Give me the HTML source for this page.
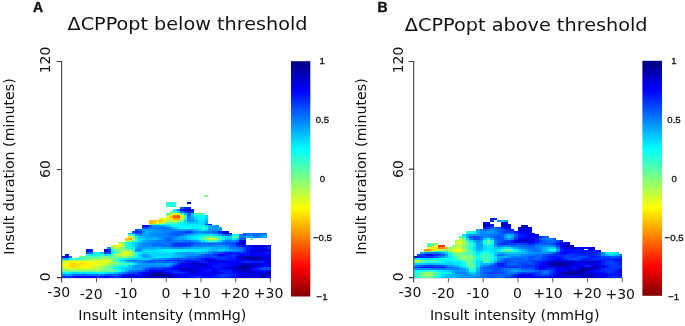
<!DOCTYPE html>
<html lang="en">
<head>
<meta charset="utf-8">
<title>ΔCPPopt insult intensity/duration heatmaps</title>
<style>
html,body{margin:0;padding:0;background:#fff;}
body{width:685px;height:326px;overflow:hidden;}
svg{display:block;}
text{opacity:0.999;}
.t{font-family:"DejaVu Sans","Liberation Sans",sans-serif;fill:#111;}
.a{font-family:"Liberation Sans",sans-serif;fill:#111;}
</style>
</head>
<body>
<svg width="685" height="326" viewBox="0 0 685 326">
<defs>
<linearGradient id="jet" x1="0" y1="0" x2="0" y2="1">
<stop offset="0" stop-color="#000080"/>
<stop offset="0.125" stop-color="#0000ff"/>
<stop offset="0.375" stop-color="#00ffff"/>
<stop offset="0.625" stop-color="#ffff00"/>
<stop offset="0.875" stop-color="#ff0000"/>
<stop offset="1" stop-color="#800000"/>
</linearGradient>
<filter id="soft" x="-2%" y="-5%" width="104%" height="110%"><feGaussianBlur stdDeviation="0.6"/></filter>
</defs>
<rect x="0" y="0" width="685" height="326" fill="#ffffff"/>

<!-- ===== Panel A ===== -->
<text class="a" x="33" y="11.8" font-size="14" font-weight="bold" stroke="#111" stroke-width="0.35">A</text>
<text class="t" x="67.5" y="29.7" font-size="18.5" textLength="240" lengthAdjust="spacingAndGlyphs">ΔCPPopt below threshold</text>
<path d="M61.65 277.9H270.4" stroke="#9a9a9a" stroke-width="0.7" fill="none"/>
<g filter="url(#soft)" shape-rendering="crispEdges">
<rect x="62.00" y="275.60" width="3.53" height="2.59" fill="#0027ff"/>
<rect x="62.00" y="273.81" width="3.53" height="1.85" fill="#0084ff"/>
<rect x="62.00" y="272.01" width="3.53" height="1.85" fill="#00ecff"/>
<rect x="62.00" y="270.22" width="3.53" height="1.85" fill="#68ff97"/>
<rect x="62.00" y="268.42" width="3.53" height="1.85" fill="#97ff68"/>
<rect x="62.00" y="266.63" width="3.53" height="1.85" fill="#c7ff38"/>
<rect x="62.00" y="264.83" width="3.53" height="1.85" fill="#e6ff19"/>
<rect x="62.00" y="263.04" width="3.53" height="1.85" fill="#deff21"/>
<rect x="62.00" y="261.25" width="3.53" height="1.85" fill="#bfff40"/>
<rect x="62.00" y="259.45" width="3.53" height="1.85" fill="#77ff88"/>
<rect x="62.00" y="257.65" width="3.53" height="1.85" fill="#00cbff"/>
<rect x="62.00" y="255.86" width="3.53" height="1.85" fill="#0000fc"/>
<rect x="65.48" y="275.60" width="3.53" height="2.59" fill="#0033ff"/>
<rect x="65.48" y="273.81" width="3.53" height="1.85" fill="#0099ff"/>
<rect x="65.48" y="272.01" width="3.53" height="1.85" fill="#00f8ff"/>
<rect x="65.48" y="270.22" width="3.53" height="1.85" fill="#6dff92"/>
<rect x="65.48" y="268.42" width="3.53" height="1.85" fill="#b4ff4b"/>
<rect x="65.48" y="266.63" width="3.53" height="1.85" fill="#f6ff09"/>
<rect x="65.48" y="264.83" width="3.53" height="1.85" fill="#fff300"/>
<rect x="65.48" y="263.04" width="3.53" height="1.85" fill="#fffd00"/>
<rect x="65.48" y="261.25" width="3.53" height="1.85" fill="#e5ff1a"/>
<rect x="65.48" y="259.45" width="3.53" height="1.85" fill="#84ff7b"/>
<rect x="65.48" y="257.65" width="3.53" height="1.85" fill="#00b0ff"/>
<rect x="65.48" y="255.86" width="3.53" height="1.85" fill="#0000ca"/>
<rect x="65.48" y="254.06" width="3.53" height="1.85" fill="#000cff"/>
<rect x="68.95" y="275.60" width="3.53" height="2.59" fill="#0031ff"/>
<rect x="68.95" y="273.81" width="3.53" height="1.85" fill="#0090ff"/>
<rect x="68.95" y="272.01" width="3.53" height="1.85" fill="#00e5ff"/>
<rect x="68.95" y="270.22" width="3.53" height="1.85" fill="#72ff8d"/>
<rect x="68.95" y="268.42" width="3.53" height="1.85" fill="#cfff30"/>
<rect x="68.95" y="266.63" width="3.53" height="1.85" fill="#ffe800"/>
<rect x="68.95" y="264.83" width="3.53" height="1.85" fill="#ffdd00"/>
<rect x="68.95" y="263.04" width="3.53" height="1.85" fill="#ffe600"/>
<rect x="68.95" y="261.25" width="3.53" height="1.85" fill="#fffb00"/>
<rect x="68.95" y="259.45" width="3.53" height="1.85" fill="#a6ff59"/>
<rect x="68.95" y="257.65" width="3.53" height="1.85" fill="#00fdff"/>
<rect x="68.95" y="255.86" width="3.53" height="1.85" fill="#0075ff"/>
<rect x="72.43" y="275.60" width="3.53" height="2.59" fill="#0012ff"/>
<rect x="72.43" y="273.81" width="3.53" height="1.85" fill="#006aff"/>
<rect x="72.43" y="272.01" width="3.53" height="1.85" fill="#00d4ff"/>
<rect x="72.43" y="270.22" width="3.53" height="1.85" fill="#6eff91"/>
<rect x="72.43" y="268.42" width="3.53" height="1.85" fill="#d6ff29"/>
<rect x="72.43" y="266.63" width="3.53" height="1.85" fill="#ffe200"/>
<rect x="72.43" y="264.83" width="3.53" height="1.85" fill="#ffda00"/>
<rect x="72.43" y="263.04" width="3.53" height="1.85" fill="#ffe300"/>
<rect x="72.43" y="261.25" width="3.53" height="1.85" fill="#fff100"/>
<rect x="72.43" y="259.45" width="3.53" height="1.85" fill="#b3ff4c"/>
<rect x="72.43" y="257.65" width="3.53" height="1.85" fill="#37ffc8"/>
<rect x="75.91" y="275.60" width="3.53" height="2.59" fill="#0000fe"/>
<rect x="75.91" y="273.81" width="3.53" height="1.85" fill="#0067ff"/>
<rect x="75.91" y="272.01" width="3.53" height="1.85" fill="#00d9ff"/>
<rect x="75.91" y="270.22" width="3.53" height="1.85" fill="#66ff99"/>
<rect x="75.91" y="268.42" width="3.53" height="1.85" fill="#d2ff2d"/>
<rect x="75.91" y="266.63" width="3.53" height="1.85" fill="#fff000"/>
<rect x="75.91" y="264.83" width="3.53" height="1.85" fill="#ffe300"/>
<rect x="75.91" y="263.04" width="3.53" height="1.85" fill="#ffe200"/>
<rect x="75.91" y="261.25" width="3.53" height="1.85" fill="#fff800"/>
<rect x="75.91" y="259.45" width="3.53" height="1.85" fill="#a5ff5a"/>
<rect x="75.91" y="257.65" width="3.53" height="1.85" fill="#34ffcb"/>
<rect x="79.38" y="275.60" width="3.53" height="2.59" fill="#0000eb"/>
<rect x="79.38" y="273.81" width="3.53" height="1.85" fill="#0062ff"/>
<rect x="79.38" y="272.01" width="3.53" height="1.85" fill="#00e4ff"/>
<rect x="79.38" y="270.22" width="3.53" height="1.85" fill="#71ff8e"/>
<rect x="79.38" y="268.42" width="3.53" height="1.85" fill="#d0ff2f"/>
<rect x="79.38" y="266.63" width="3.53" height="1.85" fill="#fcff03"/>
<rect x="79.38" y="264.83" width="3.53" height="1.85" fill="#fff100"/>
<rect x="79.38" y="263.04" width="3.53" height="1.85" fill="#ffe200"/>
<rect x="79.38" y="261.25" width="3.53" height="1.85" fill="#ffff00"/>
<rect x="79.38" y="259.45" width="3.53" height="1.85" fill="#a0ff5f"/>
<rect x="79.38" y="257.65" width="3.53" height="1.85" fill="#3effc1"/>
<rect x="79.38" y="255.86" width="3.53" height="1.85" fill="#63ff9c"/>
<rect x="82.86" y="275.60" width="3.53" height="2.59" fill="#0000ef"/>
<rect x="82.86" y="273.81" width="3.53" height="1.85" fill="#0055ff"/>
<rect x="82.86" y="272.01" width="3.53" height="1.85" fill="#00e1ff"/>
<rect x="82.86" y="270.22" width="3.53" height="1.85" fill="#7aff85"/>
<rect x="82.86" y="268.42" width="3.53" height="1.85" fill="#d6ff29"/>
<rect x="82.86" y="266.63" width="3.53" height="1.85" fill="#f7ff08"/>
<rect x="82.86" y="264.83" width="3.53" height="1.85" fill="#fff900"/>
<rect x="82.86" y="263.04" width="3.53" height="1.85" fill="#ffe700"/>
<rect x="82.86" y="261.25" width="3.53" height="1.85" fill="#f7ff08"/>
<rect x="82.86" y="259.45" width="3.53" height="1.85" fill="#acff53"/>
<rect x="82.86" y="257.65" width="3.53" height="1.85" fill="#5dffa2"/>
<rect x="82.86" y="255.86" width="3.53" height="1.85" fill="#61ff9e"/>
<rect x="86.34" y="275.60" width="3.53" height="2.59" fill="#0006ff"/>
<rect x="86.34" y="273.81" width="3.53" height="1.85" fill="#0069ff"/>
<rect x="86.34" y="272.01" width="3.53" height="1.85" fill="#00e8ff"/>
<rect x="86.34" y="270.22" width="3.53" height="1.85" fill="#74ff8b"/>
<rect x="86.34" y="268.42" width="3.53" height="1.85" fill="#c9ff36"/>
<rect x="86.34" y="266.63" width="3.53" height="1.85" fill="#f5ff0a"/>
<rect x="86.34" y="264.83" width="3.53" height="1.85" fill="#fff900"/>
<rect x="86.34" y="263.04" width="3.53" height="1.85" fill="#fff100"/>
<rect x="86.34" y="261.25" width="3.53" height="1.85" fill="#e8ff17"/>
<rect x="86.34" y="259.45" width="3.53" height="1.85" fill="#b9ff46"/>
<rect x="86.34" y="257.65" width="3.53" height="1.85" fill="#75ff8a"/>
<rect x="86.34" y="255.86" width="3.53" height="1.85" fill="#53ffac"/>
<rect x="86.34" y="254.06" width="3.53" height="1.85" fill="#00f9ff"/>
<rect x="86.34" y="252.27" width="3.53" height="1.85" fill="#005eff"/>
<rect x="86.34" y="250.47" width="3.53" height="1.85" fill="#0000d9"/>
<rect x="86.34" y="248.68" width="3.53" height="1.85" fill="#0014ff"/>
<rect x="89.81" y="275.60" width="3.53" height="2.59" fill="#0001ff"/>
<rect x="89.81" y="273.81" width="3.53" height="1.85" fill="#0070ff"/>
<rect x="89.81" y="272.01" width="3.53" height="1.85" fill="#00edff"/>
<rect x="89.81" y="270.22" width="3.53" height="1.85" fill="#72ff8d"/>
<rect x="89.81" y="268.42" width="3.53" height="1.85" fill="#bbff44"/>
<rect x="89.81" y="266.63" width="3.53" height="1.85" fill="#d9ff26"/>
<rect x="89.81" y="264.83" width="3.53" height="1.85" fill="#fdff02"/>
<rect x="89.81" y="263.04" width="3.53" height="1.85" fill="#fff500"/>
<rect x="89.81" y="261.25" width="3.53" height="1.85" fill="#e8ff17"/>
<rect x="89.81" y="259.45" width="3.53" height="1.85" fill="#c4ff3b"/>
<rect x="89.81" y="257.65" width="3.53" height="1.85" fill="#87ff78"/>
<rect x="89.81" y="255.86" width="3.53" height="1.85" fill="#52ffad"/>
<rect x="89.81" y="254.06" width="3.53" height="1.85" fill="#00f6ff"/>
<rect x="89.81" y="252.27" width="3.53" height="1.85" fill="#0071ff"/>
<rect x="89.81" y="250.47" width="3.53" height="1.85" fill="#0003ff"/>
<rect x="89.81" y="248.68" width="3.53" height="1.85" fill="#0032ff"/>
<rect x="93.29" y="275.60" width="3.53" height="2.59" fill="#0010ff"/>
<rect x="93.29" y="273.81" width="3.53" height="1.85" fill="#0071ff"/>
<rect x="93.29" y="272.01" width="3.53" height="1.85" fill="#00e8ff"/>
<rect x="93.29" y="270.22" width="3.53" height="1.85" fill="#78ff87"/>
<rect x="93.29" y="268.42" width="3.53" height="1.85" fill="#c1ff3e"/>
<rect x="93.29" y="266.63" width="3.53" height="1.85" fill="#b9ff46"/>
<rect x="93.29" y="264.83" width="3.53" height="1.85" fill="#e4ff1b"/>
<rect x="93.29" y="263.04" width="3.53" height="1.85" fill="#fbff04"/>
<rect x="93.29" y="261.25" width="3.53" height="1.85" fill="#ebff14"/>
<rect x="93.29" y="259.45" width="3.53" height="1.85" fill="#c2ff3d"/>
<rect x="93.29" y="257.65" width="3.53" height="1.85" fill="#87ff78"/>
<rect x="93.29" y="255.86" width="3.53" height="1.85" fill="#49ffb6"/>
<rect x="93.29" y="254.06" width="3.53" height="1.85" fill="#08fff7"/>
<rect x="93.29" y="252.27" width="3.53" height="1.85" fill="#00e3ff"/>
<rect x="96.77" y="275.60" width="3.53" height="2.59" fill="#002aff"/>
<rect x="96.77" y="273.81" width="3.53" height="1.85" fill="#007cff"/>
<rect x="96.77" y="272.01" width="3.53" height="1.85" fill="#00f7ff"/>
<rect x="96.77" y="270.22" width="3.53" height="1.85" fill="#74ff8b"/>
<rect x="96.77" y="268.42" width="3.53" height="1.85" fill="#b3ff4c"/>
<rect x="96.77" y="266.63" width="3.53" height="1.85" fill="#a5ff5a"/>
<rect x="96.77" y="264.83" width="3.53" height="1.85" fill="#ccff33"/>
<rect x="96.77" y="263.04" width="3.53" height="1.85" fill="#dfff20"/>
<rect x="96.77" y="261.25" width="3.53" height="1.85" fill="#e1ff1e"/>
<rect x="96.77" y="259.45" width="3.53" height="1.85" fill="#c0ff3f"/>
<rect x="96.77" y="257.65" width="3.53" height="1.85" fill="#88ff77"/>
<rect x="96.77" y="255.86" width="3.53" height="1.85" fill="#57ffa8"/>
<rect x="96.77" y="254.06" width="3.53" height="1.85" fill="#28ffd7"/>
<rect x="96.77" y="252.27" width="3.53" height="1.85" fill="#06fff9"/>
<rect x="100.24" y="275.60" width="3.53" height="2.59" fill="#0016ff"/>
<rect x="100.24" y="273.81" width="3.53" height="1.85" fill="#0075ff"/>
<rect x="100.24" y="272.01" width="3.53" height="1.85" fill="#01fffe"/>
<rect x="100.24" y="270.22" width="3.53" height="1.85" fill="#70ff8f"/>
<rect x="100.24" y="268.42" width="3.53" height="1.85" fill="#90ff6f"/>
<rect x="100.24" y="266.63" width="3.53" height="1.85" fill="#95ff6a"/>
<rect x="100.24" y="264.83" width="3.53" height="1.85" fill="#bcff43"/>
<rect x="100.24" y="263.04" width="3.53" height="1.85" fill="#d1ff2e"/>
<rect x="100.24" y="261.25" width="3.53" height="1.85" fill="#e6ff19"/>
<rect x="100.24" y="259.45" width="3.53" height="1.85" fill="#daff25"/>
<rect x="100.24" y="257.65" width="3.53" height="1.85" fill="#9bff64"/>
<rect x="100.24" y="255.86" width="3.53" height="1.85" fill="#76ff89"/>
<rect x="100.24" y="254.06" width="3.53" height="1.85" fill="#32ffcd"/>
<rect x="100.24" y="252.27" width="3.53" height="1.85" fill="#00c2ff"/>
<rect x="103.72" y="275.60" width="3.53" height="2.59" fill="#0000f9"/>
<rect x="103.72" y="273.81" width="3.53" height="1.85" fill="#0057ff"/>
<rect x="103.72" y="272.01" width="3.53" height="1.85" fill="#00eaff"/>
<rect x="103.72" y="270.22" width="3.53" height="1.85" fill="#66ff99"/>
<rect x="103.72" y="268.42" width="3.53" height="1.85" fill="#73ff8c"/>
<rect x="103.72" y="266.63" width="3.53" height="1.85" fill="#73ff8c"/>
<rect x="103.72" y="264.83" width="3.53" height="1.85" fill="#9eff61"/>
<rect x="103.72" y="263.04" width="3.53" height="1.85" fill="#c4ff3b"/>
<rect x="103.72" y="261.25" width="3.53" height="1.85" fill="#f0ff0f"/>
<rect x="103.72" y="259.45" width="3.53" height="1.85" fill="#f3ff0c"/>
<rect x="103.72" y="257.65" width="3.53" height="1.85" fill="#aaff55"/>
<rect x="103.72" y="255.86" width="3.53" height="1.85" fill="#6fff90"/>
<rect x="103.72" y="254.06" width="3.53" height="1.85" fill="#00e9ff"/>
<rect x="103.72" y="252.27" width="3.53" height="1.85" fill="#002dff"/>
<rect x="103.72" y="250.47" width="3.53" height="1.85" fill="#0000c8"/>
<rect x="103.72" y="248.68" width="3.53" height="1.85" fill="#0000cc"/>
<rect x="107.20" y="275.60" width="3.53" height="2.59" fill="#000cff"/>
<rect x="107.20" y="273.81" width="3.53" height="1.85" fill="#0047ff"/>
<rect x="107.20" y="272.01" width="3.53" height="1.85" fill="#00d7ff"/>
<rect x="107.20" y="270.22" width="3.53" height="1.85" fill="#60ff9f"/>
<rect x="107.20" y="268.42" width="3.53" height="1.85" fill="#71ff8e"/>
<rect x="107.20" y="266.63" width="3.53" height="1.85" fill="#4bffb4"/>
<rect x="107.20" y="264.83" width="3.53" height="1.85" fill="#76ff89"/>
<rect x="107.20" y="263.04" width="3.53" height="1.85" fill="#adff52"/>
<rect x="107.20" y="261.25" width="3.53" height="1.85" fill="#d8ff27"/>
<rect x="107.20" y="259.45" width="3.53" height="1.85" fill="#ddff22"/>
<rect x="107.20" y="257.65" width="3.53" height="1.85" fill="#a0ff5f"/>
<rect x="107.20" y="255.86" width="3.53" height="1.85" fill="#5dffa2"/>
<rect x="107.20" y="254.06" width="3.53" height="1.85" fill="#00f5ff"/>
<rect x="107.20" y="252.27" width="3.53" height="1.85" fill="#005aff"/>
<rect x="107.20" y="250.47" width="3.53" height="1.85" fill="#000eff"/>
<rect x="107.20" y="248.68" width="3.53" height="1.85" fill="#0025ff"/>
<rect x="107.20" y="246.88" width="3.53" height="1.85" fill="#0094ff"/>
<rect x="110.67" y="275.60" width="3.53" height="2.59" fill="#0024ff"/>
<rect x="110.67" y="273.81" width="3.53" height="1.85" fill="#004dff"/>
<rect x="110.67" y="272.01" width="3.53" height="1.85" fill="#00d4ff"/>
<rect x="110.67" y="270.22" width="3.53" height="1.85" fill="#5fffa0"/>
<rect x="110.67" y="268.42" width="3.53" height="1.85" fill="#59ffa6"/>
<rect x="110.67" y="266.63" width="3.53" height="1.85" fill="#27ffd8"/>
<rect x="110.67" y="264.83" width="3.53" height="1.85" fill="#4fffb0"/>
<rect x="110.67" y="263.04" width="3.53" height="1.85" fill="#94ff6b"/>
<rect x="110.67" y="261.25" width="3.53" height="1.85" fill="#a0ff5f"/>
<rect x="110.67" y="259.45" width="3.53" height="1.85" fill="#8eff71"/>
<rect x="110.67" y="257.65" width="3.53" height="1.85" fill="#75ff8a"/>
<rect x="110.67" y="255.86" width="3.53" height="1.85" fill="#66ff99"/>
<rect x="110.67" y="254.06" width="3.53" height="1.85" fill="#57ffa8"/>
<rect x="110.67" y="252.27" width="3.53" height="1.85" fill="#00feff"/>
<rect x="110.67" y="250.47" width="3.53" height="1.85" fill="#00ecff"/>
<rect x="110.67" y="248.68" width="3.53" height="1.85" fill="#15ffea"/>
<rect x="110.67" y="246.88" width="3.53" height="1.85" fill="#7bff84"/>
<rect x="110.67" y="245.09" width="3.53" height="1.85" fill="#bfff40"/>
<rect x="114.15" y="275.60" width="3.53" height="2.59" fill="#0038ff"/>
<rect x="114.15" y="273.81" width="3.53" height="1.85" fill="#0058ff"/>
<rect x="114.15" y="272.01" width="3.53" height="1.85" fill="#00c0ff"/>
<rect x="114.15" y="270.22" width="3.53" height="1.85" fill="#3fffc0"/>
<rect x="114.15" y="268.42" width="3.53" height="1.85" fill="#23ffdc"/>
<rect x="114.15" y="266.63" width="3.53" height="1.85" fill="#01fffe"/>
<rect x="114.15" y="264.83" width="3.53" height="1.85" fill="#2affd5"/>
<rect x="114.15" y="263.04" width="3.53" height="1.85" fill="#81ff7e"/>
<rect x="114.15" y="261.25" width="3.53" height="1.85" fill="#62ff9d"/>
<rect x="114.15" y="259.45" width="3.53" height="1.85" fill="#3fffc0"/>
<rect x="114.15" y="257.65" width="3.53" height="1.85" fill="#4cffb3"/>
<rect x="114.15" y="255.86" width="3.53" height="1.85" fill="#76ff89"/>
<rect x="114.15" y="254.06" width="3.53" height="1.85" fill="#94ff6b"/>
<rect x="114.15" y="252.27" width="3.53" height="1.85" fill="#4cffb3"/>
<rect x="114.15" y="250.47" width="3.53" height="1.85" fill="#3dffc2"/>
<rect x="114.15" y="248.68" width="3.53" height="1.85" fill="#66ff99"/>
<rect x="114.15" y="246.88" width="3.53" height="1.85" fill="#c2ff3d"/>
<rect x="114.15" y="245.09" width="3.53" height="1.85" fill="#fff900"/>
<rect x="117.63" y="275.60" width="3.53" height="2.59" fill="#0028ff"/>
<rect x="117.63" y="273.81" width="3.53" height="1.85" fill="#0044ff"/>
<rect x="117.63" y="272.01" width="3.53" height="1.85" fill="#009bff"/>
<rect x="117.63" y="270.22" width="3.53" height="1.85" fill="#0afff5"/>
<rect x="117.63" y="268.42" width="3.53" height="1.85" fill="#00f8ff"/>
<rect x="117.63" y="266.63" width="3.53" height="1.85" fill="#00edff"/>
<rect x="117.63" y="264.83" width="3.53" height="1.85" fill="#09fff6"/>
<rect x="117.63" y="263.04" width="3.53" height="1.85" fill="#6bff94"/>
<rect x="117.63" y="261.25" width="3.53" height="1.85" fill="#2effd1"/>
<rect x="117.63" y="259.45" width="3.53" height="1.85" fill="#00ffff"/>
<rect x="117.63" y="257.65" width="3.53" height="1.85" fill="#25ffda"/>
<rect x="117.63" y="255.86" width="3.53" height="1.85" fill="#80ff7f"/>
<rect x="117.63" y="254.06" width="3.53" height="1.85" fill="#b1ff4e"/>
<rect x="117.63" y="252.27" width="3.53" height="1.85" fill="#8bff74"/>
<rect x="117.63" y="250.47" width="3.53" height="1.85" fill="#76ff89"/>
<rect x="117.63" y="248.68" width="3.53" height="1.85" fill="#82ff7d"/>
<rect x="117.63" y="246.88" width="3.53" height="1.85" fill="#b0ff4f"/>
<rect x="117.63" y="245.09" width="3.53" height="1.85" fill="#fffe00"/>
<rect x="117.63" y="243.29" width="3.53" height="1.85" fill="#f8ff07"/>
<rect x="117.63" y="241.50" width="3.53" height="1.85" fill="#b5ff4a"/>
<rect x="121.10" y="275.60" width="3.53" height="2.59" fill="#0000fe"/>
<rect x="121.10" y="273.81" width="3.53" height="1.85" fill="#0024ff"/>
<rect x="121.10" y="272.01" width="3.53" height="1.85" fill="#0083ff"/>
<rect x="121.10" y="270.22" width="3.53" height="1.85" fill="#00dfff"/>
<rect x="121.10" y="268.42" width="3.53" height="1.85" fill="#00d5ff"/>
<rect x="121.10" y="266.63" width="3.53" height="1.85" fill="#00e1ff"/>
<rect x="121.10" y="264.83" width="3.53" height="1.85" fill="#00fbff"/>
<rect x="121.10" y="263.04" width="3.53" height="1.85" fill="#5affa5"/>
<rect x="121.10" y="261.25" width="3.53" height="1.85" fill="#00feff"/>
<rect x="121.10" y="259.45" width="3.53" height="1.85" fill="#00b5ff"/>
<rect x="121.10" y="257.65" width="3.53" height="1.85" fill="#0dfff2"/>
<rect x="121.10" y="255.86" width="3.53" height="1.85" fill="#94ff6b"/>
<rect x="121.10" y="254.06" width="3.53" height="1.85" fill="#c9ff36"/>
<rect x="121.10" y="252.27" width="3.53" height="1.85" fill="#c7ff38"/>
<rect x="121.10" y="250.47" width="3.53" height="1.85" fill="#b2ff4d"/>
<rect x="121.10" y="248.68" width="3.53" height="1.85" fill="#8fff70"/>
<rect x="121.10" y="246.88" width="3.53" height="1.85" fill="#73ff8c"/>
<rect x="121.10" y="245.09" width="3.53" height="1.85" fill="#a7ff58"/>
<rect x="121.10" y="243.29" width="3.53" height="1.85" fill="#a2ff5d"/>
<rect x="121.10" y="241.50" width="3.53" height="1.85" fill="#6cff93"/>
<rect x="124.58" y="275.60" width="3.53" height="2.59" fill="#0000e3"/>
<rect x="124.58" y="273.81" width="3.53" height="1.85" fill="#0008ff"/>
<rect x="124.58" y="272.01" width="3.53" height="1.85" fill="#0064ff"/>
<rect x="124.58" y="270.22" width="3.53" height="1.85" fill="#00adff"/>
<rect x="124.58" y="268.42" width="3.53" height="1.85" fill="#00bcff"/>
<rect x="124.58" y="266.63" width="3.53" height="1.85" fill="#00deff"/>
<rect x="124.58" y="264.83" width="3.53" height="1.85" fill="#00f6ff"/>
<rect x="124.58" y="263.04" width="3.53" height="1.85" fill="#4bffb4"/>
<rect x="124.58" y="261.25" width="3.53" height="1.85" fill="#00d1ff"/>
<rect x="124.58" y="259.45" width="3.53" height="1.85" fill="#007eff"/>
<rect x="124.58" y="257.65" width="3.53" height="1.85" fill="#00f7ff"/>
<rect x="124.58" y="255.86" width="3.53" height="1.85" fill="#8fff70"/>
<rect x="124.58" y="254.06" width="3.53" height="1.85" fill="#d1ff2e"/>
<rect x="124.58" y="252.27" width="3.53" height="1.85" fill="#e6ff19"/>
<rect x="124.58" y="250.47" width="3.53" height="1.85" fill="#c9ff36"/>
<rect x="124.58" y="248.68" width="3.53" height="1.85" fill="#86ff79"/>
<rect x="124.58" y="246.88" width="3.53" height="1.85" fill="#3dffc2"/>
<rect x="124.58" y="245.09" width="3.53" height="1.85" fill="#38ffc7"/>
<rect x="124.58" y="243.29" width="3.53" height="1.85" fill="#2cffd3"/>
<rect x="124.58" y="241.50" width="3.53" height="1.85" fill="#30ffcf"/>
<rect x="124.58" y="239.70" width="3.53" height="1.85" fill="#b3ff4c"/>
<rect x="124.58" y="237.91" width="3.53" height="1.85" fill="#ffbe00"/>
<rect x="128.06" y="275.60" width="3.53" height="2.59" fill="#0000da"/>
<rect x="128.06" y="273.81" width="3.53" height="1.85" fill="#0000f4"/>
<rect x="128.06" y="272.01" width="3.53" height="1.85" fill="#0046ff"/>
<rect x="128.06" y="270.22" width="3.53" height="1.85" fill="#0084ff"/>
<rect x="128.06" y="268.42" width="3.53" height="1.85" fill="#00b1ff"/>
<rect x="128.06" y="266.63" width="3.53" height="1.85" fill="#00c8ff"/>
<rect x="128.06" y="264.83" width="3.53" height="1.85" fill="#00d3ff"/>
<rect x="128.06" y="263.04" width="3.53" height="1.85" fill="#29ffd6"/>
<rect x="128.06" y="261.25" width="3.53" height="1.85" fill="#00b2ff"/>
<rect x="128.06" y="259.45" width="3.53" height="1.85" fill="#0067ff"/>
<rect x="128.06" y="257.65" width="3.53" height="1.85" fill="#00deff"/>
<rect x="128.06" y="255.86" width="3.53" height="1.85" fill="#6bff94"/>
<rect x="128.06" y="254.06" width="3.53" height="1.85" fill="#b5ff4a"/>
<rect x="128.06" y="252.27" width="3.53" height="1.85" fill="#d0ff2f"/>
<rect x="128.06" y="250.47" width="3.53" height="1.85" fill="#adff52"/>
<rect x="128.06" y="248.68" width="3.53" height="1.85" fill="#6bff94"/>
<rect x="128.06" y="246.88" width="3.53" height="1.85" fill="#24ffdb"/>
<rect x="128.06" y="245.09" width="3.53" height="1.85" fill="#03fffc"/>
<rect x="128.06" y="243.29" width="3.53" height="1.85" fill="#00f1ff"/>
<rect x="128.06" y="241.50" width="3.53" height="1.85" fill="#02fffd"/>
<rect x="128.06" y="239.70" width="3.53" height="1.85" fill="#a1ff5e"/>
<rect x="128.06" y="237.91" width="3.53" height="1.85" fill="#ffad00"/>
<rect x="128.06" y="236.11" width="3.53" height="1.85" fill="#ffe700"/>
<rect x="128.06" y="234.32" width="3.53" height="1.85" fill="#62ff9d"/>
<rect x="128.06" y="232.52" width="3.53" height="1.85" fill="#00bbff"/>
<rect x="131.53" y="275.60" width="3.53" height="2.59" fill="#0000e7"/>
<rect x="131.53" y="273.81" width="3.53" height="1.85" fill="#0004ff"/>
<rect x="131.53" y="272.01" width="3.53" height="1.85" fill="#0043ff"/>
<rect x="131.53" y="270.22" width="3.53" height="1.85" fill="#0072ff"/>
<rect x="131.53" y="268.42" width="3.53" height="1.85" fill="#00a4ff"/>
<rect x="131.53" y="266.63" width="3.53" height="1.85" fill="#00a5ff"/>
<rect x="131.53" y="264.83" width="3.53" height="1.85" fill="#00a7ff"/>
<rect x="131.53" y="263.04" width="3.53" height="1.85" fill="#00f9ff"/>
<rect x="131.53" y="261.25" width="3.53" height="1.85" fill="#00a1ff"/>
<rect x="131.53" y="259.45" width="3.53" height="1.85" fill="#0064ff"/>
<rect x="131.53" y="257.65" width="3.53" height="1.85" fill="#00d3ff"/>
<rect x="131.53" y="255.86" width="3.53" height="1.85" fill="#3cffc3"/>
<rect x="131.53" y="254.06" width="3.53" height="1.85" fill="#77ff88"/>
<rect x="131.53" y="252.27" width="3.53" height="1.85" fill="#80ff7f"/>
<rect x="131.53" y="250.47" width="3.53" height="1.85" fill="#47ffb8"/>
<rect x="131.53" y="248.68" width="3.53" height="1.85" fill="#11ffee"/>
<rect x="131.53" y="246.88" width="3.53" height="1.85" fill="#00f7ff"/>
<rect x="131.53" y="245.09" width="3.53" height="1.85" fill="#00e8ff"/>
<rect x="131.53" y="243.29" width="3.53" height="1.85" fill="#00d7ff"/>
<rect x="131.53" y="241.50" width="3.53" height="1.85" fill="#00deff"/>
<rect x="131.53" y="239.70" width="3.53" height="1.85" fill="#58ffa7"/>
<rect x="131.53" y="237.91" width="3.53" height="1.85" fill="#beff41"/>
<rect x="131.53" y="236.11" width="3.53" height="1.85" fill="#93ff6c"/>
<rect x="131.53" y="234.32" width="3.53" height="1.85" fill="#01fffe"/>
<rect x="131.53" y="232.52" width="3.53" height="1.85" fill="#0075ff"/>
<rect x="131.53" y="230.73" width="3.53" height="1.85" fill="#0045ff"/>
<rect x="135.01" y="275.60" width="3.53" height="2.59" fill="#0000f0"/>
<rect x="135.01" y="273.81" width="3.53" height="1.85" fill="#0024ff"/>
<rect x="135.01" y="272.01" width="3.53" height="1.85" fill="#003cff"/>
<rect x="135.01" y="270.22" width="3.53" height="1.85" fill="#006cff"/>
<rect x="135.01" y="268.42" width="3.53" height="1.85" fill="#009bff"/>
<rect x="135.01" y="266.63" width="3.53" height="1.85" fill="#0095ff"/>
<rect x="135.01" y="264.83" width="3.53" height="1.85" fill="#0091ff"/>
<rect x="135.01" y="263.04" width="3.53" height="1.85" fill="#00c8ff"/>
<rect x="135.01" y="261.25" width="3.53" height="1.85" fill="#0096ff"/>
<rect x="135.01" y="259.45" width="3.53" height="1.85" fill="#006fff"/>
<rect x="135.01" y="257.65" width="3.53" height="1.85" fill="#00cbff"/>
<rect x="135.01" y="255.86" width="3.53" height="1.85" fill="#10ffef"/>
<rect x="135.01" y="254.06" width="3.53" height="1.85" fill="#24ffdb"/>
<rect x="135.01" y="252.27" width="3.53" height="1.85" fill="#1effe1"/>
<rect x="135.01" y="250.47" width="3.53" height="1.85" fill="#00c0ff"/>
<rect x="135.01" y="248.68" width="3.53" height="1.85" fill="#0085ff"/>
<rect x="135.01" y="246.88" width="3.53" height="1.85" fill="#00a4ff"/>
<rect x="135.01" y="245.09" width="3.53" height="1.85" fill="#00c5ff"/>
<rect x="135.01" y="243.29" width="3.53" height="1.85" fill="#00beff"/>
<rect x="135.01" y="241.50" width="3.53" height="1.85" fill="#00cdff"/>
<rect x="135.01" y="239.70" width="3.53" height="1.85" fill="#1affe5"/>
<rect x="135.01" y="237.91" width="3.53" height="1.85" fill="#1cffe3"/>
<rect x="135.01" y="236.11" width="3.53" height="1.85" fill="#00f3ff"/>
<rect x="135.01" y="234.32" width="3.53" height="1.85" fill="#00a4ff"/>
<rect x="135.01" y="232.52" width="3.53" height="1.85" fill="#004eff"/>
<rect x="135.01" y="230.73" width="3.53" height="1.85" fill="#0027ff"/>
<rect x="135.01" y="228.93" width="3.53" height="1.85" fill="#004dff"/>
<rect x="138.49" y="275.60" width="3.53" height="2.59" fill="#0000e5"/>
<rect x="138.49" y="273.81" width="3.53" height="1.85" fill="#0015ff"/>
<rect x="138.49" y="272.01" width="3.53" height="1.85" fill="#0015ff"/>
<rect x="138.49" y="270.22" width="3.53" height="1.85" fill="#0060ff"/>
<rect x="138.49" y="268.42" width="3.53" height="1.85" fill="#0095ff"/>
<rect x="138.49" y="266.63" width="3.53" height="1.85" fill="#009eff"/>
<rect x="138.49" y="264.83" width="3.53" height="1.85" fill="#0091ff"/>
<rect x="138.49" y="263.04" width="3.53" height="1.85" fill="#00a2ff"/>
<rect x="138.49" y="261.25" width="3.53" height="1.85" fill="#008eff"/>
<rect x="138.49" y="259.45" width="3.53" height="1.85" fill="#0084ff"/>
<rect x="138.49" y="257.65" width="3.53" height="1.85" fill="#00ccff"/>
<rect x="138.49" y="255.86" width="3.53" height="1.85" fill="#00dfff"/>
<rect x="138.49" y="254.06" width="3.53" height="1.85" fill="#00d6ff"/>
<rect x="138.49" y="252.27" width="3.53" height="1.85" fill="#00e9ff"/>
<rect x="138.49" y="250.47" width="3.53" height="1.85" fill="#00b1ff"/>
<rect x="138.49" y="248.68" width="3.53" height="1.85" fill="#0089ff"/>
<rect x="138.49" y="246.88" width="3.53" height="1.85" fill="#0090ff"/>
<rect x="138.49" y="245.09" width="3.53" height="1.85" fill="#00a1ff"/>
<rect x="138.49" y="243.29" width="3.53" height="1.85" fill="#009fff"/>
<rect x="138.49" y="241.50" width="3.53" height="1.85" fill="#00aaff"/>
<rect x="138.49" y="239.70" width="3.53" height="1.85" fill="#00dbff"/>
<rect x="138.49" y="237.91" width="3.53" height="1.85" fill="#00dcff"/>
<rect x="138.49" y="236.11" width="3.53" height="1.85" fill="#00bbff"/>
<rect x="138.49" y="234.32" width="3.53" height="1.85" fill="#008cff"/>
<rect x="138.49" y="232.52" width="3.53" height="1.85" fill="#0061ff"/>
<rect x="138.49" y="230.73" width="3.53" height="1.85" fill="#003fff"/>
<rect x="138.49" y="228.93" width="3.53" height="1.85" fill="#0065ff"/>
<rect x="141.96" y="275.60" width="3.53" height="2.59" fill="#0000d1"/>
<rect x="141.96" y="273.81" width="3.53" height="1.85" fill="#0000e5"/>
<rect x="141.96" y="272.01" width="3.53" height="1.85" fill="#0000f9"/>
<rect x="141.96" y="270.22" width="3.53" height="1.85" fill="#0048ff"/>
<rect x="141.96" y="268.42" width="3.53" height="1.85" fill="#0076ff"/>
<rect x="141.96" y="266.63" width="3.53" height="1.85" fill="#0095ff"/>
<rect x="141.96" y="264.83" width="3.53" height="1.85" fill="#0099ff"/>
<rect x="141.96" y="263.04" width="3.53" height="1.85" fill="#0096ff"/>
<rect x="141.96" y="261.25" width="3.53" height="1.85" fill="#007cff"/>
<rect x="141.96" y="259.45" width="3.53" height="1.85" fill="#0090ff"/>
<rect x="141.96" y="257.65" width="3.53" height="1.85" fill="#00ccff"/>
<rect x="141.96" y="255.86" width="3.53" height="1.85" fill="#00a7ff"/>
<rect x="141.96" y="254.06" width="3.53" height="1.85" fill="#00a6ff"/>
<rect x="141.96" y="252.27" width="3.53" height="1.85" fill="#00d5ff"/>
<rect x="141.96" y="250.47" width="3.53" height="1.85" fill="#00d9ff"/>
<rect x="141.96" y="248.68" width="3.53" height="1.85" fill="#00c4ff"/>
<rect x="141.96" y="246.88" width="3.53" height="1.85" fill="#009bff"/>
<rect x="141.96" y="245.09" width="3.53" height="1.85" fill="#008bff"/>
<rect x="141.96" y="243.29" width="3.53" height="1.85" fill="#0089ff"/>
<rect x="141.96" y="241.50" width="3.53" height="1.85" fill="#0092ff"/>
<rect x="141.96" y="239.70" width="3.53" height="1.85" fill="#00b4ff"/>
<rect x="141.96" y="237.91" width="3.53" height="1.85" fill="#00cdff"/>
<rect x="141.96" y="236.11" width="3.53" height="1.85" fill="#00bdff"/>
<rect x="141.96" y="234.32" width="3.53" height="1.85" fill="#00a2ff"/>
<rect x="141.96" y="232.52" width="3.53" height="1.85" fill="#009fff"/>
<rect x="141.96" y="230.73" width="3.53" height="1.85" fill="#0093ff"/>
<rect x="141.96" y="228.93" width="3.53" height="1.85" fill="#0094ff"/>
<rect x="141.96" y="227.14" width="3.53" height="1.85" fill="#0053ff"/>
<rect x="141.96" y="225.34" width="3.53" height="1.85" fill="#0008ff"/>
<rect x="145.44" y="275.60" width="3.53" height="2.59" fill="#0000c0"/>
<rect x="145.44" y="273.81" width="3.53" height="1.85" fill="#0000c7"/>
<rect x="145.44" y="272.01" width="3.53" height="1.85" fill="#0000f2"/>
<rect x="145.44" y="270.22" width="3.53" height="1.85" fill="#0024ff"/>
<rect x="145.44" y="268.42" width="3.53" height="1.85" fill="#004cff"/>
<rect x="145.44" y="266.63" width="3.53" height="1.85" fill="#007aff"/>
<rect x="145.44" y="264.83" width="3.53" height="1.85" fill="#0092ff"/>
<rect x="145.44" y="263.04" width="3.53" height="1.85" fill="#009bff"/>
<rect x="145.44" y="261.25" width="3.53" height="1.85" fill="#0061ff"/>
<rect x="145.44" y="259.45" width="3.53" height="1.85" fill="#0084ff"/>
<rect x="145.44" y="257.65" width="3.53" height="1.85" fill="#00cdff"/>
<rect x="145.44" y="255.86" width="3.53" height="1.85" fill="#009fff"/>
<rect x="145.44" y="254.06" width="3.53" height="1.85" fill="#00aeff"/>
<rect x="145.44" y="252.27" width="3.53" height="1.85" fill="#00cdff"/>
<rect x="145.44" y="250.47" width="3.53" height="1.85" fill="#00f1ff"/>
<rect x="145.44" y="248.68" width="3.53" height="1.85" fill="#00d6ff"/>
<rect x="145.44" y="246.88" width="3.53" height="1.85" fill="#00a5ff"/>
<rect x="145.44" y="245.09" width="3.53" height="1.85" fill="#0089ff"/>
<rect x="145.44" y="243.29" width="3.53" height="1.85" fill="#0083ff"/>
<rect x="145.44" y="241.50" width="3.53" height="1.85" fill="#0090ff"/>
<rect x="145.44" y="239.70" width="3.53" height="1.85" fill="#00a0ff"/>
<rect x="145.44" y="237.91" width="3.53" height="1.85" fill="#00baff"/>
<rect x="145.44" y="236.11" width="3.53" height="1.85" fill="#00aaff"/>
<rect x="145.44" y="234.32" width="3.53" height="1.85" fill="#00a3ff"/>
<rect x="145.44" y="232.52" width="3.53" height="1.85" fill="#00b1ff"/>
<rect x="145.44" y="230.73" width="3.53" height="1.85" fill="#00b5ff"/>
<rect x="145.44" y="228.93" width="3.53" height="1.85" fill="#00a2ff"/>
<rect x="145.44" y="227.14" width="3.53" height="1.85" fill="#004dff"/>
<rect x="145.44" y="225.34" width="3.53" height="1.85" fill="#0000ec"/>
<rect x="148.92" y="275.60" width="3.53" height="2.59" fill="#0000bd"/>
<rect x="148.92" y="273.81" width="3.53" height="1.85" fill="#0000ae"/>
<rect x="148.92" y="272.01" width="3.53" height="1.85" fill="#0000d9"/>
<rect x="148.92" y="270.22" width="3.53" height="1.85" fill="#0000fd"/>
<rect x="148.92" y="268.42" width="3.53" height="1.85" fill="#0033ff"/>
<rect x="148.92" y="266.63" width="3.53" height="1.85" fill="#0063ff"/>
<rect x="148.92" y="264.83" width="3.53" height="1.85" fill="#0088ff"/>
<rect x="148.92" y="263.04" width="3.53" height="1.85" fill="#009aff"/>
<rect x="148.92" y="261.25" width="3.53" height="1.85" fill="#0053ff"/>
<rect x="148.92" y="259.45" width="3.53" height="1.85" fill="#0068ff"/>
<rect x="148.92" y="257.65" width="3.53" height="1.85" fill="#00c1ff"/>
<rect x="148.92" y="255.86" width="3.53" height="1.85" fill="#00b4ff"/>
<rect x="148.92" y="254.06" width="3.53" height="1.85" fill="#00caff"/>
<rect x="148.92" y="252.27" width="3.53" height="1.85" fill="#00d5ff"/>
<rect x="148.92" y="250.47" width="3.53" height="1.85" fill="#00f1ff"/>
<rect x="148.92" y="248.68" width="3.53" height="1.85" fill="#00cfff"/>
<rect x="148.92" y="246.88" width="3.53" height="1.85" fill="#00a7ff"/>
<rect x="148.92" y="245.09" width="3.53" height="1.85" fill="#0087ff"/>
<rect x="148.92" y="243.29" width="3.53" height="1.85" fill="#007aff"/>
<rect x="148.92" y="241.50" width="3.53" height="1.85" fill="#008bff"/>
<rect x="148.92" y="239.70" width="3.53" height="1.85" fill="#0096ff"/>
<rect x="148.92" y="237.91" width="3.53" height="1.85" fill="#00b6ff"/>
<rect x="148.92" y="236.11" width="3.53" height="1.85" fill="#009cff"/>
<rect x="148.92" y="234.32" width="3.53" height="1.85" fill="#0095ff"/>
<rect x="148.92" y="232.52" width="3.53" height="1.85" fill="#009bff"/>
<rect x="148.92" y="230.73" width="3.53" height="1.85" fill="#009fff"/>
<rect x="148.92" y="228.93" width="3.53" height="1.85" fill="#009bff"/>
<rect x="148.92" y="227.14" width="3.53" height="1.85" fill="#0072ff"/>
<rect x="148.92" y="225.34" width="3.53" height="1.85" fill="#0055ff"/>
<rect x="148.92" y="223.55" width="3.53" height="1.85" fill="#52ffad"/>
<rect x="148.92" y="221.75" width="3.53" height="1.85" fill="#ffb700"/>
<rect x="148.92" y="219.96" width="3.53" height="1.85" fill="#ffb600"/>
<rect x="152.39" y="275.60" width="3.53" height="2.59" fill="#0000ba"/>
<rect x="152.39" y="273.81" width="3.53" height="1.85" fill="#00008f"/>
<rect x="152.39" y="272.01" width="3.53" height="1.85" fill="#0000af"/>
<rect x="152.39" y="270.22" width="3.53" height="1.85" fill="#0000df"/>
<rect x="152.39" y="268.42" width="3.53" height="1.85" fill="#0026ff"/>
<rect x="152.39" y="266.63" width="3.53" height="1.85" fill="#0060ff"/>
<rect x="152.39" y="264.83" width="3.53" height="1.85" fill="#0086ff"/>
<rect x="152.39" y="263.04" width="3.53" height="1.85" fill="#009aff"/>
<rect x="152.39" y="261.25" width="3.53" height="1.85" fill="#005fff"/>
<rect x="152.39" y="259.45" width="3.53" height="1.85" fill="#005cff"/>
<rect x="152.39" y="257.65" width="3.53" height="1.85" fill="#00a5ff"/>
<rect x="152.39" y="255.86" width="3.53" height="1.85" fill="#00d6ff"/>
<rect x="152.39" y="254.06" width="3.53" height="1.85" fill="#00d8ff"/>
<rect x="152.39" y="252.27" width="3.53" height="1.85" fill="#00d7ff"/>
<rect x="152.39" y="250.47" width="3.53" height="1.85" fill="#00e9ff"/>
<rect x="152.39" y="248.68" width="3.53" height="1.85" fill="#00d2ff"/>
<rect x="152.39" y="246.88" width="3.53" height="1.85" fill="#00a7ff"/>
<rect x="152.39" y="245.09" width="3.53" height="1.85" fill="#0076ff"/>
<rect x="152.39" y="243.29" width="3.53" height="1.85" fill="#0070ff"/>
<rect x="152.39" y="241.50" width="3.53" height="1.85" fill="#0081ff"/>
<rect x="152.39" y="239.70" width="3.53" height="1.85" fill="#0089ff"/>
<rect x="152.39" y="237.91" width="3.53" height="1.85" fill="#00bcff"/>
<rect x="152.39" y="236.11" width="3.53" height="1.85" fill="#00a1ff"/>
<rect x="152.39" y="234.32" width="3.53" height="1.85" fill="#008dff"/>
<rect x="152.39" y="232.52" width="3.53" height="1.85" fill="#0094ff"/>
<rect x="152.39" y="230.73" width="3.53" height="1.85" fill="#0096ff"/>
<rect x="152.39" y="228.93" width="3.53" height="1.85" fill="#0098ff"/>
<rect x="152.39" y="227.14" width="3.53" height="1.85" fill="#0082ff"/>
<rect x="152.39" y="225.34" width="3.53" height="1.85" fill="#0092ff"/>
<rect x="152.39" y="223.55" width="3.53" height="1.85" fill="#63ff9c"/>
<rect x="152.39" y="221.75" width="3.53" height="1.85" fill="#ffc900"/>
<rect x="152.39" y="219.96" width="3.53" height="1.85" fill="#ffc300"/>
<rect x="155.87" y="275.60" width="3.53" height="2.59" fill="#0000bc"/>
<rect x="155.87" y="273.81" width="3.53" height="1.85" fill="#000080"/>
<rect x="155.87" y="272.01" width="3.53" height="1.85" fill="#0000a1"/>
<rect x="155.87" y="270.22" width="3.53" height="1.85" fill="#0000e7"/>
<rect x="155.87" y="268.42" width="3.53" height="1.85" fill="#002dff"/>
<rect x="155.87" y="266.63" width="3.53" height="1.85" fill="#006eff"/>
<rect x="155.87" y="264.83" width="3.53" height="1.85" fill="#008aff"/>
<rect x="155.87" y="263.04" width="3.53" height="1.85" fill="#009cff"/>
<rect x="155.87" y="261.25" width="3.53" height="1.85" fill="#006bff"/>
<rect x="155.87" y="259.45" width="3.53" height="1.85" fill="#005aff"/>
<rect x="155.87" y="257.65" width="3.53" height="1.85" fill="#0097ff"/>
<rect x="155.87" y="255.86" width="3.53" height="1.85" fill="#00f3ff"/>
<rect x="155.87" y="254.06" width="3.53" height="1.85" fill="#00d6ff"/>
<rect x="155.87" y="252.27" width="3.53" height="1.85" fill="#00d6ff"/>
<rect x="155.87" y="250.47" width="3.53" height="1.85" fill="#00e9ff"/>
<rect x="155.87" y="248.68" width="3.53" height="1.85" fill="#00e6ff"/>
<rect x="155.87" y="246.88" width="3.53" height="1.85" fill="#00b5ff"/>
<rect x="155.87" y="245.09" width="3.53" height="1.85" fill="#0075ff"/>
<rect x="155.87" y="243.29" width="3.53" height="1.85" fill="#006aff"/>
<rect x="155.87" y="241.50" width="3.53" height="1.85" fill="#0076ff"/>
<rect x="155.87" y="239.70" width="3.53" height="1.85" fill="#007cff"/>
<rect x="155.87" y="237.91" width="3.53" height="1.85" fill="#00afff"/>
<rect x="155.87" y="236.11" width="3.53" height="1.85" fill="#009bff"/>
<rect x="155.87" y="234.32" width="3.53" height="1.85" fill="#007dff"/>
<rect x="155.87" y="232.52" width="3.53" height="1.85" fill="#0091ff"/>
<rect x="155.87" y="230.73" width="3.53" height="1.85" fill="#0095ff"/>
<rect x="155.87" y="228.93" width="3.53" height="1.85" fill="#008eff"/>
<rect x="155.87" y="227.14" width="3.53" height="1.85" fill="#0076ff"/>
<rect x="155.87" y="225.34" width="3.53" height="1.85" fill="#0097ff"/>
<rect x="155.87" y="223.55" width="3.53" height="1.85" fill="#41ffbe"/>
<rect x="155.87" y="221.75" width="3.53" height="1.85" fill="#ebff14"/>
<rect x="155.87" y="219.96" width="3.53" height="1.85" fill="#ffda00"/>
<rect x="159.35" y="275.60" width="3.53" height="2.59" fill="#0000c2"/>
<rect x="159.35" y="273.81" width="3.53" height="1.85" fill="#000080"/>
<rect x="159.35" y="272.01" width="3.53" height="1.85" fill="#0000ad"/>
<rect x="159.35" y="270.22" width="3.53" height="1.85" fill="#0000fe"/>
<rect x="159.35" y="268.42" width="3.53" height="1.85" fill="#0033ff"/>
<rect x="159.35" y="266.63" width="3.53" height="1.85" fill="#0061ff"/>
<rect x="159.35" y="264.83" width="3.53" height="1.85" fill="#0088ff"/>
<rect x="159.35" y="263.04" width="3.53" height="1.85" fill="#009dff"/>
<rect x="159.35" y="261.25" width="3.53" height="1.85" fill="#006aff"/>
<rect x="159.35" y="259.45" width="3.53" height="1.85" fill="#0055ff"/>
<rect x="159.35" y="257.65" width="3.53" height="1.85" fill="#008fff"/>
<rect x="159.35" y="255.86" width="3.53" height="1.85" fill="#00e5ff"/>
<rect x="159.35" y="254.06" width="3.53" height="1.85" fill="#00d1ff"/>
<rect x="159.35" y="252.27" width="3.53" height="1.85" fill="#00e5ff"/>
<rect x="159.35" y="250.47" width="3.53" height="1.85" fill="#00efff"/>
<rect x="159.35" y="248.68" width="3.53" height="1.85" fill="#00ecff"/>
<rect x="159.35" y="246.88" width="3.53" height="1.85" fill="#00a9ff"/>
<rect x="159.35" y="245.09" width="3.53" height="1.85" fill="#0078ff"/>
<rect x="159.35" y="243.29" width="3.53" height="1.85" fill="#006bff"/>
<rect x="159.35" y="241.50" width="3.53" height="1.85" fill="#0076ff"/>
<rect x="159.35" y="239.70" width="3.53" height="1.85" fill="#007dff"/>
<rect x="159.35" y="237.91" width="3.53" height="1.85" fill="#0091ff"/>
<rect x="159.35" y="236.11" width="3.53" height="1.85" fill="#0089ff"/>
<rect x="159.35" y="234.32" width="3.53" height="1.85" fill="#007dff"/>
<rect x="159.35" y="232.52" width="3.53" height="1.85" fill="#0088ff"/>
<rect x="159.35" y="230.73" width="3.53" height="1.85" fill="#0092ff"/>
<rect x="159.35" y="228.93" width="3.53" height="1.85" fill="#0081ff"/>
<rect x="159.35" y="227.14" width="3.53" height="1.85" fill="#0070ff"/>
<rect x="159.35" y="225.34" width="3.53" height="1.85" fill="#009dff"/>
<rect x="159.35" y="223.55" width="3.53" height="1.85" fill="#23ffdc"/>
<rect x="159.35" y="221.75" width="3.53" height="1.85" fill="#d0ff2f"/>
<rect x="159.35" y="219.96" width="3.53" height="1.85" fill="#ffc000"/>
<rect x="159.35" y="218.16" width="3.53" height="1.85" fill="#ffeb00"/>
<rect x="162.82" y="275.60" width="3.53" height="2.59" fill="#0000bf"/>
<rect x="162.82" y="273.81" width="3.53" height="1.85" fill="#00008d"/>
<rect x="162.82" y="272.01" width="3.53" height="1.85" fill="#0000d4"/>
<rect x="162.82" y="270.22" width="3.53" height="1.85" fill="#0011ff"/>
<rect x="162.82" y="268.42" width="3.53" height="1.85" fill="#001fff"/>
<rect x="162.82" y="266.63" width="3.53" height="1.85" fill="#004aff"/>
<rect x="162.82" y="264.83" width="3.53" height="1.85" fill="#008bff"/>
<rect x="162.82" y="263.04" width="3.53" height="1.85" fill="#009eff"/>
<rect x="162.82" y="261.25" width="3.53" height="1.85" fill="#005eff"/>
<rect x="162.82" y="259.45" width="3.53" height="1.85" fill="#0042ff"/>
<rect x="162.82" y="257.65" width="3.53" height="1.85" fill="#008dff"/>
<rect x="162.82" y="255.86" width="3.53" height="1.85" fill="#00dcff"/>
<rect x="162.82" y="254.06" width="3.53" height="1.85" fill="#00ceff"/>
<rect x="162.82" y="252.27" width="3.53" height="1.85" fill="#00e6ff"/>
<rect x="162.82" y="250.47" width="3.53" height="1.85" fill="#00f3ff"/>
<rect x="162.82" y="248.68" width="3.53" height="1.85" fill="#00f1ff"/>
<rect x="162.82" y="246.88" width="3.53" height="1.85" fill="#009cff"/>
<rect x="162.82" y="245.09" width="3.53" height="1.85" fill="#006dff"/>
<rect x="162.82" y="243.29" width="3.53" height="1.85" fill="#0074ff"/>
<rect x="162.82" y="241.50" width="3.53" height="1.85" fill="#0077ff"/>
<rect x="162.82" y="239.70" width="3.53" height="1.85" fill="#006fff"/>
<rect x="162.82" y="237.91" width="3.53" height="1.85" fill="#0074ff"/>
<rect x="162.82" y="236.11" width="3.53" height="1.85" fill="#007eff"/>
<rect x="162.82" y="234.32" width="3.53" height="1.85" fill="#007cff"/>
<rect x="162.82" y="232.52" width="3.53" height="1.85" fill="#0079ff"/>
<rect x="162.82" y="230.73" width="3.53" height="1.85" fill="#008cff"/>
<rect x="162.82" y="228.93" width="3.53" height="1.85" fill="#007bff"/>
<rect x="162.82" y="227.14" width="3.53" height="1.85" fill="#0072ff"/>
<rect x="162.82" y="225.34" width="3.53" height="1.85" fill="#00acff"/>
<rect x="162.82" y="223.55" width="3.53" height="1.85" fill="#0ffff0"/>
<rect x="162.82" y="221.75" width="3.53" height="1.85" fill="#91ff6e"/>
<rect x="162.82" y="219.96" width="3.53" height="1.85" fill="#f8ff07"/>
<rect x="162.82" y="218.16" width="3.53" height="1.85" fill="#e8ff17"/>
<rect x="166.30" y="275.60" width="3.53" height="2.59" fill="#0000b8"/>
<rect x="166.30" y="273.81" width="3.53" height="1.85" fill="#000090"/>
<rect x="166.30" y="272.01" width="3.53" height="1.85" fill="#0000f5"/>
<rect x="166.30" y="270.22" width="3.53" height="1.85" fill="#0020ff"/>
<rect x="166.30" y="268.42" width="3.53" height="1.85" fill="#0018ff"/>
<rect x="166.30" y="266.63" width="3.53" height="1.85" fill="#0045ff"/>
<rect x="166.30" y="264.83" width="3.53" height="1.85" fill="#0089ff"/>
<rect x="166.30" y="263.04" width="3.53" height="1.85" fill="#00a4ff"/>
<rect x="166.30" y="261.25" width="3.53" height="1.85" fill="#005fff"/>
<rect x="166.30" y="259.45" width="3.53" height="1.85" fill="#0028ff"/>
<rect x="166.30" y="257.65" width="3.53" height="1.85" fill="#0077ff"/>
<rect x="166.30" y="255.86" width="3.53" height="1.85" fill="#00daff"/>
<rect x="166.30" y="254.06" width="3.53" height="1.85" fill="#00d5ff"/>
<rect x="166.30" y="252.27" width="3.53" height="1.85" fill="#00e0ff"/>
<rect x="166.30" y="250.47" width="3.53" height="1.85" fill="#00f9ff"/>
<rect x="166.30" y="248.68" width="3.53" height="1.85" fill="#00ffff"/>
<rect x="166.30" y="246.88" width="3.53" height="1.85" fill="#00a7ff"/>
<rect x="166.30" y="245.09" width="3.53" height="1.85" fill="#006aff"/>
<rect x="166.30" y="243.29" width="3.53" height="1.85" fill="#0073ff"/>
<rect x="166.30" y="241.50" width="3.53" height="1.85" fill="#006eff"/>
<rect x="166.30" y="239.70" width="3.53" height="1.85" fill="#0064ff"/>
<rect x="166.30" y="237.91" width="3.53" height="1.85" fill="#005eff"/>
<rect x="166.30" y="236.11" width="3.53" height="1.85" fill="#0079ff"/>
<rect x="166.30" y="234.32" width="3.53" height="1.85" fill="#0074ff"/>
<rect x="166.30" y="232.52" width="3.53" height="1.85" fill="#0068ff"/>
<rect x="166.30" y="230.73" width="3.53" height="1.85" fill="#0081ff"/>
<rect x="166.30" y="228.93" width="3.53" height="1.85" fill="#007aff"/>
<rect x="166.30" y="227.14" width="3.53" height="1.85" fill="#007bff"/>
<rect x="166.30" y="225.34" width="3.53" height="1.85" fill="#00c8ff"/>
<rect x="166.30" y="223.55" width="3.53" height="1.85" fill="#11ffee"/>
<rect x="166.30" y="221.75" width="3.53" height="1.85" fill="#58ffa7"/>
<rect x="166.30" y="219.96" width="3.53" height="1.85" fill="#aaff55"/>
<rect x="166.30" y="218.16" width="3.53" height="1.85" fill="#d7ff28"/>
<rect x="166.30" y="216.37" width="3.53" height="1.85" fill="#e6ff19"/>
<rect x="166.30" y="214.57" width="3.53" height="1.85" fill="#b8ff47"/>
<rect x="166.30" y="212.78" width="3.53" height="1.85" fill="#4bffb4"/>
<rect x="169.78" y="275.60" width="3.53" height="2.59" fill="#0000ba"/>
<rect x="169.78" y="273.81" width="3.53" height="1.85" fill="#0000b0"/>
<rect x="169.78" y="272.01" width="3.53" height="1.85" fill="#000eff"/>
<rect x="169.78" y="270.22" width="3.53" height="1.85" fill="#001dff"/>
<rect x="169.78" y="268.42" width="3.53" height="1.85" fill="#0009ff"/>
<rect x="169.78" y="266.63" width="3.53" height="1.85" fill="#001fff"/>
<rect x="169.78" y="264.83" width="3.53" height="1.85" fill="#005dff"/>
<rect x="169.78" y="263.04" width="3.53" height="1.85" fill="#0090ff"/>
<rect x="169.78" y="261.25" width="3.53" height="1.85" fill="#006bff"/>
<rect x="169.78" y="259.45" width="3.53" height="1.85" fill="#0030ff"/>
<rect x="169.78" y="257.65" width="3.53" height="1.85" fill="#0065ff"/>
<rect x="169.78" y="255.86" width="3.53" height="1.85" fill="#00ceff"/>
<rect x="169.78" y="254.06" width="3.53" height="1.85" fill="#00d9ff"/>
<rect x="169.78" y="252.27" width="3.53" height="1.85" fill="#00e3ff"/>
<rect x="169.78" y="250.47" width="3.53" height="1.85" fill="#05fffa"/>
<rect x="169.78" y="248.68" width="3.53" height="1.85" fill="#03fffc"/>
<rect x="169.78" y="246.88" width="3.53" height="1.85" fill="#009fff"/>
<rect x="169.78" y="245.09" width="3.53" height="1.85" fill="#005cff"/>
<rect x="169.78" y="243.29" width="3.53" height="1.85" fill="#005bff"/>
<rect x="169.78" y="241.50" width="3.53" height="1.85" fill="#005fff"/>
<rect x="169.78" y="239.70" width="3.53" height="1.85" fill="#0069ff"/>
<rect x="169.78" y="237.91" width="3.53" height="1.85" fill="#0066ff"/>
<rect x="169.78" y="236.11" width="3.53" height="1.85" fill="#0075ff"/>
<rect x="169.78" y="234.32" width="3.53" height="1.85" fill="#006cff"/>
<rect x="169.78" y="232.52" width="3.53" height="1.85" fill="#005cff"/>
<rect x="169.78" y="230.73" width="3.53" height="1.85" fill="#0079ff"/>
<rect x="169.78" y="228.93" width="3.53" height="1.85" fill="#0081ff"/>
<rect x="169.78" y="227.14" width="3.53" height="1.85" fill="#009bff"/>
<rect x="169.78" y="225.34" width="3.53" height="1.85" fill="#00f1ff"/>
<rect x="169.78" y="223.55" width="3.53" height="1.85" fill="#20ffdf"/>
<rect x="169.78" y="221.75" width="3.53" height="1.85" fill="#51ffae"/>
<rect x="169.78" y="219.96" width="3.53" height="1.85" fill="#b0ff4f"/>
<rect x="169.78" y="218.16" width="3.53" height="1.85" fill="#ffe600"/>
<rect x="169.78" y="216.37" width="3.53" height="1.85" fill="#ffae00"/>
<rect x="169.78" y="214.57" width="3.53" height="1.85" fill="#ffca00"/>
<rect x="169.78" y="212.78" width="3.53" height="1.85" fill="#afff50"/>
<rect x="169.78" y="210.98" width="3.53" height="1.85" fill="#5affa5"/>
<rect x="173.25" y="275.60" width="3.53" height="2.59" fill="#0000cb"/>
<rect x="173.25" y="273.81" width="3.53" height="1.85" fill="#0000eb"/>
<rect x="173.25" y="272.01" width="3.53" height="1.85" fill="#002eff"/>
<rect x="173.25" y="270.22" width="3.53" height="1.85" fill="#0028ff"/>
<rect x="173.25" y="268.42" width="3.53" height="1.85" fill="#0000f9"/>
<rect x="173.25" y="266.63" width="3.53" height="1.85" fill="#0000f7"/>
<rect x="173.25" y="264.83" width="3.53" height="1.85" fill="#001fff"/>
<rect x="173.25" y="263.04" width="3.53" height="1.85" fill="#0060ff"/>
<rect x="173.25" y="261.25" width="3.53" height="1.85" fill="#005bff"/>
<rect x="173.25" y="259.45" width="3.53" height="1.85" fill="#002bff"/>
<rect x="173.25" y="257.65" width="3.53" height="1.85" fill="#005aff"/>
<rect x="173.25" y="255.86" width="3.53" height="1.85" fill="#00beff"/>
<rect x="173.25" y="254.06" width="3.53" height="1.85" fill="#00c3ff"/>
<rect x="173.25" y="252.27" width="3.53" height="1.85" fill="#00caff"/>
<rect x="173.25" y="250.47" width="3.53" height="1.85" fill="#01fffe"/>
<rect x="173.25" y="248.68" width="3.53" height="1.85" fill="#00faff"/>
<rect x="173.25" y="246.88" width="3.53" height="1.85" fill="#0090ff"/>
<rect x="173.25" y="245.09" width="3.53" height="1.85" fill="#0042ff"/>
<rect x="173.25" y="243.29" width="3.53" height="1.85" fill="#003dff"/>
<rect x="173.25" y="241.50" width="3.53" height="1.85" fill="#0052ff"/>
<rect x="173.25" y="239.70" width="3.53" height="1.85" fill="#0077ff"/>
<rect x="173.25" y="237.91" width="3.53" height="1.85" fill="#0089ff"/>
<rect x="173.25" y="236.11" width="3.53" height="1.85" fill="#0083ff"/>
<rect x="173.25" y="234.32" width="3.53" height="1.85" fill="#0063ff"/>
<rect x="173.25" y="232.52" width="3.53" height="1.85" fill="#0054ff"/>
<rect x="173.25" y="230.73" width="3.53" height="1.85" fill="#006dff"/>
<rect x="173.25" y="228.93" width="3.53" height="1.85" fill="#0088ff"/>
<rect x="173.25" y="227.14" width="3.53" height="1.85" fill="#00cdff"/>
<rect x="173.25" y="225.34" width="3.53" height="1.85" fill="#04fffb"/>
<rect x="173.25" y="223.55" width="3.53" height="1.85" fill="#1bffe4"/>
<rect x="173.25" y="221.75" width="3.53" height="1.85" fill="#58ffa7"/>
<rect x="173.25" y="219.96" width="3.53" height="1.85" fill="#d4ff2b"/>
<rect x="173.25" y="218.16" width="3.53" height="1.85" fill="#ffa000"/>
<rect x="173.25" y="216.37" width="3.53" height="1.85" fill="#ff5900"/>
<rect x="173.25" y="214.57" width="3.53" height="1.85" fill="#ff7500"/>
<rect x="173.25" y="212.78" width="3.53" height="1.85" fill="#edff12"/>
<rect x="173.25" y="210.98" width="3.53" height="1.85" fill="#34ffcb"/>
<rect x="173.25" y="209.19" width="3.53" height="1.85" fill="#00e6ff"/>
<rect x="176.73" y="275.60" width="3.53" height="2.59" fill="#0000e1"/>
<rect x="176.73" y="273.81" width="3.53" height="1.85" fill="#0001ff"/>
<rect x="176.73" y="272.01" width="3.53" height="1.85" fill="#0030ff"/>
<rect x="176.73" y="270.22" width="3.53" height="1.85" fill="#0021ff"/>
<rect x="176.73" y="268.42" width="3.53" height="1.85" fill="#0000e4"/>
<rect x="176.73" y="266.63" width="3.53" height="1.85" fill="#0000ec"/>
<rect x="176.73" y="264.83" width="3.53" height="1.85" fill="#0001ff"/>
<rect x="176.73" y="263.04" width="3.53" height="1.85" fill="#0028ff"/>
<rect x="176.73" y="261.25" width="3.53" height="1.85" fill="#0042ff"/>
<rect x="176.73" y="259.45" width="3.53" height="1.85" fill="#001eff"/>
<rect x="176.73" y="257.65" width="3.53" height="1.85" fill="#004fff"/>
<rect x="176.73" y="255.86" width="3.53" height="1.85" fill="#00b0ff"/>
<rect x="176.73" y="254.06" width="3.53" height="1.85" fill="#00b0ff"/>
<rect x="176.73" y="252.27" width="3.53" height="1.85" fill="#00b0ff"/>
<rect x="176.73" y="250.47" width="3.53" height="1.85" fill="#00fbff"/>
<rect x="176.73" y="248.68" width="3.53" height="1.85" fill="#00f3ff"/>
<rect x="176.73" y="246.88" width="3.53" height="1.85" fill="#008aff"/>
<rect x="176.73" y="245.09" width="3.53" height="1.85" fill="#0034ff"/>
<rect x="176.73" y="243.29" width="3.53" height="1.85" fill="#0032ff"/>
<rect x="176.73" y="241.50" width="3.53" height="1.85" fill="#0054ff"/>
<rect x="176.73" y="239.70" width="3.53" height="1.85" fill="#0084ff"/>
<rect x="176.73" y="237.91" width="3.53" height="1.85" fill="#00a0ff"/>
<rect x="176.73" y="236.11" width="3.53" height="1.85" fill="#009aff"/>
<rect x="176.73" y="234.32" width="3.53" height="1.85" fill="#0061ff"/>
<rect x="176.73" y="232.52" width="3.53" height="1.85" fill="#0054ff"/>
<rect x="176.73" y="230.73" width="3.53" height="1.85" fill="#005cff"/>
<rect x="176.73" y="228.93" width="3.53" height="1.85" fill="#0095ff"/>
<rect x="176.73" y="227.14" width="3.53" height="1.85" fill="#00ecff"/>
<rect x="176.73" y="225.34" width="3.53" height="1.85" fill="#00fcff"/>
<rect x="176.73" y="223.55" width="3.53" height="1.85" fill="#02fffd"/>
<rect x="176.73" y="221.75" width="3.53" height="1.85" fill="#39ffc6"/>
<rect x="176.73" y="219.96" width="3.53" height="1.85" fill="#b7ff48"/>
<rect x="176.73" y="218.16" width="3.53" height="1.85" fill="#ffa000"/>
<rect x="176.73" y="216.37" width="3.53" height="1.85" fill="#ff4900"/>
<rect x="176.73" y="214.57" width="3.53" height="1.85" fill="#ff7100"/>
<rect x="176.73" y="212.78" width="3.53" height="1.85" fill="#d3ff2c"/>
<rect x="176.73" y="210.98" width="3.53" height="1.85" fill="#00d7ff"/>
<rect x="176.73" y="209.19" width="3.53" height="1.85" fill="#0082ff"/>
<rect x="180.21" y="275.60" width="3.53" height="2.59" fill="#0000f3"/>
<rect x="180.21" y="273.81" width="3.53" height="1.85" fill="#0007ff"/>
<rect x="180.21" y="272.01" width="3.53" height="1.85" fill="#0026ff"/>
<rect x="180.21" y="270.22" width="3.53" height="1.85" fill="#0006ff"/>
<rect x="180.21" y="268.42" width="3.53" height="1.85" fill="#0000ce"/>
<rect x="180.21" y="266.63" width="3.53" height="1.85" fill="#0000f2"/>
<rect x="180.21" y="264.83" width="3.53" height="1.85" fill="#0001ff"/>
<rect x="180.21" y="263.04" width="3.53" height="1.85" fill="#0000f4"/>
<rect x="180.21" y="261.25" width="3.53" height="1.85" fill="#0035ff"/>
<rect x="180.21" y="259.45" width="3.53" height="1.85" fill="#0021ff"/>
<rect x="180.21" y="257.65" width="3.53" height="1.85" fill="#0059ff"/>
<rect x="180.21" y="255.86" width="3.53" height="1.85" fill="#00a3ff"/>
<rect x="180.21" y="254.06" width="3.53" height="1.85" fill="#00a7ff"/>
<rect x="180.21" y="252.27" width="3.53" height="1.85" fill="#00a7ff"/>
<rect x="180.21" y="250.47" width="3.53" height="1.85" fill="#00f8ff"/>
<rect x="180.21" y="248.68" width="3.53" height="1.85" fill="#00f4ff"/>
<rect x="180.21" y="246.88" width="3.53" height="1.85" fill="#008fff"/>
<rect x="180.21" y="245.09" width="3.53" height="1.85" fill="#0037ff"/>
<rect x="180.21" y="243.29" width="3.53" height="1.85" fill="#0034ff"/>
<rect x="180.21" y="241.50" width="3.53" height="1.85" fill="#005bff"/>
<rect x="180.21" y="239.70" width="3.53" height="1.85" fill="#0083ff"/>
<rect x="180.21" y="237.91" width="3.53" height="1.85" fill="#00a0ff"/>
<rect x="180.21" y="236.11" width="3.53" height="1.85" fill="#00aeff"/>
<rect x="180.21" y="234.32" width="3.53" height="1.85" fill="#006dff"/>
<rect x="180.21" y="232.52" width="3.53" height="1.85" fill="#005aff"/>
<rect x="180.21" y="230.73" width="3.53" height="1.85" fill="#0055ff"/>
<rect x="180.21" y="228.93" width="3.53" height="1.85" fill="#00a8ff"/>
<rect x="180.21" y="227.14" width="3.53" height="1.85" fill="#03fffc"/>
<rect x="180.21" y="225.34" width="3.53" height="1.85" fill="#02fffd"/>
<rect x="180.21" y="223.55" width="3.53" height="1.85" fill="#00f1ff"/>
<rect x="180.21" y="221.75" width="3.53" height="1.85" fill="#04fffb"/>
<rect x="180.21" y="219.96" width="3.53" height="1.85" fill="#43ffbc"/>
<rect x="180.21" y="218.16" width="3.53" height="1.85" fill="#caff35"/>
<rect x="180.21" y="216.37" width="3.53" height="1.85" fill="#fff100"/>
<rect x="180.21" y="214.57" width="3.53" height="1.85" fill="#edff12"/>
<rect x="180.21" y="212.78" width="3.53" height="1.85" fill="#4affb5"/>
<rect x="180.21" y="210.98" width="3.53" height="1.85" fill="#006aff"/>
<rect x="180.21" y="209.19" width="3.53" height="1.85" fill="#0010ff"/>
<rect x="180.21" y="207.39" width="3.53" height="1.85" fill="#005cff"/>
<rect x="183.68" y="275.60" width="3.53" height="2.59" fill="#0005ff"/>
<rect x="183.68" y="273.81" width="3.53" height="1.85" fill="#0005ff"/>
<rect x="183.68" y="272.01" width="3.53" height="1.85" fill="#0016ff"/>
<rect x="183.68" y="270.22" width="3.53" height="1.85" fill="#0000eb"/>
<rect x="183.68" y="268.42" width="3.53" height="1.85" fill="#0000bf"/>
<rect x="183.68" y="266.63" width="3.53" height="1.85" fill="#0000e3"/>
<rect x="183.68" y="264.83" width="3.53" height="1.85" fill="#0004ff"/>
<rect x="183.68" y="263.04" width="3.53" height="1.85" fill="#0000e5"/>
<rect x="183.68" y="261.25" width="3.53" height="1.85" fill="#0015ff"/>
<rect x="183.68" y="259.45" width="3.53" height="1.85" fill="#0013ff"/>
<rect x="183.68" y="257.65" width="3.53" height="1.85" fill="#005bff"/>
<rect x="183.68" y="255.86" width="3.53" height="1.85" fill="#0089ff"/>
<rect x="183.68" y="254.06" width="3.53" height="1.85" fill="#009eff"/>
<rect x="183.68" y="252.27" width="3.53" height="1.85" fill="#00a2ff"/>
<rect x="183.68" y="250.47" width="3.53" height="1.85" fill="#00efff"/>
<rect x="183.68" y="248.68" width="3.53" height="1.85" fill="#00f3ff"/>
<rect x="183.68" y="246.88" width="3.53" height="1.85" fill="#0099ff"/>
<rect x="183.68" y="245.09" width="3.53" height="1.85" fill="#003dff"/>
<rect x="183.68" y="243.29" width="3.53" height="1.85" fill="#0035ff"/>
<rect x="183.68" y="241.50" width="3.53" height="1.85" fill="#0053ff"/>
<rect x="183.68" y="239.70" width="3.53" height="1.85" fill="#0075ff"/>
<rect x="183.68" y="237.91" width="3.53" height="1.85" fill="#00abff"/>
<rect x="183.68" y="236.11" width="3.53" height="1.85" fill="#00c6ff"/>
<rect x="183.68" y="234.32" width="3.53" height="1.85" fill="#0085ff"/>
<rect x="183.68" y="232.52" width="3.53" height="1.85" fill="#005fff"/>
<rect x="183.68" y="230.73" width="3.53" height="1.85" fill="#0042ff"/>
<rect x="183.68" y="228.93" width="3.53" height="1.85" fill="#009fff"/>
<rect x="183.68" y="227.14" width="3.53" height="1.85" fill="#11ffee"/>
<rect x="183.68" y="225.34" width="3.53" height="1.85" fill="#08fff7"/>
<rect x="183.68" y="223.55" width="3.53" height="1.85" fill="#00e3ff"/>
<rect x="183.68" y="221.75" width="3.53" height="1.85" fill="#00e4ff"/>
<rect x="183.68" y="219.96" width="3.53" height="1.85" fill="#00d8ff"/>
<rect x="183.68" y="218.16" width="3.53" height="1.85" fill="#19ffe6"/>
<rect x="183.68" y="216.37" width="3.53" height="1.85" fill="#3cffc3"/>
<rect x="183.68" y="214.57" width="3.53" height="1.85" fill="#34ffcb"/>
<rect x="183.68" y="212.78" width="3.53" height="1.85" fill="#00d1ff"/>
<rect x="183.68" y="210.98" width="3.53" height="1.85" fill="#003cff"/>
<rect x="183.68" y="209.19" width="3.53" height="1.85" fill="#0000d6"/>
<rect x="183.68" y="207.39" width="3.53" height="1.85" fill="#001dff"/>
<rect x="187.16" y="275.60" width="3.53" height="2.59" fill="#000fff"/>
<rect x="187.16" y="273.81" width="3.53" height="1.85" fill="#0006ff"/>
<rect x="187.16" y="272.01" width="3.53" height="1.85" fill="#0000f2"/>
<rect x="187.16" y="270.22" width="3.53" height="1.85" fill="#0000d6"/>
<rect x="187.16" y="268.42" width="3.53" height="1.85" fill="#0000c4"/>
<rect x="187.16" y="266.63" width="3.53" height="1.85" fill="#0000d7"/>
<rect x="187.16" y="264.83" width="3.53" height="1.85" fill="#0000f4"/>
<rect x="187.16" y="263.04" width="3.53" height="1.85" fill="#0000dd"/>
<rect x="187.16" y="261.25" width="3.53" height="1.85" fill="#0000f6"/>
<rect x="187.16" y="259.45" width="3.53" height="1.85" fill="#0016ff"/>
<rect x="187.16" y="257.65" width="3.53" height="1.85" fill="#004eff"/>
<rect x="187.16" y="255.86" width="3.53" height="1.85" fill="#0077ff"/>
<rect x="187.16" y="254.06" width="3.53" height="1.85" fill="#0091ff"/>
<rect x="187.16" y="252.27" width="3.53" height="1.85" fill="#009cff"/>
<rect x="187.16" y="250.47" width="3.53" height="1.85" fill="#00e7ff"/>
<rect x="187.16" y="248.68" width="3.53" height="1.85" fill="#00f2ff"/>
<rect x="187.16" y="246.88" width="3.53" height="1.85" fill="#00a6ff"/>
<rect x="187.16" y="245.09" width="3.53" height="1.85" fill="#004bff"/>
<rect x="187.16" y="243.29" width="3.53" height="1.85" fill="#0037ff"/>
<rect x="187.16" y="241.50" width="3.53" height="1.85" fill="#004aff"/>
<rect x="187.16" y="239.70" width="3.53" height="1.85" fill="#007dff"/>
<rect x="187.16" y="237.91" width="3.53" height="1.85" fill="#00caff"/>
<rect x="187.16" y="236.11" width="3.53" height="1.85" fill="#00dbff"/>
<rect x="187.16" y="234.32" width="3.53" height="1.85" fill="#00a9ff"/>
<rect x="187.16" y="232.52" width="3.53" height="1.85" fill="#0063ff"/>
<rect x="187.16" y="230.73" width="3.53" height="1.85" fill="#0031ff"/>
<rect x="187.16" y="228.93" width="3.53" height="1.85" fill="#0091ff"/>
<rect x="187.16" y="227.14" width="3.53" height="1.85" fill="#0bfff4"/>
<rect x="187.16" y="225.34" width="3.53" height="1.85" fill="#00fcff"/>
<rect x="187.16" y="223.55" width="3.53" height="1.85" fill="#00daff"/>
<rect x="187.16" y="221.75" width="3.53" height="1.85" fill="#00cbff"/>
<rect x="187.16" y="219.96" width="3.53" height="1.85" fill="#008eff"/>
<rect x="187.16" y="218.16" width="3.53" height="1.85" fill="#0088ff"/>
<rect x="187.16" y="216.37" width="3.53" height="1.85" fill="#007eff"/>
<rect x="187.16" y="214.57" width="3.53" height="1.85" fill="#006aff"/>
<rect x="187.16" y="212.78" width="3.53" height="1.85" fill="#0068ff"/>
<rect x="187.16" y="210.98" width="3.53" height="1.85" fill="#0016ff"/>
<rect x="187.16" y="209.19" width="3.53" height="1.85" fill="#0000e2"/>
<rect x="187.16" y="207.39" width="3.53" height="1.85" fill="#001bff"/>
<rect x="190.64" y="275.60" width="3.53" height="2.59" fill="#000fff"/>
<rect x="190.64" y="273.81" width="3.53" height="1.85" fill="#0002ff"/>
<rect x="190.64" y="272.01" width="3.53" height="1.85" fill="#0000d9"/>
<rect x="190.64" y="270.22" width="3.53" height="1.85" fill="#0000d4"/>
<rect x="190.64" y="268.42" width="3.53" height="1.85" fill="#0000d4"/>
<rect x="190.64" y="266.63" width="3.53" height="1.85" fill="#0000e4"/>
<rect x="190.64" y="264.83" width="3.53" height="1.85" fill="#0000e9"/>
<rect x="190.64" y="263.04" width="3.53" height="1.85" fill="#0000ca"/>
<rect x="190.64" y="261.25" width="3.53" height="1.85" fill="#0000ec"/>
<rect x="190.64" y="259.45" width="3.53" height="1.85" fill="#0028ff"/>
<rect x="190.64" y="257.65" width="3.53" height="1.85" fill="#0044ff"/>
<rect x="190.64" y="255.86" width="3.53" height="1.85" fill="#006fff"/>
<rect x="190.64" y="254.06" width="3.53" height="1.85" fill="#0093ff"/>
<rect x="190.64" y="252.27" width="3.53" height="1.85" fill="#00a2ff"/>
<rect x="190.64" y="250.47" width="3.53" height="1.85" fill="#00e3ff"/>
<rect x="190.64" y="248.68" width="3.53" height="1.85" fill="#00f1ff"/>
<rect x="190.64" y="246.88" width="3.53" height="1.85" fill="#00b5ff"/>
<rect x="190.64" y="245.09" width="3.53" height="1.85" fill="#0065ff"/>
<rect x="190.64" y="243.29" width="3.53" height="1.85" fill="#004aff"/>
<rect x="190.64" y="241.50" width="3.53" height="1.85" fill="#0059ff"/>
<rect x="190.64" y="239.70" width="3.53" height="1.85" fill="#008cff"/>
<rect x="190.64" y="237.91" width="3.53" height="1.85" fill="#00dcff"/>
<rect x="190.64" y="236.11" width="3.53" height="1.85" fill="#00e5ff"/>
<rect x="190.64" y="234.32" width="3.53" height="1.85" fill="#00c1ff"/>
<rect x="190.64" y="232.52" width="3.53" height="1.85" fill="#0079ff"/>
<rect x="190.64" y="230.73" width="3.53" height="1.85" fill="#0056ff"/>
<rect x="190.64" y="228.93" width="3.53" height="1.85" fill="#00a0ff"/>
<rect x="190.64" y="227.14" width="3.53" height="1.85" fill="#00faff"/>
<rect x="190.64" y="225.34" width="3.53" height="1.85" fill="#00eeff"/>
<rect x="190.64" y="223.55" width="3.53" height="1.85" fill="#00e8ff"/>
<rect x="190.64" y="221.75" width="3.53" height="1.85" fill="#00c5ff"/>
<rect x="190.64" y="219.96" width="3.53" height="1.85" fill="#0093ff"/>
<rect x="190.64" y="218.16" width="3.53" height="1.85" fill="#009dff"/>
<rect x="190.64" y="216.37" width="3.53" height="1.85" fill="#00b1ff"/>
<rect x="190.64" y="214.57" width="3.53" height="1.85" fill="#00b8ff"/>
<rect x="190.64" y="212.78" width="3.53" height="1.85" fill="#00cdff"/>
<rect x="190.64" y="210.98" width="3.53" height="1.85" fill="#0038ff"/>
<rect x="190.64" y="209.19" width="3.53" height="1.85" fill="#0024ff"/>
<rect x="194.11" y="275.60" width="3.53" height="2.59" fill="#001fff"/>
<rect x="194.11" y="273.81" width="3.53" height="1.85" fill="#0000f7"/>
<rect x="194.11" y="272.01" width="3.53" height="1.85" fill="#0000db"/>
<rect x="194.11" y="270.22" width="3.53" height="1.85" fill="#0000dd"/>
<rect x="194.11" y="268.42" width="3.53" height="1.85" fill="#0000de"/>
<rect x="194.11" y="266.63" width="3.53" height="1.85" fill="#0000ea"/>
<rect x="194.11" y="264.83" width="3.53" height="1.85" fill="#0000e2"/>
<rect x="194.11" y="263.04" width="3.53" height="1.85" fill="#0000c6"/>
<rect x="194.11" y="261.25" width="3.53" height="1.85" fill="#0000f9"/>
<rect x="194.11" y="259.45" width="3.53" height="1.85" fill="#0033ff"/>
<rect x="194.11" y="257.65" width="3.53" height="1.85" fill="#003aff"/>
<rect x="194.11" y="255.86" width="3.53" height="1.85" fill="#0065ff"/>
<rect x="194.11" y="254.06" width="3.53" height="1.85" fill="#0099ff"/>
<rect x="194.11" y="252.27" width="3.53" height="1.85" fill="#00b1ff"/>
<rect x="194.11" y="250.47" width="3.53" height="1.85" fill="#00e6ff"/>
<rect x="194.11" y="248.68" width="3.53" height="1.85" fill="#00ebff"/>
<rect x="194.11" y="246.88" width="3.53" height="1.85" fill="#00b7ff"/>
<rect x="194.11" y="245.09" width="3.53" height="1.85" fill="#0074ff"/>
<rect x="194.11" y="243.29" width="3.53" height="1.85" fill="#005fff"/>
<rect x="194.11" y="241.50" width="3.53" height="1.85" fill="#006bff"/>
<rect x="194.11" y="239.70" width="3.53" height="1.85" fill="#009bff"/>
<rect x="194.11" y="237.91" width="3.53" height="1.85" fill="#00e9ff"/>
<rect x="194.11" y="236.11" width="3.53" height="1.85" fill="#00eeff"/>
<rect x="194.11" y="234.32" width="3.53" height="1.85" fill="#00d2ff"/>
<rect x="194.11" y="232.52" width="3.53" height="1.85" fill="#009dff"/>
<rect x="194.11" y="230.73" width="3.53" height="1.85" fill="#0088ff"/>
<rect x="194.11" y="228.93" width="3.53" height="1.85" fill="#00b3ff"/>
<rect x="194.11" y="227.14" width="3.53" height="1.85" fill="#00f1ff"/>
<rect x="194.11" y="225.34" width="3.53" height="1.85" fill="#00e9ff"/>
<rect x="194.11" y="223.55" width="3.53" height="1.85" fill="#00f7ff"/>
<rect x="194.11" y="221.75" width="3.53" height="1.85" fill="#00cfff"/>
<rect x="194.11" y="219.96" width="3.53" height="1.85" fill="#00baff"/>
<rect x="194.11" y="218.16" width="3.53" height="1.85" fill="#00d7ff"/>
<rect x="194.11" y="216.37" width="3.53" height="1.85" fill="#00e7ff"/>
<rect x="194.11" y="214.57" width="3.53" height="1.85" fill="#00f8ff"/>
<rect x="194.11" y="212.78" width="3.53" height="1.85" fill="#3fffc0"/>
<rect x="197.59" y="275.60" width="3.53" height="2.59" fill="#002aff"/>
<rect x="197.59" y="273.81" width="3.53" height="1.85" fill="#0000fd"/>
<rect x="197.59" y="272.01" width="3.53" height="1.85" fill="#0000ec"/>
<rect x="197.59" y="270.22" width="3.53" height="1.85" fill="#0000e6"/>
<rect x="197.59" y="268.42" width="3.53" height="1.85" fill="#0000e7"/>
<rect x="197.59" y="266.63" width="3.53" height="1.85" fill="#0000e1"/>
<rect x="197.59" y="264.83" width="3.53" height="1.85" fill="#0000cd"/>
<rect x="197.59" y="263.04" width="3.53" height="1.85" fill="#0000c3"/>
<rect x="197.59" y="261.25" width="3.53" height="1.85" fill="#0010ff"/>
<rect x="197.59" y="259.45" width="3.53" height="1.85" fill="#0031ff"/>
<rect x="197.59" y="257.65" width="3.53" height="1.85" fill="#002eff"/>
<rect x="197.59" y="255.86" width="3.53" height="1.85" fill="#0056ff"/>
<rect x="197.59" y="254.06" width="3.53" height="1.85" fill="#0083ff"/>
<rect x="197.59" y="252.27" width="3.53" height="1.85" fill="#00b6ff"/>
<rect x="197.59" y="250.47" width="3.53" height="1.85" fill="#00e7ff"/>
<rect x="197.59" y="248.68" width="3.53" height="1.85" fill="#00e9ff"/>
<rect x="197.59" y="246.88" width="3.53" height="1.85" fill="#00b6ff"/>
<rect x="197.59" y="245.09" width="3.53" height="1.85" fill="#007aff"/>
<rect x="197.59" y="243.29" width="3.53" height="1.85" fill="#0063ff"/>
<rect x="197.59" y="241.50" width="3.53" height="1.85" fill="#0077ff"/>
<rect x="197.59" y="239.70" width="3.53" height="1.85" fill="#00b8ff"/>
<rect x="197.59" y="237.91" width="3.53" height="1.85" fill="#0cfff3"/>
<rect x="197.59" y="236.11" width="3.53" height="1.85" fill="#08fff7"/>
<rect x="197.59" y="234.32" width="3.53" height="1.85" fill="#00daff"/>
<rect x="197.59" y="232.52" width="3.53" height="1.85" fill="#00b0ff"/>
<rect x="197.59" y="230.73" width="3.53" height="1.85" fill="#0094ff"/>
<rect x="197.59" y="228.93" width="3.53" height="1.85" fill="#00c5ff"/>
<rect x="197.59" y="227.14" width="3.53" height="1.85" fill="#00ffff"/>
<rect x="197.59" y="225.34" width="3.53" height="1.85" fill="#00f1ff"/>
<rect x="197.59" y="223.55" width="3.53" height="1.85" fill="#00f5ff"/>
<rect x="197.59" y="221.75" width="3.53" height="1.85" fill="#00dfff"/>
<rect x="197.59" y="219.96" width="3.53" height="1.85" fill="#00e4ff"/>
<rect x="197.59" y="218.16" width="3.53" height="1.85" fill="#00fbff"/>
<rect x="197.59" y="216.37" width="3.53" height="1.85" fill="#00f8ff"/>
<rect x="197.59" y="214.57" width="3.53" height="1.85" fill="#00fdff"/>
<rect x="197.59" y="212.78" width="3.53" height="1.85" fill="#66ff99"/>
<rect x="201.07" y="275.60" width="3.53" height="2.59" fill="#0016ff"/>
<rect x="201.07" y="273.81" width="3.53" height="1.85" fill="#0000f4"/>
<rect x="201.07" y="272.01" width="3.53" height="1.85" fill="#0000f6"/>
<rect x="201.07" y="270.22" width="3.53" height="1.85" fill="#0000f9"/>
<rect x="201.07" y="268.42" width="3.53" height="1.85" fill="#0000f7"/>
<rect x="201.07" y="266.63" width="3.53" height="1.85" fill="#0000e4"/>
<rect x="201.07" y="264.83" width="3.53" height="1.85" fill="#0000d0"/>
<rect x="201.07" y="263.04" width="3.53" height="1.85" fill="#0000d6"/>
<rect x="201.07" y="261.25" width="3.53" height="1.85" fill="#001cff"/>
<rect x="201.07" y="259.45" width="3.53" height="1.85" fill="#0010ff"/>
<rect x="201.07" y="257.65" width="3.53" height="1.85" fill="#001cff"/>
<rect x="201.07" y="255.86" width="3.53" height="1.85" fill="#0046ff"/>
<rect x="201.07" y="254.06" width="3.53" height="1.85" fill="#005bff"/>
<rect x="201.07" y="252.27" width="3.53" height="1.85" fill="#00adff"/>
<rect x="201.07" y="250.47" width="3.53" height="1.85" fill="#00dcff"/>
<rect x="201.07" y="248.68" width="3.53" height="1.85" fill="#00e8ff"/>
<rect x="201.07" y="246.88" width="3.53" height="1.85" fill="#00b8ff"/>
<rect x="201.07" y="245.09" width="3.53" height="1.85" fill="#0081ff"/>
<rect x="201.07" y="243.29" width="3.53" height="1.85" fill="#006eff"/>
<rect x="201.07" y="241.50" width="3.53" height="1.85" fill="#0087ff"/>
<rect x="201.07" y="239.70" width="3.53" height="1.85" fill="#00e7ff"/>
<rect x="201.07" y="237.91" width="3.53" height="1.85" fill="#42ffbd"/>
<rect x="201.07" y="236.11" width="3.53" height="1.85" fill="#2effd1"/>
<rect x="201.07" y="234.32" width="3.53" height="1.85" fill="#00e4ff"/>
<rect x="201.07" y="232.52" width="3.53" height="1.85" fill="#00abff"/>
<rect x="201.07" y="230.73" width="3.53" height="1.85" fill="#008fff"/>
<rect x="201.07" y="228.93" width="3.53" height="1.85" fill="#00edff"/>
<rect x="201.07" y="227.14" width="3.53" height="1.85" fill="#31ffce"/>
<rect x="201.07" y="225.34" width="3.53" height="1.85" fill="#00f9ff"/>
<rect x="201.07" y="223.55" width="3.53" height="1.85" fill="#00dfff"/>
<rect x="201.07" y="221.75" width="3.53" height="1.85" fill="#00d9ff"/>
<rect x="201.07" y="219.96" width="3.53" height="1.85" fill="#00e5ff"/>
<rect x="201.07" y="218.16" width="3.53" height="1.85" fill="#00f6ff"/>
<rect x="201.07" y="216.37" width="3.53" height="1.85" fill="#00f7ff"/>
<rect x="201.07" y="214.57" width="3.53" height="1.85" fill="#00f4ff"/>
<rect x="201.07" y="212.78" width="3.53" height="1.85" fill="#4bffb4"/>
<rect x="204.54" y="275.60" width="3.53" height="2.59" fill="#0008ff"/>
<rect x="204.54" y="273.81" width="3.53" height="1.85" fill="#0000e8"/>
<rect x="204.54" y="272.01" width="3.53" height="1.85" fill="#0000f3"/>
<rect x="204.54" y="270.22" width="3.53" height="1.85" fill="#0009ff"/>
<rect x="204.54" y="268.42" width="3.53" height="1.85" fill="#0005ff"/>
<rect x="204.54" y="266.63" width="3.53" height="1.85" fill="#0000ec"/>
<rect x="204.54" y="264.83" width="3.53" height="1.85" fill="#0000e1"/>
<rect x="204.54" y="263.04" width="3.53" height="1.85" fill="#0000f4"/>
<rect x="204.54" y="261.25" width="3.53" height="1.85" fill="#0007ff"/>
<rect x="204.54" y="259.45" width="3.53" height="1.85" fill="#0000e4"/>
<rect x="204.54" y="257.65" width="3.53" height="1.85" fill="#0001ff"/>
<rect x="204.54" y="255.86" width="3.53" height="1.85" fill="#0039ff"/>
<rect x="204.54" y="254.06" width="3.53" height="1.85" fill="#0047ff"/>
<rect x="204.54" y="252.27" width="3.53" height="1.85" fill="#009cff"/>
<rect x="204.54" y="250.47" width="3.53" height="1.85" fill="#00c5ff"/>
<rect x="204.54" y="248.68" width="3.53" height="1.85" fill="#00e2ff"/>
<rect x="204.54" y="246.88" width="3.53" height="1.85" fill="#00c1ff"/>
<rect x="204.54" y="245.09" width="3.53" height="1.85" fill="#0088ff"/>
<rect x="204.54" y="243.29" width="3.53" height="1.85" fill="#0070ff"/>
<rect x="204.54" y="241.50" width="3.53" height="1.85" fill="#0095ff"/>
<rect x="204.54" y="239.70" width="3.53" height="1.85" fill="#1fffe0"/>
<rect x="204.54" y="237.91" width="3.53" height="1.85" fill="#88ff77"/>
<rect x="204.54" y="236.11" width="3.53" height="1.85" fill="#59ffa6"/>
<rect x="204.54" y="234.32" width="3.53" height="1.85" fill="#00eeff"/>
<rect x="204.54" y="232.52" width="3.53" height="1.85" fill="#0099ff"/>
<rect x="204.54" y="230.73" width="3.53" height="1.85" fill="#0087ff"/>
<rect x="204.54" y="228.93" width="3.53" height="1.85" fill="#00d1ff"/>
<rect x="204.54" y="227.14" width="3.53" height="1.85" fill="#09fff6"/>
<rect x="204.54" y="225.34" width="3.53" height="1.85" fill="#00d7ff"/>
<rect x="204.54" y="223.55" width="3.53" height="1.85" fill="#005aff"/>
<rect x="204.54" y="221.75" width="3.53" height="1.85" fill="#00a2ff"/>
<rect x="204.54" y="219.96" width="3.53" height="1.85" fill="#00b4ff"/>
<rect x="204.54" y="218.16" width="3.53" height="1.85" fill="#00c9ff"/>
<rect x="204.54" y="216.37" width="3.53" height="1.85" fill="#00dbff"/>
<rect x="204.54" y="214.57" width="3.53" height="1.85" fill="#00dbff"/>
<rect x="208.02" y="275.60" width="3.53" height="2.59" fill="#000dff"/>
<rect x="208.02" y="273.81" width="3.53" height="1.85" fill="#0000f4"/>
<rect x="208.02" y="272.01" width="3.53" height="1.85" fill="#0002ff"/>
<rect x="208.02" y="270.22" width="3.53" height="1.85" fill="#000cff"/>
<rect x="208.02" y="268.42" width="3.53" height="1.85" fill="#0009ff"/>
<rect x="208.02" y="266.63" width="3.53" height="1.85" fill="#0000f1"/>
<rect x="208.02" y="264.83" width="3.53" height="1.85" fill="#0000f9"/>
<rect x="208.02" y="263.04" width="3.53" height="1.85" fill="#0006ff"/>
<rect x="208.02" y="261.25" width="3.53" height="1.85" fill="#0000e8"/>
<rect x="208.02" y="259.45" width="3.53" height="1.85" fill="#0000d1"/>
<rect x="208.02" y="257.65" width="3.53" height="1.85" fill="#0000fb"/>
<rect x="208.02" y="255.86" width="3.53" height="1.85" fill="#003dff"/>
<rect x="208.02" y="254.06" width="3.53" height="1.85" fill="#0049ff"/>
<rect x="208.02" y="252.27" width="3.53" height="1.85" fill="#0080ff"/>
<rect x="208.02" y="250.47" width="3.53" height="1.85" fill="#00a5ff"/>
<rect x="208.02" y="248.68" width="3.53" height="1.85" fill="#00cbff"/>
<rect x="208.02" y="246.88" width="3.53" height="1.85" fill="#00beff"/>
<rect x="208.02" y="245.09" width="3.53" height="1.85" fill="#008aff"/>
<rect x="208.02" y="243.29" width="3.53" height="1.85" fill="#0064ff"/>
<rect x="208.02" y="241.50" width="3.53" height="1.85" fill="#009fff"/>
<rect x="208.02" y="239.70" width="3.53" height="1.85" fill="#4effb1"/>
<rect x="208.02" y="237.91" width="3.53" height="1.85" fill="#c3ff3c"/>
<rect x="208.02" y="236.11" width="3.53" height="1.85" fill="#73ff8c"/>
<rect x="208.02" y="234.32" width="3.53" height="1.85" fill="#00e3ff"/>
<rect x="208.02" y="232.52" width="3.53" height="1.85" fill="#0084ff"/>
<rect x="208.02" y="230.73" width="3.53" height="1.85" fill="#0077ff"/>
<rect x="208.02" y="228.93" width="3.53" height="1.85" fill="#0099ff"/>
<rect x="208.02" y="227.14" width="3.53" height="1.85" fill="#00a9ff"/>
<rect x="208.02" y="225.34" width="3.53" height="1.85" fill="#00a9ff"/>
<rect x="208.02" y="223.55" width="3.53" height="1.85" fill="#0011ff"/>
<rect x="211.50" y="275.60" width="3.53" height="2.59" fill="#0017ff"/>
<rect x="211.50" y="273.81" width="3.53" height="1.85" fill="#0000fe"/>
<rect x="211.50" y="272.01" width="3.53" height="1.85" fill="#0000eb"/>
<rect x="211.50" y="270.22" width="3.53" height="1.85" fill="#0000f9"/>
<rect x="211.50" y="268.42" width="3.53" height="1.85" fill="#0005ff"/>
<rect x="211.50" y="266.63" width="3.53" height="1.85" fill="#0000fc"/>
<rect x="211.50" y="264.83" width="3.53" height="1.85" fill="#0013ff"/>
<rect x="211.50" y="263.04" width="3.53" height="1.85" fill="#0004ff"/>
<rect x="211.50" y="261.25" width="3.53" height="1.85" fill="#0000ed"/>
<rect x="211.50" y="259.45" width="3.53" height="1.85" fill="#0000dd"/>
<rect x="211.50" y="257.65" width="3.53" height="1.85" fill="#0010ff"/>
<rect x="211.50" y="255.86" width="3.53" height="1.85" fill="#004cff"/>
<rect x="211.50" y="254.06" width="3.53" height="1.85" fill="#003fff"/>
<rect x="211.50" y="252.27" width="3.53" height="1.85" fill="#0061ff"/>
<rect x="211.50" y="250.47" width="3.53" height="1.85" fill="#0093ff"/>
<rect x="211.50" y="248.68" width="3.53" height="1.85" fill="#00b6ff"/>
<rect x="211.50" y="246.88" width="3.53" height="1.85" fill="#00afff"/>
<rect x="211.50" y="245.09" width="3.53" height="1.85" fill="#0090ff"/>
<rect x="211.50" y="243.29" width="3.53" height="1.85" fill="#005dff"/>
<rect x="211.50" y="241.50" width="3.53" height="1.85" fill="#00a0ff"/>
<rect x="211.50" y="239.70" width="3.53" height="1.85" fill="#55ffaa"/>
<rect x="211.50" y="237.91" width="3.53" height="1.85" fill="#caff35"/>
<rect x="211.50" y="236.11" width="3.53" height="1.85" fill="#68ff97"/>
<rect x="211.50" y="234.32" width="3.53" height="1.85" fill="#00d5ff"/>
<rect x="211.50" y="232.52" width="3.53" height="1.85" fill="#0089ff"/>
<rect x="211.50" y="230.73" width="3.53" height="1.85" fill="#0068ff"/>
<rect x="211.50" y="228.93" width="3.53" height="1.85" fill="#008fff"/>
<rect x="211.50" y="227.14" width="3.53" height="1.85" fill="#0092ff"/>
<rect x="211.50" y="225.34" width="3.53" height="1.85" fill="#00a6ff"/>
<rect x="214.97" y="275.60" width="3.53" height="2.59" fill="#0020ff"/>
<rect x="214.97" y="273.81" width="3.53" height="1.85" fill="#0011ff"/>
<rect x="214.97" y="272.01" width="3.53" height="1.85" fill="#0000d5"/>
<rect x="214.97" y="270.22" width="3.53" height="1.85" fill="#0000fd"/>
<rect x="214.97" y="268.42" width="3.53" height="1.85" fill="#000cff"/>
<rect x="214.97" y="266.63" width="3.53" height="1.85" fill="#0014ff"/>
<rect x="214.97" y="264.83" width="3.53" height="1.85" fill="#0019ff"/>
<rect x="214.97" y="263.04" width="3.53" height="1.85" fill="#0005ff"/>
<rect x="214.97" y="261.25" width="3.53" height="1.85" fill="#0000fa"/>
<rect x="214.97" y="259.45" width="3.53" height="1.85" fill="#0000ef"/>
<rect x="214.97" y="257.65" width="3.53" height="1.85" fill="#002bff"/>
<rect x="214.97" y="255.86" width="3.53" height="1.85" fill="#0041ff"/>
<rect x="214.97" y="254.06" width="3.53" height="1.85" fill="#0025ff"/>
<rect x="214.97" y="252.27" width="3.53" height="1.85" fill="#0051ff"/>
<rect x="214.97" y="250.47" width="3.53" height="1.85" fill="#009fff"/>
<rect x="214.97" y="248.68" width="3.53" height="1.85" fill="#00c0ff"/>
<rect x="214.97" y="246.88" width="3.53" height="1.85" fill="#00a3ff"/>
<rect x="214.97" y="245.09" width="3.53" height="1.85" fill="#0095ff"/>
<rect x="214.97" y="243.29" width="3.53" height="1.85" fill="#0068ff"/>
<rect x="214.97" y="241.50" width="3.53" height="1.85" fill="#0097ff"/>
<rect x="214.97" y="239.70" width="3.53" height="1.85" fill="#31ffce"/>
<rect x="214.97" y="237.91" width="3.53" height="1.85" fill="#99ff66"/>
<rect x="214.97" y="236.11" width="3.53" height="1.85" fill="#44ffbb"/>
<rect x="214.97" y="234.32" width="3.53" height="1.85" fill="#00c9ff"/>
<rect x="214.97" y="232.52" width="3.53" height="1.85" fill="#007dff"/>
<rect x="214.97" y="230.73" width="3.53" height="1.85" fill="#0058ff"/>
<rect x="214.97" y="228.93" width="3.53" height="1.85" fill="#0091ff"/>
<rect x="214.97" y="227.14" width="3.53" height="1.85" fill="#009dff"/>
<rect x="214.97" y="225.34" width="3.53" height="1.85" fill="#0093ff"/>
<rect x="218.45" y="275.60" width="3.53" height="2.59" fill="#0021ff"/>
<rect x="218.45" y="273.81" width="3.53" height="1.85" fill="#002aff"/>
<rect x="218.45" y="272.01" width="3.53" height="1.85" fill="#0000e4"/>
<rect x="218.45" y="270.22" width="3.53" height="1.85" fill="#0012ff"/>
<rect x="218.45" y="268.42" width="3.53" height="1.85" fill="#0011ff"/>
<rect x="218.45" y="266.63" width="3.53" height="1.85" fill="#0011ff"/>
<rect x="218.45" y="264.83" width="3.53" height="1.85" fill="#0012ff"/>
<rect x="218.45" y="263.04" width="3.53" height="1.85" fill="#0012ff"/>
<rect x="218.45" y="261.25" width="3.53" height="1.85" fill="#0000f2"/>
<rect x="218.45" y="259.45" width="3.53" height="1.85" fill="#0000f7"/>
<rect x="218.45" y="257.65" width="3.53" height="1.85" fill="#0036ff"/>
<rect x="218.45" y="255.86" width="3.53" height="1.85" fill="#0033ff"/>
<rect x="218.45" y="254.06" width="3.53" height="1.85" fill="#0000fc"/>
<rect x="218.45" y="252.27" width="3.53" height="1.85" fill="#0041ff"/>
<rect x="218.45" y="250.47" width="3.53" height="1.85" fill="#00a9ff"/>
<rect x="218.45" y="248.68" width="3.53" height="1.85" fill="#00d9ff"/>
<rect x="218.45" y="246.88" width="3.53" height="1.85" fill="#00abff"/>
<rect x="218.45" y="245.09" width="3.53" height="1.85" fill="#0096ff"/>
<rect x="218.45" y="243.29" width="3.53" height="1.85" fill="#006fff"/>
<rect x="218.45" y="241.50" width="3.53" height="1.85" fill="#0083ff"/>
<rect x="218.45" y="239.70" width="3.53" height="1.85" fill="#00e6ff"/>
<rect x="218.45" y="237.91" width="3.53" height="1.85" fill="#46ffb9"/>
<rect x="218.45" y="236.11" width="3.53" height="1.85" fill="#1dffe2"/>
<rect x="218.45" y="234.32" width="3.53" height="1.85" fill="#00a5ff"/>
<rect x="218.45" y="232.52" width="3.53" height="1.85" fill="#003fff"/>
<rect x="218.45" y="230.73" width="3.53" height="1.85" fill="#002eff"/>
<rect x="218.45" y="228.93" width="3.53" height="1.85" fill="#0086ff"/>
<rect x="218.45" y="227.14" width="3.53" height="1.85" fill="#00a9ff"/>
<rect x="221.93" y="275.60" width="3.53" height="2.59" fill="#002fff"/>
<rect x="221.93" y="273.81" width="3.53" height="1.85" fill="#003cff"/>
<rect x="221.93" y="272.01" width="3.53" height="1.85" fill="#0010ff"/>
<rect x="221.93" y="270.22" width="3.53" height="1.85" fill="#001eff"/>
<rect x="221.93" y="268.42" width="3.53" height="1.85" fill="#0006ff"/>
<rect x="221.93" y="266.63" width="3.53" height="1.85" fill="#0000f0"/>
<rect x="221.93" y="264.83" width="3.53" height="1.85" fill="#0011ff"/>
<rect x="221.93" y="263.04" width="3.53" height="1.85" fill="#0016ff"/>
<rect x="221.93" y="261.25" width="3.53" height="1.85" fill="#0000ef"/>
<rect x="221.93" y="259.45" width="3.53" height="1.85" fill="#0000fc"/>
<rect x="221.93" y="257.65" width="3.53" height="1.85" fill="#0030ff"/>
<rect x="221.93" y="255.86" width="3.53" height="1.85" fill="#0033ff"/>
<rect x="221.93" y="254.06" width="3.53" height="1.85" fill="#0000fa"/>
<rect x="221.93" y="252.27" width="3.53" height="1.85" fill="#0030ff"/>
<rect x="221.93" y="250.47" width="3.53" height="1.85" fill="#0096ff"/>
<rect x="221.93" y="248.68" width="3.53" height="1.85" fill="#00d8ff"/>
<rect x="221.93" y="246.88" width="3.53" height="1.85" fill="#00b3ff"/>
<rect x="221.93" y="245.09" width="3.53" height="1.85" fill="#0092ff"/>
<rect x="221.93" y="243.29" width="3.53" height="1.85" fill="#0064ff"/>
<rect x="221.93" y="241.50" width="3.53" height="1.85" fill="#0069ff"/>
<rect x="221.93" y="239.70" width="3.53" height="1.85" fill="#0097ff"/>
<rect x="221.93" y="237.91" width="3.53" height="1.85" fill="#00f2ff"/>
<rect x="221.93" y="236.11" width="3.53" height="1.85" fill="#00faff"/>
<rect x="221.93" y="234.32" width="3.53" height="1.85" fill="#0076ff"/>
<rect x="221.93" y="232.52" width="3.53" height="1.85" fill="#0000f1"/>
<rect x="221.93" y="230.73" width="3.53" height="1.85" fill="#0000f5"/>
<rect x="225.40" y="275.60" width="3.53" height="2.59" fill="#002eff"/>
<rect x="225.40" y="273.81" width="3.53" height="1.85" fill="#0036ff"/>
<rect x="225.40" y="272.01" width="3.53" height="1.85" fill="#0028ff"/>
<rect x="225.40" y="270.22" width="3.53" height="1.85" fill="#0024ff"/>
<rect x="225.40" y="268.42" width="3.53" height="1.85" fill="#0000f8"/>
<rect x="225.40" y="266.63" width="3.53" height="1.85" fill="#0000d2"/>
<rect x="225.40" y="264.83" width="3.53" height="1.85" fill="#000eff"/>
<rect x="225.40" y="263.04" width="3.53" height="1.85" fill="#000dff"/>
<rect x="225.40" y="261.25" width="3.53" height="1.85" fill="#0000f1"/>
<rect x="225.40" y="259.45" width="3.53" height="1.85" fill="#000aff"/>
<rect x="225.40" y="257.65" width="3.53" height="1.85" fill="#002aff"/>
<rect x="225.40" y="255.86" width="3.53" height="1.85" fill="#0029ff"/>
<rect x="225.40" y="254.06" width="3.53" height="1.85" fill="#0014ff"/>
<rect x="225.40" y="252.27" width="3.53" height="1.85" fill="#001dff"/>
<rect x="225.40" y="250.47" width="3.53" height="1.85" fill="#007bff"/>
<rect x="225.40" y="248.68" width="3.53" height="1.85" fill="#00c0ff"/>
<rect x="225.40" y="246.88" width="3.53" height="1.85" fill="#00a0ff"/>
<rect x="225.40" y="245.09" width="3.53" height="1.85" fill="#0082ff"/>
<rect x="225.40" y="243.29" width="3.53" height="1.85" fill="#005eff"/>
<rect x="225.40" y="241.50" width="3.53" height="1.85" fill="#0055ff"/>
<rect x="225.40" y="239.70" width="3.53" height="1.85" fill="#0079ff"/>
<rect x="225.40" y="237.91" width="3.53" height="1.85" fill="#00c2ff"/>
<rect x="225.40" y="236.11" width="3.53" height="1.85" fill="#00d7ff"/>
<rect x="225.40" y="234.32" width="3.53" height="1.85" fill="#005bff"/>
<rect x="225.40" y="232.52" width="3.53" height="1.85" fill="#0000d1"/>
<rect x="225.40" y="230.73" width="3.53" height="1.85" fill="#0000e4"/>
<rect x="228.88" y="275.60" width="3.53" height="2.59" fill="#001eff"/>
<rect x="228.88" y="273.81" width="3.53" height="1.85" fill="#002bff"/>
<rect x="228.88" y="272.01" width="3.53" height="1.85" fill="#001dff"/>
<rect x="228.88" y="270.22" width="3.53" height="1.85" fill="#0021ff"/>
<rect x="228.88" y="268.42" width="3.53" height="1.85" fill="#0000f4"/>
<rect x="228.88" y="266.63" width="3.53" height="1.85" fill="#0000c4"/>
<rect x="228.88" y="264.83" width="3.53" height="1.85" fill="#0000fe"/>
<rect x="228.88" y="263.04" width="3.53" height="1.85" fill="#0006ff"/>
<rect x="228.88" y="261.25" width="3.53" height="1.85" fill="#0000f9"/>
<rect x="228.88" y="259.45" width="3.53" height="1.85" fill="#0010ff"/>
<rect x="228.88" y="257.65" width="3.53" height="1.85" fill="#001fff"/>
<rect x="228.88" y="255.86" width="3.53" height="1.85" fill="#0024ff"/>
<rect x="228.88" y="254.06" width="3.53" height="1.85" fill="#0025ff"/>
<rect x="228.88" y="252.27" width="3.53" height="1.85" fill="#000eff"/>
<rect x="228.88" y="250.47" width="3.53" height="1.85" fill="#0072ff"/>
<rect x="228.88" y="248.68" width="3.53" height="1.85" fill="#00acff"/>
<rect x="228.88" y="246.88" width="3.53" height="1.85" fill="#0080ff"/>
<rect x="228.88" y="245.09" width="3.53" height="1.85" fill="#006bff"/>
<rect x="228.88" y="243.29" width="3.53" height="1.85" fill="#0061ff"/>
<rect x="228.88" y="241.50" width="3.53" height="1.85" fill="#004fff"/>
<rect x="228.88" y="239.70" width="3.53" height="1.85" fill="#0088ff"/>
<rect x="228.88" y="237.91" width="3.53" height="1.85" fill="#00c3ff"/>
<rect x="228.88" y="236.11" width="3.53" height="1.85" fill="#00d8ff"/>
<rect x="228.88" y="234.32" width="3.53" height="1.85" fill="#007aff"/>
<rect x="228.88" y="232.52" width="3.53" height="1.85" fill="#0000f6"/>
<rect x="232.36" y="275.60" width="3.53" height="2.59" fill="#000cff"/>
<rect x="232.36" y="273.81" width="3.53" height="1.85" fill="#0025ff"/>
<rect x="232.36" y="272.01" width="3.53" height="1.85" fill="#000cff"/>
<rect x="232.36" y="270.22" width="3.53" height="1.85" fill="#0000f9"/>
<rect x="232.36" y="268.42" width="3.53" height="1.85" fill="#0000ed"/>
<rect x="232.36" y="266.63" width="3.53" height="1.85" fill="#0000c5"/>
<rect x="232.36" y="264.83" width="3.53" height="1.85" fill="#0000e5"/>
<rect x="232.36" y="263.04" width="3.53" height="1.85" fill="#0000fa"/>
<rect x="232.36" y="261.25" width="3.53" height="1.85" fill="#0000fc"/>
<rect x="232.36" y="259.45" width="3.53" height="1.85" fill="#0010ff"/>
<rect x="232.36" y="257.65" width="3.53" height="1.85" fill="#0014ff"/>
<rect x="232.36" y="255.86" width="3.53" height="1.85" fill="#0025ff"/>
<rect x="232.36" y="254.06" width="3.53" height="1.85" fill="#0031ff"/>
<rect x="232.36" y="252.27" width="3.53" height="1.85" fill="#001eff"/>
<rect x="232.36" y="250.47" width="3.53" height="1.85" fill="#0079ff"/>
<rect x="232.36" y="248.68" width="3.53" height="1.85" fill="#009dff"/>
<rect x="232.36" y="246.88" width="3.53" height="1.85" fill="#006fff"/>
<rect x="232.36" y="245.09" width="3.53" height="1.85" fill="#0054ff"/>
<rect x="232.36" y="243.29" width="3.53" height="1.85" fill="#0045ff"/>
<rect x="232.36" y="241.50" width="3.53" height="1.85" fill="#0054ff"/>
<rect x="232.36" y="239.70" width="3.53" height="1.85" fill="#008fff"/>
<rect x="232.36" y="237.91" width="3.53" height="1.85" fill="#00f2ff"/>
<rect x="232.36" y="236.11" width="3.53" height="1.85" fill="#58ffa7"/>
<rect x="232.36" y="234.32" width="3.53" height="1.85" fill="#07fff8"/>
<rect x="235.83" y="275.60" width="3.53" height="2.59" fill="#0000f5"/>
<rect x="235.83" y="273.81" width="3.53" height="1.85" fill="#000bff"/>
<rect x="235.83" y="272.01" width="3.53" height="1.85" fill="#0000f1"/>
<rect x="235.83" y="270.22" width="3.53" height="1.85" fill="#0000d3"/>
<rect x="235.83" y="268.42" width="3.53" height="1.85" fill="#0000d1"/>
<rect x="235.83" y="266.63" width="3.53" height="1.85" fill="#0000bf"/>
<rect x="235.83" y="264.83" width="3.53" height="1.85" fill="#0000ce"/>
<rect x="235.83" y="263.04" width="3.53" height="1.85" fill="#0000e6"/>
<rect x="235.83" y="261.25" width="3.53" height="1.85" fill="#0000fc"/>
<rect x="235.83" y="259.45" width="3.53" height="1.85" fill="#000fff"/>
<rect x="235.83" y="257.65" width="3.53" height="1.85" fill="#0001ff"/>
<rect x="235.83" y="255.86" width="3.53" height="1.85" fill="#0001ff"/>
<rect x="235.83" y="254.06" width="3.53" height="1.85" fill="#0013ff"/>
<rect x="235.83" y="252.27" width="3.53" height="1.85" fill="#001cff"/>
<rect x="235.83" y="250.47" width="3.53" height="1.85" fill="#0078ff"/>
<rect x="235.83" y="248.68" width="3.53" height="1.85" fill="#0090ff"/>
<rect x="235.83" y="246.88" width="3.53" height="1.85" fill="#0070ff"/>
<rect x="235.83" y="245.09" width="3.53" height="1.85" fill="#0035ff"/>
<rect x="235.83" y="243.29" width="3.53" height="1.85" fill="#0006ff"/>
<rect x="235.83" y="241.50" width="3.53" height="1.85" fill="#0036ff"/>
<rect x="235.83" y="239.70" width="3.53" height="1.85" fill="#0065ff"/>
<rect x="235.83" y="237.91" width="3.53" height="1.85" fill="#00cdff"/>
<rect x="235.83" y="236.11" width="3.53" height="1.85" fill="#42ffbd"/>
<rect x="235.83" y="234.32" width="3.53" height="1.85" fill="#03fffc"/>
<rect x="239.31" y="275.60" width="3.53" height="2.59" fill="#0000dc"/>
<rect x="239.31" y="273.81" width="3.53" height="1.85" fill="#0000ec"/>
<rect x="239.31" y="272.01" width="3.53" height="1.85" fill="#0000e8"/>
<rect x="239.31" y="270.22" width="3.53" height="1.85" fill="#0000d0"/>
<rect x="239.31" y="268.42" width="3.53" height="1.85" fill="#0000ab"/>
<rect x="239.31" y="266.63" width="3.53" height="1.85" fill="#0000a2"/>
<rect x="239.31" y="264.83" width="3.53" height="1.85" fill="#0000b2"/>
<rect x="239.31" y="263.04" width="3.53" height="1.85" fill="#0000d9"/>
<rect x="239.31" y="261.25" width="3.53" height="1.85" fill="#000cff"/>
<rect x="239.31" y="259.45" width="3.53" height="1.85" fill="#0006ff"/>
<rect x="239.31" y="257.65" width="3.53" height="1.85" fill="#0000e1"/>
<rect x="239.31" y="255.86" width="3.53" height="1.85" fill="#0000cd"/>
<rect x="239.31" y="254.06" width="3.53" height="1.85" fill="#0000fb"/>
<rect x="239.31" y="252.27" width="3.53" height="1.85" fill="#0022ff"/>
<rect x="239.31" y="250.47" width="3.53" height="1.85" fill="#0071ff"/>
<rect x="239.31" y="248.68" width="3.53" height="1.85" fill="#0086ff"/>
<rect x="239.31" y="246.88" width="3.53" height="1.85" fill="#0063ff"/>
<rect x="239.31" y="245.09" width="3.53" height="1.85" fill="#0011ff"/>
<rect x="239.31" y="243.29" width="3.53" height="1.85" fill="#0000cd"/>
<rect x="239.31" y="241.50" width="3.53" height="1.85" fill="#0000d4"/>
<rect x="239.31" y="239.70" width="3.53" height="1.85" fill="#0000e9"/>
<rect x="239.31" y="237.91" width="3.53" height="1.85" fill="#0053ff"/>
<rect x="239.31" y="236.11" width="3.53" height="1.85" fill="#0086ff"/>
<rect x="239.31" y="234.32" width="3.53" height="1.85" fill="#0070ff"/>
<rect x="242.79" y="275.60" width="3.53" height="2.59" fill="#0000c7"/>
<rect x="242.79" y="273.81" width="3.53" height="1.85" fill="#0000e1"/>
<rect x="242.79" y="272.01" width="3.53" height="1.85" fill="#0000f4"/>
<rect x="242.79" y="270.22" width="3.53" height="1.85" fill="#0000cf"/>
<rect x="242.79" y="268.42" width="3.53" height="1.85" fill="#00009f"/>
<rect x="242.79" y="266.63" width="3.53" height="1.85" fill="#000081"/>
<rect x="242.79" y="264.83" width="3.53" height="1.85" fill="#00009d"/>
<rect x="242.79" y="263.04" width="3.53" height="1.85" fill="#0000db"/>
<rect x="242.79" y="261.25" width="3.53" height="1.85" fill="#0023ff"/>
<rect x="242.79" y="259.45" width="3.53" height="1.85" fill="#0009ff"/>
<rect x="242.79" y="257.65" width="3.53" height="1.85" fill="#0000c7"/>
<rect x="242.79" y="255.86" width="3.53" height="1.85" fill="#0000ad"/>
<rect x="242.79" y="254.06" width="3.53" height="1.85" fill="#0004ff"/>
<rect x="242.79" y="252.27" width="3.53" height="1.85" fill="#0027ff"/>
<rect x="242.79" y="250.47" width="3.53" height="1.85" fill="#0043ff"/>
<rect x="242.79" y="248.68" width="3.53" height="1.85" fill="#004eff"/>
<rect x="242.79" y="246.88" width="3.53" height="1.85" fill="#0044ff"/>
<rect x="242.79" y="245.09" width="3.53" height="1.85" fill="#000bff"/>
<rect x="242.79" y="243.29" width="3.53" height="1.85" fill="#0000d6"/>
<rect x="242.79" y="241.50" width="3.53" height="1.85" fill="#0000df"/>
<rect x="242.79" y="239.70" width="3.53" height="1.85" fill="#0000f5"/>
<rect x="242.79" y="237.91" width="3.53" height="1.85" fill="#005dff"/>
<rect x="242.79" y="236.11" width="3.53" height="1.85" fill="#0071ff"/>
<rect x="242.79" y="234.32" width="3.53" height="1.85" fill="#0055ff"/>
<rect x="242.79" y="232.52" width="3.53" height="1.85" fill="#0073ff"/>
<rect x="246.26" y="275.60" width="3.53" height="2.59" fill="#0000cf"/>
<rect x="246.26" y="273.81" width="3.53" height="1.85" fill="#0000d8"/>
<rect x="246.26" y="272.01" width="3.53" height="1.85" fill="#0000db"/>
<rect x="246.26" y="270.22" width="3.53" height="1.85" fill="#0000cd"/>
<rect x="246.26" y="268.42" width="3.53" height="1.85" fill="#0000bb"/>
<rect x="246.26" y="266.63" width="3.53" height="1.85" fill="#000095"/>
<rect x="246.26" y="264.83" width="3.53" height="1.85" fill="#0000a5"/>
<rect x="246.26" y="263.04" width="3.53" height="1.85" fill="#0000e2"/>
<rect x="246.26" y="261.25" width="3.53" height="1.85" fill="#002cff"/>
<rect x="246.26" y="259.45" width="3.53" height="1.85" fill="#0009ff"/>
<rect x="246.26" y="257.65" width="3.53" height="1.85" fill="#0000b8"/>
<rect x="246.26" y="255.86" width="3.53" height="1.85" fill="#0000b2"/>
<rect x="246.26" y="254.06" width="3.53" height="1.85" fill="#000eff"/>
<rect x="246.26" y="252.27" width="3.53" height="1.85" fill="#0010ff"/>
<rect x="246.26" y="250.47" width="3.53" height="1.85" fill="#0007ff"/>
<rect x="246.26" y="248.68" width="3.53" height="1.85" fill="#000fff"/>
<rect x="246.26" y="246.88" width="3.53" height="1.85" fill="#0029ff"/>
<rect x="246.26" y="245.09" width="3.53" height="1.85" fill="#0018ff"/>
<rect x="246.26" y="236.11" width="3.53" height="1.85" fill="#00a5ff"/>
<rect x="246.26" y="234.32" width="3.53" height="1.85" fill="#0079ff"/>
<rect x="246.26" y="232.52" width="3.53" height="1.85" fill="#0065ff"/>
<rect x="249.74" y="275.60" width="3.53" height="2.59" fill="#0000e0"/>
<rect x="249.74" y="273.81" width="3.53" height="1.85" fill="#0000d0"/>
<rect x="249.74" y="272.01" width="3.53" height="1.85" fill="#0000c0"/>
<rect x="249.74" y="270.22" width="3.53" height="1.85" fill="#0000ce"/>
<rect x="249.74" y="268.42" width="3.53" height="1.85" fill="#0000ec"/>
<rect x="249.74" y="266.63" width="3.53" height="1.85" fill="#0000c5"/>
<rect x="249.74" y="264.83" width="3.53" height="1.85" fill="#0000bc"/>
<rect x="249.74" y="263.04" width="3.53" height="1.85" fill="#0000e0"/>
<rect x="249.74" y="261.25" width="3.53" height="1.85" fill="#0023ff"/>
<rect x="249.74" y="259.45" width="3.53" height="1.85" fill="#0000f8"/>
<rect x="249.74" y="257.65" width="3.53" height="1.85" fill="#0000a9"/>
<rect x="249.74" y="255.86" width="3.53" height="1.85" fill="#0000bc"/>
<rect x="249.74" y="254.06" width="3.53" height="1.85" fill="#0000f6"/>
<rect x="249.74" y="252.27" width="3.53" height="1.85" fill="#0000ef"/>
<rect x="249.74" y="250.47" width="3.53" height="1.85" fill="#0000e9"/>
<rect x="249.74" y="248.68" width="3.53" height="1.85" fill="#0000fa"/>
<rect x="249.74" y="246.88" width="3.53" height="1.85" fill="#0011ff"/>
<rect x="249.74" y="245.09" width="3.53" height="1.85" fill="#000aff"/>
<rect x="249.74" y="236.11" width="3.53" height="1.85" fill="#00b4ff"/>
<rect x="249.74" y="234.32" width="3.53" height="1.85" fill="#008aff"/>
<rect x="249.74" y="232.52" width="3.53" height="1.85" fill="#0067ff"/>
<rect x="253.22" y="275.60" width="3.53" height="2.59" fill="#0000ed"/>
<rect x="253.22" y="273.81" width="3.53" height="1.85" fill="#0000e5"/>
<rect x="253.22" y="272.01" width="3.53" height="1.85" fill="#0000d1"/>
<rect x="253.22" y="270.22" width="3.53" height="1.85" fill="#0000e2"/>
<rect x="253.22" y="268.42" width="3.53" height="1.85" fill="#0018ff"/>
<rect x="253.22" y="266.63" width="3.53" height="1.85" fill="#0000eb"/>
<rect x="253.22" y="264.83" width="3.53" height="1.85" fill="#0000ca"/>
<rect x="253.22" y="263.04" width="3.53" height="1.85" fill="#0000d7"/>
<rect x="253.22" y="261.25" width="3.53" height="1.85" fill="#0018ff"/>
<rect x="253.22" y="259.45" width="3.53" height="1.85" fill="#0000df"/>
<rect x="253.22" y="257.65" width="3.53" height="1.85" fill="#00009e"/>
<rect x="253.22" y="255.86" width="3.53" height="1.85" fill="#0000b9"/>
<rect x="253.22" y="254.06" width="3.53" height="1.85" fill="#0000eb"/>
<rect x="253.22" y="252.27" width="3.53" height="1.85" fill="#0000ea"/>
<rect x="253.22" y="250.47" width="3.53" height="1.85" fill="#0000d9"/>
<rect x="253.22" y="248.68" width="3.53" height="1.85" fill="#0000fa"/>
<rect x="253.22" y="246.88" width="3.53" height="1.85" fill="#0004ff"/>
<rect x="253.22" y="245.09" width="3.53" height="1.85" fill="#0000ed"/>
<rect x="253.22" y="236.11" width="3.53" height="1.85" fill="#0080ff"/>
<rect x="253.22" y="234.32" width="3.53" height="1.85" fill="#006bff"/>
<rect x="253.22" y="232.52" width="3.53" height="1.85" fill="#0067ff"/>
<rect x="256.69" y="275.60" width="3.53" height="2.59" fill="#0000e2"/>
<rect x="256.69" y="273.81" width="3.53" height="1.85" fill="#0000e7"/>
<rect x="256.69" y="272.01" width="3.53" height="1.85" fill="#0000ea"/>
<rect x="256.69" y="270.22" width="3.53" height="1.85" fill="#0000fd"/>
<rect x="256.69" y="268.42" width="3.53" height="1.85" fill="#0035ff"/>
<rect x="256.69" y="266.63" width="3.53" height="1.85" fill="#000bff"/>
<rect x="256.69" y="264.83" width="3.53" height="1.85" fill="#0000d2"/>
<rect x="256.69" y="263.04" width="3.53" height="1.85" fill="#0000d1"/>
<rect x="256.69" y="261.25" width="3.53" height="1.85" fill="#0017ff"/>
<rect x="256.69" y="259.45" width="3.53" height="1.85" fill="#0000d0"/>
<rect x="256.69" y="257.65" width="3.53" height="1.85" fill="#0000a3"/>
<rect x="256.69" y="255.86" width="3.53" height="1.85" fill="#0000c9"/>
<rect x="256.69" y="254.06" width="3.53" height="1.85" fill="#0000f7"/>
<rect x="256.69" y="252.27" width="3.53" height="1.85" fill="#0000fd"/>
<rect x="256.69" y="250.47" width="3.53" height="1.85" fill="#0000ce"/>
<rect x="256.69" y="248.68" width="3.53" height="1.85" fill="#0000f3"/>
<rect x="256.69" y="246.88" width="3.53" height="1.85" fill="#0000f4"/>
<rect x="256.69" y="245.09" width="3.53" height="1.85" fill="#0000dd"/>
<rect x="256.69" y="236.11" width="3.53" height="1.85" fill="#0083ff"/>
<rect x="256.69" y="234.32" width="3.53" height="1.85" fill="#0070ff"/>
<rect x="256.69" y="232.52" width="3.53" height="1.85" fill="#0062ff"/>
<rect x="260.17" y="275.60" width="3.53" height="2.59" fill="#0000bf"/>
<rect x="260.17" y="273.81" width="3.53" height="1.85" fill="#0000ba"/>
<rect x="260.17" y="272.01" width="3.53" height="1.85" fill="#0000e0"/>
<rect x="260.17" y="270.22" width="3.53" height="1.85" fill="#000cff"/>
<rect x="260.17" y="268.42" width="3.53" height="1.85" fill="#004aff"/>
<rect x="260.17" y="266.63" width="3.53" height="1.85" fill="#0032ff"/>
<rect x="260.17" y="264.83" width="3.53" height="1.85" fill="#0000f4"/>
<rect x="260.17" y="263.04" width="3.53" height="1.85" fill="#0000d9"/>
<rect x="260.17" y="261.25" width="3.53" height="1.85" fill="#0017ff"/>
<rect x="260.17" y="259.45" width="3.53" height="1.85" fill="#0000f3"/>
<rect x="260.17" y="257.65" width="3.53" height="1.85" fill="#0000bf"/>
<rect x="260.17" y="255.86" width="3.53" height="1.85" fill="#0000d5"/>
<rect x="260.17" y="254.06" width="3.53" height="1.85" fill="#0000f7"/>
<rect x="260.17" y="252.27" width="3.53" height="1.85" fill="#0001ff"/>
<rect x="260.17" y="250.47" width="3.53" height="1.85" fill="#0000c8"/>
<rect x="260.17" y="248.68" width="3.53" height="1.85" fill="#0000dc"/>
<rect x="260.17" y="246.88" width="3.53" height="1.85" fill="#0000e4"/>
<rect x="260.17" y="245.09" width="3.53" height="1.85" fill="#0000d5"/>
<rect x="260.17" y="236.11" width="3.53" height="1.85" fill="#00a1ff"/>
<rect x="260.17" y="234.32" width="3.53" height="1.85" fill="#0087ff"/>
<rect x="260.17" y="232.52" width="3.53" height="1.85" fill="#0063ff"/>
<rect x="263.65" y="275.60" width="3.53" height="2.59" fill="#0000d5"/>
<rect x="263.65" y="273.81" width="3.53" height="1.85" fill="#0000bc"/>
<rect x="263.65" y="272.01" width="3.53" height="1.85" fill="#0000c9"/>
<rect x="263.65" y="270.22" width="3.53" height="1.85" fill="#0009ff"/>
<rect x="263.65" y="268.42" width="3.53" height="1.85" fill="#0053ff"/>
<rect x="263.65" y="266.63" width="3.53" height="1.85" fill="#004fff"/>
<rect x="263.65" y="264.83" width="3.53" height="1.85" fill="#0008ff"/>
<rect x="263.65" y="263.04" width="3.53" height="1.85" fill="#0000eb"/>
<rect x="263.65" y="261.25" width="3.53" height="1.85" fill="#0000fb"/>
<rect x="263.65" y="259.45" width="3.53" height="1.85" fill="#0000fc"/>
<rect x="263.65" y="257.65" width="3.53" height="1.85" fill="#0000d2"/>
<rect x="263.65" y="255.86" width="3.53" height="1.85" fill="#0000dc"/>
<rect x="263.65" y="254.06" width="3.53" height="1.85" fill="#0000fd"/>
<rect x="263.65" y="252.27" width="3.53" height="1.85" fill="#000aff"/>
<rect x="263.65" y="250.47" width="3.53" height="1.85" fill="#0000dc"/>
<rect x="263.65" y="248.68" width="3.53" height="1.85" fill="#0000d9"/>
<rect x="263.65" y="246.88" width="3.53" height="1.85" fill="#0005ff"/>
<rect x="263.65" y="245.09" width="3.53" height="1.85" fill="#0000e2"/>
<rect x="263.65" y="236.11" width="3.53" height="1.85" fill="#00b9ff"/>
<rect x="263.65" y="234.32" width="3.53" height="1.85" fill="#0091ff"/>
<rect x="263.65" y="232.52" width="3.53" height="1.85" fill="#0060ff"/>
<rect x="267.12" y="275.60" width="3.53" height="2.59" fill="#0000fa"/>
<rect x="267.12" y="273.81" width="3.53" height="1.85" fill="#0000d7"/>
<rect x="267.12" y="272.01" width="3.53" height="1.85" fill="#0000ae"/>
<rect x="267.12" y="270.22" width="3.53" height="1.85" fill="#0000ec"/>
<rect x="267.12" y="268.42" width="3.53" height="1.85" fill="#004fff"/>
<rect x="267.12" y="266.63" width="3.53" height="1.85" fill="#005cff"/>
<rect x="267.12" y="264.83" width="3.53" height="1.85" fill="#0005ff"/>
<rect x="267.12" y="263.04" width="3.53" height="1.85" fill="#0000f8"/>
<rect x="267.12" y="261.25" width="3.53" height="1.85" fill="#0000df"/>
<rect x="267.12" y="259.45" width="3.53" height="1.85" fill="#0000ea"/>
<rect x="267.12" y="257.65" width="3.53" height="1.85" fill="#0000d1"/>
<rect x="267.12" y="255.86" width="3.53" height="1.85" fill="#0000ef"/>
<rect x="267.12" y="254.06" width="3.53" height="1.85" fill="#0000fc"/>
<rect x="267.12" y="252.27" width="3.53" height="1.85" fill="#0013ff"/>
<rect x="267.12" y="250.47" width="3.53" height="1.85" fill="#0000fc"/>
<rect x="267.12" y="248.68" width="3.53" height="1.85" fill="#0000f2"/>
<rect x="267.12" y="246.88" width="3.53" height="1.85" fill="#0039ff"/>
<rect x="267.12" y="245.09" width="3.53" height="1.85" fill="#000eff"/>
<rect x="166.20" y="202.20" width="10.05" height="4.95" fill="#24ffdb"/>
<rect x="187.00" y="201.80" width="3.75" height="1.95" fill="#0000cc"/>
<rect x="204.10" y="195.00" width="3.75" height="1.85" fill="#80ff80"/>
<rect x="249.50" y="238.00" width="3.55" height="1.65" fill="#66ff99"/>
</g>
<g stroke="#3a3a3a" stroke-width="1.05" fill="none">
<path d="M61.65 61V282.4"/>
<path d="M56.8 61.5H61.65M56.8 169.5H61.65M56.8 277.6H61.65"/>
<path d="M96.5 278v4.4M131.5 278v4.4M166.3 278v4.4M201 278v4.4M235.7 278v4.4M270.4 278v4.4" stroke="#444" stroke-width="0.85"/>
</g>
<g class="t" font-size="14" text-anchor="middle">
<text x="58.8" y="297.1">-30</text>
<text x="91.2" y="299">-20</text>
<text x="126.1" y="298.4">-10</text>
<text x="166.00" y="298.40">0</text>
<text x="195.8" y="298.4">+10</text>
<text x="235" y="298.4">+20</text>
<text x="268.6" y="298.4">+30</text>
</g>
<text class="t" x="78.2" y="319.9" font-size="13.5" textLength="168.2" lengthAdjust="spacingAndGlyphs">Insult intensity (mmHg)</text>
<g class="t" font-size="14" text-anchor="middle">
<text transform="translate(50.1 60) rotate(-90)">120</text>
<text transform="translate(50.1 169) rotate(-90)">60</text>
<text transform="translate(50.1 276.7) rotate(-90)">0</text>
</g>
<text class="t" font-size="13.5" transform="translate(13.8 254.8) rotate(-90)" textLength="176.5" lengthAdjust="spacingAndGlyphs">Insult duration (minutes)</text>
<rect x="291" y="61.2" width="19.3" height="235.3" fill="url(#jet)"/>
<g class="a" font-size="9.6" stroke="#111" stroke-width="0.3">
<text x="319.60" y="64.30">1</text>
<text x="315.70" y="122.90">0.5</text>
<text x="319.70" y="182.10">0</text>
<text x="313.00" y="241.20">−0.5</text>
<text x="316.60" y="299.90">−1</text>
</g>

<!-- ===== Panel B ===== -->
<text class="a" x="377.4" y="11.8" font-size="14" font-weight="bold" stroke="#111" stroke-width="0.35">B</text>
<text class="t" x="404.8" y="31.3" font-size="18.5" textLength="242.8" lengthAdjust="spacingAndGlyphs">ΔCPPopt above threshold</text>
<path d="M413.7 277.9H622.3" stroke="#9a9a9a" stroke-width="0.7" fill="none"/>
<g filter="url(#soft)" shape-rendering="crispEdges">
<rect x="413.50" y="275.60" width="3.53" height="2.59" fill="#14ffeb"/>
<rect x="413.50" y="273.81" width="3.53" height="1.85" fill="#1effe1"/>
<rect x="413.50" y="272.01" width="3.53" height="1.85" fill="#1cffe3"/>
<rect x="413.50" y="270.22" width="3.53" height="1.85" fill="#09fff6"/>
<rect x="413.50" y="268.42" width="3.53" height="1.85" fill="#009cff"/>
<rect x="413.50" y="266.63" width="3.53" height="1.85" fill="#0044ff"/>
<rect x="413.50" y="264.83" width="3.53" height="1.85" fill="#0080ff"/>
<rect x="413.50" y="263.04" width="3.53" height="1.85" fill="#00d9ff"/>
<rect x="413.50" y="261.25" width="3.53" height="1.85" fill="#77ff88"/>
<rect x="413.50" y="259.45" width="3.53" height="1.85" fill="#d8ff27"/>
<rect x="413.50" y="257.65" width="3.53" height="1.85" fill="#00d7ff"/>
<rect x="413.50" y="255.86" width="3.53" height="1.85" fill="#0000d6"/>
<rect x="416.98" y="275.60" width="3.53" height="2.59" fill="#2cffd3"/>
<rect x="416.98" y="273.81" width="3.53" height="1.85" fill="#3effc1"/>
<rect x="416.98" y="272.01" width="3.53" height="1.85" fill="#2fffd0"/>
<rect x="416.98" y="270.22" width="3.53" height="1.85" fill="#0cfff3"/>
<rect x="416.98" y="268.42" width="3.53" height="1.85" fill="#008fff"/>
<rect x="416.98" y="266.63" width="3.53" height="1.85" fill="#0031ff"/>
<rect x="416.98" y="264.83" width="3.53" height="1.85" fill="#005fff"/>
<rect x="416.98" y="263.04" width="3.53" height="1.85" fill="#00d5ff"/>
<rect x="416.98" y="261.25" width="3.53" height="1.85" fill="#88ff77"/>
<rect x="416.98" y="259.45" width="3.53" height="1.85" fill="#deff21"/>
<rect x="416.98" y="257.65" width="3.53" height="1.85" fill="#00feff"/>
<rect x="416.98" y="255.86" width="3.53" height="1.85" fill="#001cff"/>
<rect x="416.98" y="254.06" width="3.53" height="1.85" fill="#0044ff"/>
<rect x="420.46" y="275.60" width="3.53" height="2.59" fill="#4dffb2"/>
<rect x="420.46" y="273.81" width="3.53" height="1.85" fill="#79ff86"/>
<rect x="420.46" y="272.01" width="3.53" height="1.85" fill="#5fffa0"/>
<rect x="420.46" y="270.22" width="3.53" height="1.85" fill="#18ffe7"/>
<rect x="420.46" y="268.42" width="3.53" height="1.85" fill="#0091ff"/>
<rect x="420.46" y="266.63" width="3.53" height="1.85" fill="#0020ff"/>
<rect x="420.46" y="264.83" width="3.53" height="1.85" fill="#004bff"/>
<rect x="420.46" y="263.04" width="3.53" height="1.85" fill="#00cfff"/>
<rect x="420.46" y="261.25" width="3.53" height="1.85" fill="#51ffae"/>
<rect x="420.46" y="259.45" width="3.53" height="1.85" fill="#72ff8d"/>
<rect x="420.46" y="257.65" width="3.53" height="1.85" fill="#00e7ff"/>
<rect x="420.46" y="255.86" width="3.53" height="1.85" fill="#002aff"/>
<rect x="420.46" y="254.06" width="3.53" height="1.85" fill="#0033ff"/>
<rect x="420.46" y="252.27" width="3.53" height="1.85" fill="#00a6ff"/>
<rect x="423.94" y="275.60" width="3.53" height="2.59" fill="#6bff94"/>
<rect x="423.94" y="273.81" width="3.53" height="1.85" fill="#a5ff5a"/>
<rect x="423.94" y="272.01" width="3.53" height="1.85" fill="#8aff75"/>
<rect x="423.94" y="270.22" width="3.53" height="1.85" fill="#2affd5"/>
<rect x="423.94" y="268.42" width="3.53" height="1.85" fill="#0096ff"/>
<rect x="423.94" y="266.63" width="3.53" height="1.85" fill="#0016ff"/>
<rect x="423.94" y="264.83" width="3.53" height="1.85" fill="#0036ff"/>
<rect x="423.94" y="263.04" width="3.53" height="1.85" fill="#00c5ff"/>
<rect x="423.94" y="261.25" width="3.53" height="1.85" fill="#38ffc7"/>
<rect x="423.94" y="259.45" width="3.53" height="1.85" fill="#4affb5"/>
<rect x="423.94" y="257.65" width="3.53" height="1.85" fill="#00e4ff"/>
<rect x="423.94" y="255.86" width="3.53" height="1.85" fill="#0031ff"/>
<rect x="423.94" y="254.06" width="3.53" height="1.85" fill="#0012ff"/>
<rect x="423.94" y="252.27" width="3.53" height="1.85" fill="#0099ff"/>
<rect x="423.94" y="250.47" width="3.53" height="1.85" fill="#86ff79"/>
<rect x="423.94" y="248.68" width="3.53" height="1.85" fill="#ff9300"/>
<rect x="427.42" y="275.60" width="3.53" height="2.59" fill="#73ff8c"/>
<rect x="427.42" y="273.81" width="3.53" height="1.85" fill="#aeff51"/>
<rect x="427.42" y="272.01" width="3.53" height="1.85" fill="#94ff6b"/>
<rect x="427.42" y="270.22" width="3.53" height="1.85" fill="#34ffcb"/>
<rect x="427.42" y="268.42" width="3.53" height="1.85" fill="#0089ff"/>
<rect x="427.42" y="266.63" width="3.53" height="1.85" fill="#0013ff"/>
<rect x="427.42" y="264.83" width="3.53" height="1.85" fill="#002dff"/>
<rect x="427.42" y="263.04" width="3.53" height="1.85" fill="#00bdff"/>
<rect x="427.42" y="261.25" width="3.53" height="1.85" fill="#31ffce"/>
<rect x="427.42" y="259.45" width="3.53" height="1.85" fill="#4bffb4"/>
<rect x="427.42" y="257.65" width="3.53" height="1.85" fill="#00e0ff"/>
<rect x="427.42" y="255.86" width="3.53" height="1.85" fill="#002fff"/>
<rect x="427.42" y="254.06" width="3.53" height="1.85" fill="#0001ff"/>
<rect x="427.42" y="252.27" width="3.53" height="1.85" fill="#007fff"/>
<rect x="427.42" y="250.47" width="3.53" height="1.85" fill="#abff54"/>
<rect x="427.42" y="248.68" width="3.53" height="1.85" fill="#ff8c00"/>
<rect x="427.42" y="246.88" width="3.53" height="1.85" fill="#f1ff0e"/>
<rect x="427.42" y="245.09" width="3.53" height="1.85" fill="#58ffa7"/>
<rect x="427.42" y="243.29" width="3.53" height="1.85" fill="#42ffbd"/>
<rect x="430.90" y="275.60" width="3.53" height="2.59" fill="#50ffaf"/>
<rect x="430.90" y="273.81" width="3.53" height="1.85" fill="#8aff75"/>
<rect x="430.90" y="272.01" width="3.53" height="1.85" fill="#7bff84"/>
<rect x="430.90" y="270.22" width="3.53" height="1.85" fill="#25ffda"/>
<rect x="430.90" y="268.42" width="3.53" height="1.85" fill="#007bff"/>
<rect x="430.90" y="266.63" width="3.53" height="1.85" fill="#001dff"/>
<rect x="430.90" y="264.83" width="3.53" height="1.85" fill="#0039ff"/>
<rect x="430.90" y="263.04" width="3.53" height="1.85" fill="#00bdff"/>
<rect x="430.90" y="261.25" width="3.53" height="1.85" fill="#29ffd6"/>
<rect x="430.90" y="259.45" width="3.53" height="1.85" fill="#52ffad"/>
<rect x="430.90" y="257.65" width="3.53" height="1.85" fill="#00e8ff"/>
<rect x="430.90" y="255.86" width="3.53" height="1.85" fill="#003fff"/>
<rect x="430.90" y="254.06" width="3.53" height="1.85" fill="#000dff"/>
<rect x="430.90" y="252.27" width="3.53" height="1.85" fill="#0078ff"/>
<rect x="430.90" y="250.47" width="3.53" height="1.85" fill="#6eff91"/>
<rect x="430.90" y="248.68" width="3.53" height="1.85" fill="#ffe800"/>
<rect x="430.90" y="246.88" width="3.53" height="1.85" fill="#fff200"/>
<rect x="430.90" y="245.09" width="3.53" height="1.85" fill="#8eff71"/>
<rect x="430.90" y="243.29" width="3.53" height="1.85" fill="#66ff99"/>
<rect x="434.38" y="275.60" width="3.53" height="2.59" fill="#1dffe2"/>
<rect x="434.38" y="273.81" width="3.53" height="1.85" fill="#4effb1"/>
<rect x="434.38" y="272.01" width="3.53" height="1.85" fill="#4effb1"/>
<rect x="434.38" y="270.22" width="3.53" height="1.85" fill="#07fff8"/>
<rect x="434.38" y="268.42" width="3.53" height="1.85" fill="#0079ff"/>
<rect x="434.38" y="266.63" width="3.53" height="1.85" fill="#0025ff"/>
<rect x="434.38" y="264.83" width="3.53" height="1.85" fill="#003fff"/>
<rect x="434.38" y="263.04" width="3.53" height="1.85" fill="#00c1ff"/>
<rect x="434.38" y="261.25" width="3.53" height="1.85" fill="#1effe1"/>
<rect x="434.38" y="259.45" width="3.53" height="1.85" fill="#4effb1"/>
<rect x="434.38" y="257.65" width="3.53" height="1.85" fill="#00f2ff"/>
<rect x="434.38" y="255.86" width="3.53" height="1.85" fill="#0063ff"/>
<rect x="434.38" y="254.06" width="3.53" height="1.85" fill="#002fff"/>
<rect x="434.38" y="252.27" width="3.53" height="1.85" fill="#0073ff"/>
<rect x="434.38" y="250.47" width="3.53" height="1.85" fill="#32ffcd"/>
<rect x="434.38" y="248.68" width="3.53" height="1.85" fill="#d8ff27"/>
<rect x="434.38" y="246.88" width="3.53" height="1.85" fill="#ffe300"/>
<rect x="434.38" y="245.09" width="3.53" height="1.85" fill="#f5ff0a"/>
<rect x="434.38" y="243.29" width="3.53" height="1.85" fill="#90ff6f"/>
<rect x="437.86" y="275.60" width="3.53" height="2.59" fill="#00eeff"/>
<rect x="437.86" y="273.81" width="3.53" height="1.85" fill="#1bffe4"/>
<rect x="437.86" y="272.01" width="3.53" height="1.85" fill="#28ffd7"/>
<rect x="437.86" y="270.22" width="3.53" height="1.85" fill="#00f1ff"/>
<rect x="437.86" y="268.42" width="3.53" height="1.85" fill="#0075ff"/>
<rect x="437.86" y="266.63" width="3.53" height="1.85" fill="#0020ff"/>
<rect x="437.86" y="264.83" width="3.53" height="1.85" fill="#003eff"/>
<rect x="437.86" y="263.04" width="3.53" height="1.85" fill="#00ccff"/>
<rect x="437.86" y="261.25" width="3.53" height="1.85" fill="#12ffed"/>
<rect x="437.86" y="259.45" width="3.53" height="1.85" fill="#38ffc7"/>
<rect x="437.86" y="257.65" width="3.53" height="1.85" fill="#00f8ff"/>
<rect x="437.86" y="255.86" width="3.53" height="1.85" fill="#007eff"/>
<rect x="437.86" y="254.06" width="3.53" height="1.85" fill="#0042ff"/>
<rect x="437.86" y="252.27" width="3.53" height="1.85" fill="#0082ff"/>
<rect x="437.86" y="250.47" width="3.53" height="1.85" fill="#2bffd4"/>
<rect x="437.86" y="248.68" width="3.53" height="1.85" fill="#bfff40"/>
<rect x="437.86" y="246.88" width="3.53" height="1.85" fill="#ff7b00"/>
<rect x="437.86" y="245.09" width="3.53" height="1.85" fill="#ff2700"/>
<rect x="441.34" y="275.60" width="3.53" height="2.59" fill="#00c3ff"/>
<rect x="441.34" y="273.81" width="3.53" height="1.85" fill="#00ebff"/>
<rect x="441.34" y="272.01" width="3.53" height="1.85" fill="#0cfff3"/>
<rect x="441.34" y="270.22" width="3.53" height="1.85" fill="#00e7ff"/>
<rect x="441.34" y="268.42" width="3.53" height="1.85" fill="#0078ff"/>
<rect x="441.34" y="266.63" width="3.53" height="1.85" fill="#0027ff"/>
<rect x="441.34" y="264.83" width="3.53" height="1.85" fill="#0053ff"/>
<rect x="441.34" y="263.04" width="3.53" height="1.85" fill="#00d4ff"/>
<rect x="441.34" y="261.25" width="3.53" height="1.85" fill="#06fff9"/>
<rect x="441.34" y="259.45" width="3.53" height="1.85" fill="#1dffe2"/>
<rect x="441.34" y="257.65" width="3.53" height="1.85" fill="#00ffff"/>
<rect x="441.34" y="255.86" width="3.53" height="1.85" fill="#0096ff"/>
<rect x="441.34" y="254.06" width="3.53" height="1.85" fill="#005eff"/>
<rect x="441.34" y="252.27" width="3.53" height="1.85" fill="#00acff"/>
<rect x="441.34" y="250.47" width="3.53" height="1.85" fill="#58ffa7"/>
<rect x="441.34" y="248.68" width="3.53" height="1.85" fill="#afff50"/>
<rect x="441.34" y="246.88" width="3.53" height="1.85" fill="#ff8700"/>
<rect x="441.34" y="245.09" width="3.53" height="1.85" fill="#ff2b00"/>
<rect x="444.82" y="275.60" width="3.53" height="2.59" fill="#00b4ff"/>
<rect x="444.82" y="273.81" width="3.53" height="1.85" fill="#00d2ff"/>
<rect x="444.82" y="272.01" width="3.53" height="1.85" fill="#00f7ff"/>
<rect x="444.82" y="270.22" width="3.53" height="1.85" fill="#00d8ff"/>
<rect x="444.82" y="268.42" width="3.53" height="1.85" fill="#008aff"/>
<rect x="444.82" y="266.63" width="3.53" height="1.85" fill="#0044ff"/>
<rect x="444.82" y="264.83" width="3.53" height="1.85" fill="#0078ff"/>
<rect x="444.82" y="263.04" width="3.53" height="1.85" fill="#00ccff"/>
<rect x="444.82" y="261.25" width="3.53" height="1.85" fill="#00eaff"/>
<rect x="444.82" y="259.45" width="3.53" height="1.85" fill="#05fffa"/>
<rect x="444.82" y="257.65" width="3.53" height="1.85" fill="#01fffe"/>
<rect x="444.82" y="255.86" width="3.53" height="1.85" fill="#00b8ff"/>
<rect x="444.82" y="254.06" width="3.53" height="1.85" fill="#00a1ff"/>
<rect x="444.82" y="252.27" width="3.53" height="1.85" fill="#00dfff"/>
<rect x="444.82" y="250.47" width="3.53" height="1.85" fill="#56ffa9"/>
<rect x="444.82" y="248.68" width="3.53" height="1.85" fill="#8bff74"/>
<rect x="444.82" y="246.88" width="3.53" height="1.85" fill="#ffbb00"/>
<rect x="448.30" y="275.60" width="3.53" height="2.59" fill="#00b8ff"/>
<rect x="448.30" y="273.81" width="3.53" height="1.85" fill="#00c7ff"/>
<rect x="448.30" y="272.01" width="3.53" height="1.85" fill="#00e4ff"/>
<rect x="448.30" y="270.22" width="3.53" height="1.85" fill="#00c6ff"/>
<rect x="448.30" y="268.42" width="3.53" height="1.85" fill="#0089ff"/>
<rect x="448.30" y="266.63" width="3.53" height="1.85" fill="#005dff"/>
<rect x="448.30" y="264.83" width="3.53" height="1.85" fill="#0098ff"/>
<rect x="448.30" y="263.04" width="3.53" height="1.85" fill="#00c9ff"/>
<rect x="448.30" y="261.25" width="3.53" height="1.85" fill="#00e2ff"/>
<rect x="448.30" y="259.45" width="3.53" height="1.85" fill="#07fff8"/>
<rect x="448.30" y="257.65" width="3.53" height="1.85" fill="#0bfff4"/>
<rect x="448.30" y="255.86" width="3.53" height="1.85" fill="#00f0ff"/>
<rect x="448.30" y="254.06" width="3.53" height="1.85" fill="#00fdff"/>
<rect x="448.30" y="252.27" width="3.53" height="1.85" fill="#2bffd4"/>
<rect x="448.30" y="250.47" width="3.53" height="1.85" fill="#83ff7c"/>
<rect x="448.30" y="248.68" width="3.53" height="1.85" fill="#a8ff57"/>
<rect x="448.30" y="246.88" width="3.53" height="1.85" fill="#8aff75"/>
<rect x="451.78" y="275.60" width="3.53" height="2.59" fill="#00bcff"/>
<rect x="451.78" y="273.81" width="3.53" height="1.85" fill="#00bbff"/>
<rect x="451.78" y="272.01" width="3.53" height="1.85" fill="#00b4ff"/>
<rect x="451.78" y="270.22" width="3.53" height="1.85" fill="#00abff"/>
<rect x="451.78" y="268.42" width="3.53" height="1.85" fill="#007dff"/>
<rect x="451.78" y="266.63" width="3.53" height="1.85" fill="#0068ff"/>
<rect x="451.78" y="264.83" width="3.53" height="1.85" fill="#00a8ff"/>
<rect x="451.78" y="263.04" width="3.53" height="1.85" fill="#00daff"/>
<rect x="451.78" y="261.25" width="3.53" height="1.85" fill="#00f2ff"/>
<rect x="451.78" y="259.45" width="3.53" height="1.85" fill="#13ffec"/>
<rect x="451.78" y="257.65" width="3.53" height="1.85" fill="#1cffe3"/>
<rect x="451.78" y="255.86" width="3.53" height="1.85" fill="#27ffd8"/>
<rect x="451.78" y="254.06" width="3.53" height="1.85" fill="#4cffb3"/>
<rect x="451.78" y="252.27" width="3.53" height="1.85" fill="#77ff88"/>
<rect x="451.78" y="250.47" width="3.53" height="1.85" fill="#c9ff36"/>
<rect x="451.78" y="248.68" width="3.53" height="1.85" fill="#ebff14"/>
<rect x="451.78" y="246.88" width="3.53" height="1.85" fill="#a4ff5b"/>
<rect x="451.78" y="245.09" width="3.53" height="1.85" fill="#93ff6c"/>
<rect x="455.26" y="275.60" width="3.53" height="2.59" fill="#00afff"/>
<rect x="455.26" y="273.81" width="3.53" height="1.85" fill="#00aeff"/>
<rect x="455.26" y="272.01" width="3.53" height="1.85" fill="#008fff"/>
<rect x="455.26" y="270.22" width="3.53" height="1.85" fill="#0097ff"/>
<rect x="455.26" y="268.42" width="3.53" height="1.85" fill="#0082ff"/>
<rect x="455.26" y="266.63" width="3.53" height="1.85" fill="#0082ff"/>
<rect x="455.26" y="264.83" width="3.53" height="1.85" fill="#00c1ff"/>
<rect x="455.26" y="263.04" width="3.53" height="1.85" fill="#00e9ff"/>
<rect x="455.26" y="261.25" width="3.53" height="1.85" fill="#00f2ff"/>
<rect x="455.26" y="259.45" width="3.53" height="1.85" fill="#18ffe7"/>
<rect x="455.26" y="257.65" width="3.53" height="1.85" fill="#3effc1"/>
<rect x="455.26" y="255.86" width="3.53" height="1.85" fill="#4bffb4"/>
<rect x="455.26" y="254.06" width="3.53" height="1.85" fill="#72ff8d"/>
<rect x="455.26" y="252.27" width="3.53" height="1.85" fill="#95ff6a"/>
<rect x="455.26" y="250.47" width="3.53" height="1.85" fill="#deff21"/>
<rect x="455.26" y="248.68" width="3.53" height="1.85" fill="#fff500"/>
<rect x="455.26" y="246.88" width="3.53" height="1.85" fill="#ceff31"/>
<rect x="455.26" y="245.09" width="3.53" height="1.85" fill="#acff53"/>
<rect x="455.26" y="243.29" width="3.53" height="1.85" fill="#caff35"/>
<rect x="455.26" y="241.50" width="3.53" height="1.85" fill="#cfff30"/>
<rect x="455.26" y="239.70" width="3.53" height="1.85" fill="#beff41"/>
<rect x="458.74" y="275.60" width="3.53" height="2.59" fill="#009bff"/>
<rect x="458.74" y="273.81" width="3.53" height="1.85" fill="#009dff"/>
<rect x="458.74" y="272.01" width="3.53" height="1.85" fill="#0084ff"/>
<rect x="458.74" y="270.22" width="3.53" height="1.85" fill="#0099ff"/>
<rect x="458.74" y="268.42" width="3.53" height="1.85" fill="#0095ff"/>
<rect x="458.74" y="266.63" width="3.53" height="1.85" fill="#00b8ff"/>
<rect x="458.74" y="264.83" width="3.53" height="1.85" fill="#00e7ff"/>
<rect x="458.74" y="263.04" width="3.53" height="1.85" fill="#00eeff"/>
<rect x="458.74" y="261.25" width="3.53" height="1.85" fill="#00ebff"/>
<rect x="458.74" y="259.45" width="3.53" height="1.85" fill="#2cffd3"/>
<rect x="458.74" y="257.65" width="3.53" height="1.85" fill="#6aff95"/>
<rect x="458.74" y="255.86" width="3.53" height="1.85" fill="#77ff88"/>
<rect x="458.74" y="254.06" width="3.53" height="1.85" fill="#7dff82"/>
<rect x="458.74" y="252.27" width="3.53" height="1.85" fill="#8fff70"/>
<rect x="458.74" y="250.47" width="3.53" height="1.85" fill="#dbff24"/>
<rect x="458.74" y="248.68" width="3.53" height="1.85" fill="#f9ff06"/>
<rect x="458.74" y="246.88" width="3.53" height="1.85" fill="#c5ff3a"/>
<rect x="458.74" y="245.09" width="3.53" height="1.85" fill="#adff52"/>
<rect x="458.74" y="243.29" width="3.53" height="1.85" fill="#d9ff26"/>
<rect x="458.74" y="241.50" width="3.53" height="1.85" fill="#e5ff1a"/>
<rect x="458.74" y="239.70" width="3.53" height="1.85" fill="#d9ff26"/>
<rect x="458.74" y="237.91" width="3.53" height="1.85" fill="#c6ff39"/>
<rect x="458.74" y="236.11" width="3.53" height="1.85" fill="#5fffa0"/>
<rect x="462.22" y="275.60" width="3.53" height="2.59" fill="#0093ff"/>
<rect x="462.22" y="273.81" width="3.53" height="1.85" fill="#0094ff"/>
<rect x="462.22" y="272.01" width="3.53" height="1.85" fill="#0085ff"/>
<rect x="462.22" y="270.22" width="3.53" height="1.85" fill="#009fff"/>
<rect x="462.22" y="268.42" width="3.53" height="1.85" fill="#009eff"/>
<rect x="462.22" y="266.63" width="3.53" height="1.85" fill="#00d8ff"/>
<rect x="462.22" y="264.83" width="3.53" height="1.85" fill="#00fcff"/>
<rect x="462.22" y="263.04" width="3.53" height="1.85" fill="#0ffff0"/>
<rect x="462.22" y="261.25" width="3.53" height="1.85" fill="#26ffd9"/>
<rect x="462.22" y="259.45" width="3.53" height="1.85" fill="#66ff99"/>
<rect x="462.22" y="257.65" width="3.53" height="1.85" fill="#8aff75"/>
<rect x="462.22" y="255.86" width="3.53" height="1.85" fill="#94ff6b"/>
<rect x="462.22" y="254.06" width="3.53" height="1.85" fill="#74ff8b"/>
<rect x="462.22" y="252.27" width="3.53" height="1.85" fill="#70ff8f"/>
<rect x="462.22" y="250.47" width="3.53" height="1.85" fill="#afff50"/>
<rect x="462.22" y="248.68" width="3.53" height="1.85" fill="#afff50"/>
<rect x="462.22" y="246.88" width="3.53" height="1.85" fill="#8cff73"/>
<rect x="462.22" y="245.09" width="3.53" height="1.85" fill="#8eff71"/>
<rect x="462.22" y="243.29" width="3.53" height="1.85" fill="#a0ff5f"/>
<rect x="462.22" y="241.50" width="3.53" height="1.85" fill="#b3ff4c"/>
<rect x="462.22" y="239.70" width="3.53" height="1.85" fill="#9cff63"/>
<rect x="462.22" y="237.91" width="3.53" height="1.85" fill="#71ff8e"/>
<rect x="462.22" y="236.11" width="3.53" height="1.85" fill="#15ffea"/>
<rect x="462.22" y="234.32" width="3.53" height="1.85" fill="#00e3ff"/>
<rect x="465.70" y="275.60" width="3.53" height="2.59" fill="#008fff"/>
<rect x="465.70" y="273.81" width="3.53" height="1.85" fill="#008dff"/>
<rect x="465.70" y="272.01" width="3.53" height="1.85" fill="#009bff"/>
<rect x="465.70" y="270.22" width="3.53" height="1.85" fill="#00bfff"/>
<rect x="465.70" y="268.42" width="3.53" height="1.85" fill="#00c2ff"/>
<rect x="465.70" y="266.63" width="3.53" height="1.85" fill="#04fffb"/>
<rect x="465.70" y="264.83" width="3.53" height="1.85" fill="#3bffc4"/>
<rect x="465.70" y="263.04" width="3.53" height="1.85" fill="#67ff98"/>
<rect x="465.70" y="261.25" width="3.53" height="1.85" fill="#74ff8b"/>
<rect x="465.70" y="259.45" width="3.53" height="1.85" fill="#6bff94"/>
<rect x="465.70" y="257.65" width="3.53" height="1.85" fill="#7bff84"/>
<rect x="465.70" y="255.86" width="3.53" height="1.85" fill="#91ff6e"/>
<rect x="465.70" y="254.06" width="3.53" height="1.85" fill="#5effa1"/>
<rect x="465.70" y="252.27" width="3.53" height="1.85" fill="#46ffb9"/>
<rect x="465.70" y="250.47" width="3.53" height="1.85" fill="#6aff95"/>
<rect x="465.70" y="248.68" width="3.53" height="1.85" fill="#5affa5"/>
<rect x="465.70" y="246.88" width="3.53" height="1.85" fill="#4cffb3"/>
<rect x="465.70" y="245.09" width="3.53" height="1.85" fill="#5cffa3"/>
<rect x="465.70" y="243.29" width="3.53" height="1.85" fill="#58ffa7"/>
<rect x="465.70" y="241.50" width="3.53" height="1.85" fill="#53ffac"/>
<rect x="465.70" y="239.70" width="3.53" height="1.85" fill="#26ffd9"/>
<rect x="465.70" y="237.91" width="3.53" height="1.85" fill="#00e6ff"/>
<rect x="465.70" y="236.11" width="3.53" height="1.85" fill="#00a2ff"/>
<rect x="465.70" y="234.32" width="3.53" height="1.85" fill="#00aeff"/>
<rect x="465.70" y="232.52" width="3.53" height="1.85" fill="#00fcff"/>
<rect x="465.70" y="230.73" width="3.53" height="1.85" fill="#35ffca"/>
<rect x="469.18" y="275.60" width="3.53" height="2.59" fill="#0096ff"/>
<rect x="469.18" y="273.81" width="3.53" height="1.85" fill="#00a2ff"/>
<rect x="469.18" y="272.01" width="3.53" height="1.85" fill="#00caff"/>
<rect x="469.18" y="270.22" width="3.53" height="1.85" fill="#11ffee"/>
<rect x="469.18" y="268.42" width="3.53" height="1.85" fill="#38ffc7"/>
<rect x="469.18" y="266.63" width="3.53" height="1.85" fill="#5fffa0"/>
<rect x="469.18" y="264.83" width="3.53" height="1.85" fill="#72ff8d"/>
<rect x="469.18" y="263.04" width="3.53" height="1.85" fill="#6dff92"/>
<rect x="469.18" y="261.25" width="3.53" height="1.85" fill="#61ff9e"/>
<rect x="469.18" y="259.45" width="3.53" height="1.85" fill="#56ffa9"/>
<rect x="469.18" y="257.65" width="3.53" height="1.85" fill="#7aff85"/>
<rect x="469.18" y="255.86" width="3.53" height="1.85" fill="#8aff75"/>
<rect x="469.18" y="254.06" width="3.53" height="1.85" fill="#6aff95"/>
<rect x="469.18" y="252.27" width="3.53" height="1.85" fill="#4effb1"/>
<rect x="469.18" y="250.47" width="3.53" height="1.85" fill="#49ffb6"/>
<rect x="469.18" y="248.68" width="3.53" height="1.85" fill="#2dffd2"/>
<rect x="469.18" y="246.88" width="3.53" height="1.85" fill="#22ffdd"/>
<rect x="469.18" y="245.09" width="3.53" height="1.85" fill="#34ffcb"/>
<rect x="469.18" y="243.29" width="3.53" height="1.85" fill="#31ffce"/>
<rect x="469.18" y="241.50" width="3.53" height="1.85" fill="#1fffe0"/>
<rect x="469.18" y="239.70" width="3.53" height="1.85" fill="#00daff"/>
<rect x="469.18" y="237.91" width="3.53" height="1.85" fill="#0078ff"/>
<rect x="469.18" y="236.11" width="3.53" height="1.85" fill="#0054ff"/>
<rect x="469.18" y="234.32" width="3.53" height="1.85" fill="#0099ff"/>
<rect x="469.18" y="232.52" width="3.53" height="1.85" fill="#00f8ff"/>
<rect x="469.18" y="230.73" width="3.53" height="1.85" fill="#3dffc2"/>
<rect x="472.66" y="275.60" width="3.53" height="2.59" fill="#0094ff"/>
<rect x="472.66" y="273.81" width="3.53" height="1.85" fill="#00acff"/>
<rect x="472.66" y="272.01" width="3.53" height="1.85" fill="#00d1ff"/>
<rect x="472.66" y="270.22" width="3.53" height="1.85" fill="#0efff1"/>
<rect x="472.66" y="268.42" width="3.53" height="1.85" fill="#2cffd3"/>
<rect x="472.66" y="266.63" width="3.53" height="1.85" fill="#45ffba"/>
<rect x="472.66" y="264.83" width="3.53" height="1.85" fill="#49ffb6"/>
<rect x="472.66" y="263.04" width="3.53" height="1.85" fill="#32ffcd"/>
<rect x="472.66" y="261.25" width="3.53" height="1.85" fill="#28ffd7"/>
<rect x="472.66" y="259.45" width="3.53" height="1.85" fill="#1effe1"/>
<rect x="472.66" y="257.65" width="3.53" height="1.85" fill="#43ffbc"/>
<rect x="472.66" y="255.86" width="3.53" height="1.85" fill="#47ffb8"/>
<rect x="472.66" y="254.06" width="3.53" height="1.85" fill="#1dffe2"/>
<rect x="472.66" y="252.27" width="3.53" height="1.85" fill="#09fff6"/>
<rect x="472.66" y="250.47" width="3.53" height="1.85" fill="#09fff6"/>
<rect x="472.66" y="248.68" width="3.53" height="1.85" fill="#00e3ff"/>
<rect x="472.66" y="246.88" width="3.53" height="1.85" fill="#00ddff"/>
<rect x="472.66" y="245.09" width="3.53" height="1.85" fill="#00f0ff"/>
<rect x="472.66" y="243.29" width="3.53" height="1.85" fill="#00ecff"/>
<rect x="472.66" y="241.50" width="3.53" height="1.85" fill="#00e0ff"/>
<rect x="472.66" y="239.70" width="3.53" height="1.85" fill="#00acff"/>
<rect x="472.66" y="237.91" width="3.53" height="1.85" fill="#004dff"/>
<rect x="472.66" y="236.11" width="3.53" height="1.85" fill="#003dff"/>
<rect x="472.66" y="234.32" width="3.53" height="1.85" fill="#0095ff"/>
<rect x="472.66" y="232.52" width="3.53" height="1.85" fill="#00ddff"/>
<rect x="472.66" y="230.73" width="3.53" height="1.85" fill="#00ffff"/>
<rect x="476.14" y="275.60" width="3.53" height="2.59" fill="#0082ff"/>
<rect x="476.14" y="273.81" width="3.53" height="1.85" fill="#0094ff"/>
<rect x="476.14" y="272.01" width="3.53" height="1.85" fill="#0098ff"/>
<rect x="476.14" y="270.22" width="3.53" height="1.85" fill="#00b3ff"/>
<rect x="476.14" y="268.42" width="3.53" height="1.85" fill="#00b6ff"/>
<rect x="476.14" y="266.63" width="3.53" height="1.85" fill="#00caff"/>
<rect x="476.14" y="264.83" width="3.53" height="1.85" fill="#00e3ff"/>
<rect x="476.14" y="263.04" width="3.53" height="1.85" fill="#00ddff"/>
<rect x="476.14" y="261.25" width="3.53" height="1.85" fill="#00e2ff"/>
<rect x="476.14" y="259.45" width="3.53" height="1.85" fill="#00e4ff"/>
<rect x="476.14" y="257.65" width="3.53" height="1.85" fill="#06fff9"/>
<rect x="476.14" y="255.86" width="3.53" height="1.85" fill="#1affe5"/>
<rect x="476.14" y="254.06" width="3.53" height="1.85" fill="#00faff"/>
<rect x="476.14" y="252.27" width="3.53" height="1.85" fill="#00e2ff"/>
<rect x="476.14" y="250.47" width="3.53" height="1.85" fill="#00cbff"/>
<rect x="476.14" y="248.68" width="3.53" height="1.85" fill="#00b2ff"/>
<rect x="476.14" y="246.88" width="3.53" height="1.85" fill="#00a3ff"/>
<rect x="476.14" y="245.09" width="3.53" height="1.85" fill="#00a5ff"/>
<rect x="476.14" y="243.29" width="3.53" height="1.85" fill="#00a1ff"/>
<rect x="476.14" y="241.50" width="3.53" height="1.85" fill="#0099ff"/>
<rect x="476.14" y="239.70" width="3.53" height="1.85" fill="#0093ff"/>
<rect x="476.14" y="237.91" width="3.53" height="1.85" fill="#0053ff"/>
<rect x="476.14" y="236.11" width="3.53" height="1.85" fill="#004fff"/>
<rect x="476.14" y="234.32" width="3.53" height="1.85" fill="#0092ff"/>
<rect x="476.14" y="232.52" width="3.53" height="1.85" fill="#00b4ff"/>
<rect x="476.14" y="230.73" width="3.53" height="1.85" fill="#00acff"/>
<rect x="476.14" y="228.93" width="3.53" height="1.85" fill="#00b5ff"/>
<rect x="479.62" y="275.60" width="3.53" height="2.59" fill="#007aff"/>
<rect x="479.62" y="273.81" width="3.53" height="1.85" fill="#007cff"/>
<rect x="479.62" y="272.01" width="3.53" height="1.85" fill="#006eff"/>
<rect x="479.62" y="270.22" width="3.53" height="1.85" fill="#0074ff"/>
<rect x="479.62" y="268.42" width="3.53" height="1.85" fill="#0075ff"/>
<rect x="479.62" y="266.63" width="3.53" height="1.85" fill="#007aff"/>
<rect x="479.62" y="264.83" width="3.53" height="1.85" fill="#00a2ff"/>
<rect x="479.62" y="263.04" width="3.53" height="1.85" fill="#00b1ff"/>
<rect x="479.62" y="261.25" width="3.53" height="1.85" fill="#00d2ff"/>
<rect x="479.62" y="259.45" width="3.53" height="1.85" fill="#10ffef"/>
<rect x="479.62" y="257.65" width="3.53" height="1.85" fill="#22ffdd"/>
<rect x="479.62" y="255.86" width="3.53" height="1.85" fill="#36ffc9"/>
<rect x="479.62" y="254.06" width="3.53" height="1.85" fill="#25ffda"/>
<rect x="479.62" y="252.27" width="3.53" height="1.85" fill="#07fff8"/>
<rect x="479.62" y="250.47" width="3.53" height="1.85" fill="#00d7ff"/>
<rect x="479.62" y="248.68" width="3.53" height="1.85" fill="#00c2ff"/>
<rect x="479.62" y="246.88" width="3.53" height="1.85" fill="#00afff"/>
<rect x="479.62" y="245.09" width="3.53" height="1.85" fill="#00a4ff"/>
<rect x="479.62" y="243.29" width="3.53" height="1.85" fill="#00a8ff"/>
<rect x="479.62" y="241.50" width="3.53" height="1.85" fill="#00a8ff"/>
<rect x="479.62" y="239.70" width="3.53" height="1.85" fill="#009eff"/>
<rect x="479.62" y="237.91" width="3.53" height="1.85" fill="#0073ff"/>
<rect x="479.62" y="236.11" width="3.53" height="1.85" fill="#0065ff"/>
<rect x="479.62" y="234.32" width="3.53" height="1.85" fill="#0089ff"/>
<rect x="479.62" y="232.52" width="3.53" height="1.85" fill="#0094ff"/>
<rect x="479.62" y="230.73" width="3.53" height="1.85" fill="#0081ff"/>
<rect x="479.62" y="228.93" width="3.53" height="1.85" fill="#007fff"/>
<rect x="483.10" y="275.60" width="3.53" height="2.59" fill="#0071ff"/>
<rect x="483.10" y="273.81" width="3.53" height="1.85" fill="#006cff"/>
<rect x="483.10" y="272.01" width="3.53" height="1.85" fill="#0059ff"/>
<rect x="483.10" y="270.22" width="3.53" height="1.85" fill="#0067ff"/>
<rect x="483.10" y="268.42" width="3.53" height="1.85" fill="#0069ff"/>
<rect x="483.10" y="266.63" width="3.53" height="1.85" fill="#0053ff"/>
<rect x="483.10" y="264.83" width="3.53" height="1.85" fill="#0088ff"/>
<rect x="483.10" y="263.04" width="3.53" height="1.85" fill="#00bdff"/>
<rect x="483.10" y="261.25" width="3.53" height="1.85" fill="#36ffc9"/>
<rect x="483.10" y="259.45" width="3.53" height="1.85" fill="#76ff89"/>
<rect x="483.10" y="257.65" width="3.53" height="1.85" fill="#47ffb8"/>
<rect x="483.10" y="255.86" width="3.53" height="1.85" fill="#49ffb6"/>
<rect x="483.10" y="254.06" width="3.53" height="1.85" fill="#45ffba"/>
<rect x="483.10" y="252.27" width="3.53" height="1.85" fill="#28ffd7"/>
<rect x="483.10" y="250.47" width="3.53" height="1.85" fill="#00fcff"/>
<rect x="483.10" y="248.68" width="3.53" height="1.85" fill="#00e4ff"/>
<rect x="483.10" y="246.88" width="3.53" height="1.85" fill="#00dbff"/>
<rect x="483.10" y="245.09" width="3.53" height="1.85" fill="#00e0ff"/>
<rect x="483.10" y="243.29" width="3.53" height="1.85" fill="#11ffee"/>
<rect x="483.10" y="241.50" width="3.53" height="1.85" fill="#35ffca"/>
<rect x="483.10" y="239.70" width="3.53" height="1.85" fill="#0bfff4"/>
<rect x="483.10" y="237.91" width="3.53" height="1.85" fill="#00c8ff"/>
<rect x="483.10" y="236.11" width="3.53" height="1.85" fill="#0088ff"/>
<rect x="483.10" y="234.32" width="3.53" height="1.85" fill="#0084ff"/>
<rect x="483.10" y="232.52" width="3.53" height="1.85" fill="#008aff"/>
<rect x="483.10" y="230.73" width="3.53" height="1.85" fill="#0086ff"/>
<rect x="483.10" y="228.93" width="3.53" height="1.85" fill="#0066ff"/>
<rect x="483.10" y="227.14" width="3.53" height="1.85" fill="#001dff"/>
<rect x="483.10" y="225.34" width="3.53" height="1.85" fill="#0000d4"/>
<rect x="483.10" y="223.55" width="3.53" height="1.85" fill="#0000c3"/>
<rect x="483.10" y="221.75" width="3.53" height="1.85" fill="#0000e5"/>
<rect x="486.58" y="275.60" width="3.53" height="2.59" fill="#0060ff"/>
<rect x="486.58" y="273.81" width="3.53" height="1.85" fill="#005fff"/>
<rect x="486.58" y="272.01" width="3.53" height="1.85" fill="#0045ff"/>
<rect x="486.58" y="270.22" width="3.53" height="1.85" fill="#0066ff"/>
<rect x="486.58" y="268.42" width="3.53" height="1.85" fill="#0065ff"/>
<rect x="486.58" y="266.63" width="3.53" height="1.85" fill="#0043ff"/>
<rect x="486.58" y="264.83" width="3.53" height="1.85" fill="#0075ff"/>
<rect x="486.58" y="263.04" width="3.53" height="1.85" fill="#00bdff"/>
<rect x="486.58" y="261.25" width="3.53" height="1.85" fill="#2affd5"/>
<rect x="486.58" y="259.45" width="3.53" height="1.85" fill="#5dffa2"/>
<rect x="486.58" y="257.65" width="3.53" height="1.85" fill="#2effd1"/>
<rect x="486.58" y="255.86" width="3.53" height="1.85" fill="#3cffc3"/>
<rect x="486.58" y="254.06" width="3.53" height="1.85" fill="#3cffc3"/>
<rect x="486.58" y="252.27" width="3.53" height="1.85" fill="#1bffe4"/>
<rect x="486.58" y="250.47" width="3.53" height="1.85" fill="#01fffe"/>
<rect x="486.58" y="248.68" width="3.53" height="1.85" fill="#00ecff"/>
<rect x="486.58" y="246.88" width="3.53" height="1.85" fill="#00f0ff"/>
<rect x="486.58" y="245.09" width="3.53" height="1.85" fill="#00fbff"/>
<rect x="486.58" y="243.29" width="3.53" height="1.85" fill="#49ffb6"/>
<rect x="486.58" y="241.50" width="3.53" height="1.85" fill="#8fff70"/>
<rect x="486.58" y="239.70" width="3.53" height="1.85" fill="#6bff94"/>
<rect x="486.58" y="237.91" width="3.53" height="1.85" fill="#00ffff"/>
<rect x="486.58" y="236.11" width="3.53" height="1.85" fill="#0090ff"/>
<rect x="486.58" y="234.32" width="3.53" height="1.85" fill="#0080ff"/>
<rect x="486.58" y="232.52" width="3.53" height="1.85" fill="#0091ff"/>
<rect x="486.58" y="230.73" width="3.53" height="1.85" fill="#009cff"/>
<rect x="486.58" y="228.93" width="3.53" height="1.85" fill="#0078ff"/>
<rect x="486.58" y="227.14" width="3.53" height="1.85" fill="#001dff"/>
<rect x="486.58" y="225.34" width="3.53" height="1.85" fill="#0000c7"/>
<rect x="486.58" y="223.55" width="3.53" height="1.85" fill="#0000b6"/>
<rect x="486.58" y="221.75" width="3.53" height="1.85" fill="#0000cb"/>
<rect x="490.06" y="275.60" width="3.53" height="2.59" fill="#0052ff"/>
<rect x="490.06" y="273.81" width="3.53" height="1.85" fill="#0059ff"/>
<rect x="490.06" y="272.01" width="3.53" height="1.85" fill="#003fff"/>
<rect x="490.06" y="270.22" width="3.53" height="1.85" fill="#005bff"/>
<rect x="490.06" y="268.42" width="3.53" height="1.85" fill="#0055ff"/>
<rect x="490.06" y="266.63" width="3.53" height="1.85" fill="#0045ff"/>
<rect x="490.06" y="264.83" width="3.53" height="1.85" fill="#0057ff"/>
<rect x="490.06" y="263.04" width="3.53" height="1.85" fill="#008dff"/>
<rect x="490.06" y="261.25" width="3.53" height="1.85" fill="#00e8ff"/>
<rect x="490.06" y="259.45" width="3.53" height="1.85" fill="#1effe1"/>
<rect x="490.06" y="257.65" width="3.53" height="1.85" fill="#0dfff2"/>
<rect x="490.06" y="255.86" width="3.53" height="1.85" fill="#1fffe0"/>
<rect x="490.06" y="254.06" width="3.53" height="1.85" fill="#09fff6"/>
<rect x="490.06" y="252.27" width="3.53" height="1.85" fill="#00eaff"/>
<rect x="490.06" y="250.47" width="3.53" height="1.85" fill="#00ebff"/>
<rect x="490.06" y="248.68" width="3.53" height="1.85" fill="#00e2ff"/>
<rect x="490.06" y="246.88" width="3.53" height="1.85" fill="#00e6ff"/>
<rect x="490.06" y="245.09" width="3.53" height="1.85" fill="#00dbff"/>
<rect x="490.06" y="243.29" width="3.53" height="1.85" fill="#00fdff"/>
<rect x="490.06" y="241.50" width="3.53" height="1.85" fill="#24ffdb"/>
<rect x="490.06" y="239.70" width="3.53" height="1.85" fill="#00ffff"/>
<rect x="490.06" y="237.91" width="3.53" height="1.85" fill="#00b3ff"/>
<rect x="490.06" y="236.11" width="3.53" height="1.85" fill="#0072ff"/>
<rect x="490.06" y="234.32" width="3.53" height="1.85" fill="#007aff"/>
<rect x="490.06" y="232.52" width="3.53" height="1.85" fill="#0089ff"/>
<rect x="490.06" y="230.73" width="3.53" height="1.85" fill="#009aff"/>
<rect x="490.06" y="228.93" width="3.53" height="1.85" fill="#0084ff"/>
<rect x="490.06" y="227.14" width="3.53" height="1.85" fill="#0058ff"/>
<rect x="490.06" y="225.34" width="3.53" height="1.85" fill="#0020ff"/>
<rect x="490.06" y="223.55" width="3.53" height="1.85" fill="#0014ff"/>
<rect x="490.06" y="219.96" width="3.53" height="1.85" fill="#0021ff"/>
<rect x="490.06" y="218.16" width="3.53" height="1.85" fill="#001dff"/>
<rect x="493.54" y="275.60" width="3.53" height="2.59" fill="#0061ff"/>
<rect x="493.54" y="273.81" width="3.53" height="1.85" fill="#005cff"/>
<rect x="493.54" y="272.01" width="3.53" height="1.85" fill="#0043ff"/>
<rect x="493.54" y="270.22" width="3.53" height="1.85" fill="#004cff"/>
<rect x="493.54" y="268.42" width="3.53" height="1.85" fill="#0040ff"/>
<rect x="493.54" y="266.63" width="3.53" height="1.85" fill="#0045ff"/>
<rect x="493.54" y="264.83" width="3.53" height="1.85" fill="#0040ff"/>
<rect x="493.54" y="263.04" width="3.53" height="1.85" fill="#004aff"/>
<rect x="493.54" y="261.25" width="3.53" height="1.85" fill="#00abff"/>
<rect x="493.54" y="259.45" width="3.53" height="1.85" fill="#00d9ff"/>
<rect x="493.54" y="257.65" width="3.53" height="1.85" fill="#00d8ff"/>
<rect x="493.54" y="255.86" width="3.53" height="1.85" fill="#00deff"/>
<rect x="493.54" y="254.06" width="3.53" height="1.85" fill="#00b7ff"/>
<rect x="493.54" y="252.27" width="3.53" height="1.85" fill="#00c8ff"/>
<rect x="493.54" y="250.47" width="3.53" height="1.85" fill="#00d8ff"/>
<rect x="493.54" y="248.68" width="3.53" height="1.85" fill="#00d7ff"/>
<rect x="493.54" y="246.88" width="3.53" height="1.85" fill="#00c9ff"/>
<rect x="493.54" y="245.09" width="3.53" height="1.85" fill="#009fff"/>
<rect x="493.54" y="243.29" width="3.53" height="1.85" fill="#0082ff"/>
<rect x="493.54" y="241.50" width="3.53" height="1.85" fill="#0087ff"/>
<rect x="493.54" y="239.70" width="3.53" height="1.85" fill="#007dff"/>
<rect x="493.54" y="237.91" width="3.53" height="1.85" fill="#0067ff"/>
<rect x="493.54" y="236.11" width="3.53" height="1.85" fill="#005bff"/>
<rect x="493.54" y="234.32" width="3.53" height="1.85" fill="#0072ff"/>
<rect x="493.54" y="232.52" width="3.53" height="1.85" fill="#0077ff"/>
<rect x="493.54" y="230.73" width="3.53" height="1.85" fill="#0080ff"/>
<rect x="493.54" y="228.93" width="3.53" height="1.85" fill="#0078ff"/>
<rect x="493.54" y="227.14" width="3.53" height="1.85" fill="#0062ff"/>
<rect x="493.54" y="218.16" width="3.53" height="1.85" fill="#0025ff"/>
<rect x="497.02" y="275.60" width="3.53" height="2.59" fill="#0070ff"/>
<rect x="497.02" y="273.81" width="3.53" height="1.85" fill="#005eff"/>
<rect x="497.02" y="272.01" width="3.53" height="1.85" fill="#0047ff"/>
<rect x="497.02" y="270.22" width="3.53" height="1.85" fill="#0051ff"/>
<rect x="497.02" y="268.42" width="3.53" height="1.85" fill="#004cff"/>
<rect x="497.02" y="266.63" width="3.53" height="1.85" fill="#003aff"/>
<rect x="497.02" y="264.83" width="3.53" height="1.85" fill="#0025ff"/>
<rect x="497.02" y="263.04" width="3.53" height="1.85" fill="#001dff"/>
<rect x="497.02" y="261.25" width="3.53" height="1.85" fill="#0068ff"/>
<rect x="497.02" y="259.45" width="3.53" height="1.85" fill="#0094ff"/>
<rect x="497.02" y="257.65" width="3.53" height="1.85" fill="#009aff"/>
<rect x="497.02" y="255.86" width="3.53" height="1.85" fill="#00a8ff"/>
<rect x="497.02" y="254.06" width="3.53" height="1.85" fill="#0077ff"/>
<rect x="497.02" y="252.27" width="3.53" height="1.85" fill="#00b4ff"/>
<rect x="497.02" y="250.47" width="3.53" height="1.85" fill="#00efff"/>
<rect x="497.02" y="248.68" width="3.53" height="1.85" fill="#00efff"/>
<rect x="497.02" y="246.88" width="3.53" height="1.85" fill="#00bbff"/>
<rect x="497.02" y="245.09" width="3.53" height="1.85" fill="#0075ff"/>
<rect x="497.02" y="243.29" width="3.53" height="1.85" fill="#003fff"/>
<rect x="497.02" y="241.50" width="3.53" height="1.85" fill="#005aff"/>
<rect x="497.02" y="239.70" width="3.53" height="1.85" fill="#0063ff"/>
<rect x="497.02" y="237.91" width="3.53" height="1.85" fill="#0058ff"/>
<rect x="497.02" y="236.11" width="3.53" height="1.85" fill="#0050ff"/>
<rect x="497.02" y="234.32" width="3.53" height="1.85" fill="#0061ff"/>
<rect x="497.02" y="232.52" width="3.53" height="1.85" fill="#0066ff"/>
<rect x="497.02" y="230.73" width="3.53" height="1.85" fill="#0069ff"/>
<rect x="497.02" y="228.93" width="3.53" height="1.85" fill="#006cff"/>
<rect x="497.02" y="227.14" width="3.53" height="1.85" fill="#0049ff"/>
<rect x="497.02" y="219.96" width="3.53" height="1.85" fill="#0090ff"/>
<rect x="500.50" y="275.60" width="3.53" height="2.59" fill="#0062ff"/>
<rect x="500.50" y="273.81" width="3.53" height="1.85" fill="#005cff"/>
<rect x="500.50" y="272.01" width="3.53" height="1.85" fill="#004bff"/>
<rect x="500.50" y="270.22" width="3.53" height="1.85" fill="#005bff"/>
<rect x="500.50" y="268.42" width="3.53" height="1.85" fill="#0065ff"/>
<rect x="500.50" y="266.63" width="3.53" height="1.85" fill="#0033ff"/>
<rect x="500.50" y="264.83" width="3.53" height="1.85" fill="#001eff"/>
<rect x="500.50" y="263.04" width="3.53" height="1.85" fill="#001dff"/>
<rect x="500.50" y="261.25" width="3.53" height="1.85" fill="#0049ff"/>
<rect x="500.50" y="259.45" width="3.53" height="1.85" fill="#0070ff"/>
<rect x="500.50" y="257.65" width="3.53" height="1.85" fill="#0075ff"/>
<rect x="500.50" y="255.86" width="3.53" height="1.85" fill="#00afff"/>
<rect x="500.50" y="254.06" width="3.53" height="1.85" fill="#0072ff"/>
<rect x="500.50" y="252.27" width="3.53" height="1.85" fill="#00b1ff"/>
<rect x="500.50" y="250.47" width="3.53" height="1.85" fill="#2dffd2"/>
<rect x="500.50" y="248.68" width="3.53" height="1.85" fill="#31ffce"/>
<rect x="500.50" y="246.88" width="3.53" height="1.85" fill="#00d4ff"/>
<rect x="500.50" y="245.09" width="3.53" height="1.85" fill="#0079ff"/>
<rect x="500.50" y="243.29" width="3.53" height="1.85" fill="#0030ff"/>
<rect x="500.50" y="241.50" width="3.53" height="1.85" fill="#0046ff"/>
<rect x="500.50" y="239.70" width="3.53" height="1.85" fill="#0053ff"/>
<rect x="500.50" y="237.91" width="3.53" height="1.85" fill="#0054ff"/>
<rect x="500.50" y="236.11" width="3.53" height="1.85" fill="#005fff"/>
<rect x="500.50" y="234.32" width="3.53" height="1.85" fill="#005cff"/>
<rect x="500.50" y="232.52" width="3.53" height="1.85" fill="#0053ff"/>
<rect x="500.50" y="230.73" width="3.53" height="1.85" fill="#0050ff"/>
<rect x="500.50" y="228.93" width="3.53" height="1.85" fill="#005aff"/>
<rect x="500.50" y="227.14" width="3.53" height="1.85" fill="#001eff"/>
<rect x="500.50" y="225.34" width="3.53" height="1.85" fill="#0000e9"/>
<rect x="500.50" y="223.55" width="3.53" height="1.85" fill="#0000d4"/>
<rect x="500.50" y="221.75" width="3.53" height="1.85" fill="#0000df"/>
<rect x="500.50" y="219.96" width="3.53" height="1.85" fill="#00c8ff"/>
<rect x="503.98" y="275.60" width="3.53" height="2.59" fill="#004dff"/>
<rect x="503.98" y="273.81" width="3.53" height="1.85" fill="#0063ff"/>
<rect x="503.98" y="272.01" width="3.53" height="1.85" fill="#005fff"/>
<rect x="503.98" y="270.22" width="3.53" height="1.85" fill="#0067ff"/>
<rect x="503.98" y="268.42" width="3.53" height="1.85" fill="#0073ff"/>
<rect x="503.98" y="266.63" width="3.53" height="1.85" fill="#0037ff"/>
<rect x="503.98" y="264.83" width="3.53" height="1.85" fill="#0032ff"/>
<rect x="503.98" y="263.04" width="3.53" height="1.85" fill="#003cff"/>
<rect x="503.98" y="261.25" width="3.53" height="1.85" fill="#0041ff"/>
<rect x="503.98" y="259.45" width="3.53" height="1.85" fill="#0057ff"/>
<rect x="503.98" y="257.65" width="3.53" height="1.85" fill="#0061ff"/>
<rect x="503.98" y="255.86" width="3.53" height="1.85" fill="#00b8ff"/>
<rect x="503.98" y="254.06" width="3.53" height="1.85" fill="#0093ff"/>
<rect x="503.98" y="252.27" width="3.53" height="1.85" fill="#00bdff"/>
<rect x="503.98" y="250.47" width="3.53" height="1.85" fill="#59ffa6"/>
<rect x="503.98" y="248.68" width="3.53" height="1.85" fill="#67ff98"/>
<rect x="503.98" y="246.88" width="3.53" height="1.85" fill="#00f2ff"/>
<rect x="503.98" y="245.09" width="3.53" height="1.85" fill="#0088ff"/>
<rect x="503.98" y="243.29" width="3.53" height="1.85" fill="#0031ff"/>
<rect x="503.98" y="241.50" width="3.53" height="1.85" fill="#0030ff"/>
<rect x="503.98" y="239.70" width="3.53" height="1.85" fill="#0045ff"/>
<rect x="503.98" y="237.91" width="3.53" height="1.85" fill="#007eff"/>
<rect x="503.98" y="236.11" width="3.53" height="1.85" fill="#00a1ff"/>
<rect x="503.98" y="234.32" width="3.53" height="1.85" fill="#008eff"/>
<rect x="503.98" y="232.52" width="3.53" height="1.85" fill="#005bff"/>
<rect x="503.98" y="230.73" width="3.53" height="1.85" fill="#003aff"/>
<rect x="503.98" y="228.93" width="3.53" height="1.85" fill="#003cff"/>
<rect x="503.98" y="227.14" width="3.53" height="1.85" fill="#0003ff"/>
<rect x="503.98" y="225.34" width="3.53" height="1.85" fill="#0000c3"/>
<rect x="503.98" y="223.55" width="3.53" height="1.85" fill="#0000bb"/>
<rect x="503.98" y="221.75" width="3.53" height="1.85" fill="#0000d6"/>
<rect x="503.98" y="219.96" width="3.53" height="1.85" fill="#00a1ff"/>
<rect x="507.46" y="275.60" width="3.53" height="2.59" fill="#0043ff"/>
<rect x="507.46" y="273.81" width="3.53" height="1.85" fill="#0068ff"/>
<rect x="507.46" y="272.01" width="3.53" height="1.85" fill="#0076ff"/>
<rect x="507.46" y="270.22" width="3.53" height="1.85" fill="#007eff"/>
<rect x="507.46" y="268.42" width="3.53" height="1.85" fill="#0075ff"/>
<rect x="507.46" y="266.63" width="3.53" height="1.85" fill="#0035ff"/>
<rect x="507.46" y="264.83" width="3.53" height="1.85" fill="#004bff"/>
<rect x="507.46" y="263.04" width="3.53" height="1.85" fill="#005cff"/>
<rect x="507.46" y="261.25" width="3.53" height="1.85" fill="#004cff"/>
<rect x="507.46" y="259.45" width="3.53" height="1.85" fill="#0052ff"/>
<rect x="507.46" y="257.65" width="3.53" height="1.85" fill="#005bff"/>
<rect x="507.46" y="255.86" width="3.53" height="1.85" fill="#009fff"/>
<rect x="507.46" y="254.06" width="3.53" height="1.85" fill="#00a0ff"/>
<rect x="507.46" y="252.27" width="3.53" height="1.85" fill="#00d1ff"/>
<rect x="507.46" y="250.47" width="3.53" height="1.85" fill="#54ffab"/>
<rect x="507.46" y="248.68" width="3.53" height="1.85" fill="#61ff9e"/>
<rect x="507.46" y="246.88" width="3.53" height="1.85" fill="#00e9ff"/>
<rect x="507.46" y="245.09" width="3.53" height="1.85" fill="#007aff"/>
<rect x="507.46" y="243.29" width="3.53" height="1.85" fill="#003aff"/>
<rect x="507.46" y="241.50" width="3.53" height="1.85" fill="#0022ff"/>
<rect x="507.46" y="239.70" width="3.53" height="1.85" fill="#003dff"/>
<rect x="507.46" y="237.91" width="3.53" height="1.85" fill="#00a2ff"/>
<rect x="507.46" y="236.11" width="3.53" height="1.85" fill="#00c9ff"/>
<rect x="507.46" y="234.32" width="3.53" height="1.85" fill="#00b8ff"/>
<rect x="507.46" y="232.52" width="3.53" height="1.85" fill="#006dff"/>
<rect x="507.46" y="230.73" width="3.53" height="1.85" fill="#0038ff"/>
<rect x="507.46" y="228.93" width="3.53" height="1.85" fill="#0028ff"/>
<rect x="507.46" y="227.14" width="3.53" height="1.85" fill="#0009ff"/>
<rect x="507.46" y="225.34" width="3.53" height="1.85" fill="#0000db"/>
<rect x="507.46" y="223.55" width="3.53" height="1.85" fill="#0000d9"/>
<rect x="510.94" y="275.60" width="3.53" height="2.59" fill="#0034ff"/>
<rect x="510.94" y="273.81" width="3.53" height="1.85" fill="#004aff"/>
<rect x="510.94" y="272.01" width="3.53" height="1.85" fill="#0079ff"/>
<rect x="510.94" y="270.22" width="3.53" height="1.85" fill="#009fff"/>
<rect x="510.94" y="268.42" width="3.53" height="1.85" fill="#007fff"/>
<rect x="510.94" y="266.63" width="3.53" height="1.85" fill="#0025ff"/>
<rect x="510.94" y="264.83" width="3.53" height="1.85" fill="#0049ff"/>
<rect x="510.94" y="263.04" width="3.53" height="1.85" fill="#0066ff"/>
<rect x="510.94" y="261.25" width="3.53" height="1.85" fill="#005aff"/>
<rect x="510.94" y="259.45" width="3.53" height="1.85" fill="#0067ff"/>
<rect x="510.94" y="257.65" width="3.53" height="1.85" fill="#005fff"/>
<rect x="510.94" y="255.86" width="3.53" height="1.85" fill="#0078ff"/>
<rect x="510.94" y="254.06" width="3.53" height="1.85" fill="#00a1ff"/>
<rect x="510.94" y="252.27" width="3.53" height="1.85" fill="#00d4ff"/>
<rect x="510.94" y="250.47" width="3.53" height="1.85" fill="#35ffca"/>
<rect x="510.94" y="248.68" width="3.53" height="1.85" fill="#31ffce"/>
<rect x="510.94" y="246.88" width="3.53" height="1.85" fill="#00c6ff"/>
<rect x="510.94" y="245.09" width="3.53" height="1.85" fill="#006aff"/>
<rect x="510.94" y="243.29" width="3.53" height="1.85" fill="#0042ff"/>
<rect x="510.94" y="241.50" width="3.53" height="1.85" fill="#000bff"/>
<rect x="510.94" y="239.70" width="3.53" height="1.85" fill="#0020ff"/>
<rect x="510.94" y="237.91" width="3.53" height="1.85" fill="#0082ff"/>
<rect x="510.94" y="236.11" width="3.53" height="1.85" fill="#00a3ff"/>
<rect x="510.94" y="234.32" width="3.53" height="1.85" fill="#00a0ff"/>
<rect x="510.94" y="232.52" width="3.53" height="1.85" fill="#0066ff"/>
<rect x="510.94" y="230.73" width="3.53" height="1.85" fill="#003fff"/>
<rect x="510.94" y="228.93" width="3.53" height="1.85" fill="#001eff"/>
<rect x="514.42" y="275.60" width="3.53" height="2.59" fill="#0014ff"/>
<rect x="514.42" y="273.81" width="3.53" height="1.85" fill="#001dff"/>
<rect x="514.42" y="272.01" width="3.53" height="1.85" fill="#006fff"/>
<rect x="514.42" y="270.22" width="3.53" height="1.85" fill="#00a7ff"/>
<rect x="514.42" y="268.42" width="3.53" height="1.85" fill="#0085ff"/>
<rect x="514.42" y="266.63" width="3.53" height="1.85" fill="#002cff"/>
<rect x="514.42" y="264.83" width="3.53" height="1.85" fill="#0044ff"/>
<rect x="514.42" y="263.04" width="3.53" height="1.85" fill="#0062ff"/>
<rect x="514.42" y="261.25" width="3.53" height="1.85" fill="#005fff"/>
<rect x="514.42" y="259.45" width="3.53" height="1.85" fill="#006bff"/>
<rect x="514.42" y="257.65" width="3.53" height="1.85" fill="#005bff"/>
<rect x="514.42" y="255.86" width="3.53" height="1.85" fill="#007eff"/>
<rect x="514.42" y="254.06" width="3.53" height="1.85" fill="#00a5ff"/>
<rect x="514.42" y="252.27" width="3.53" height="1.85" fill="#00c8ff"/>
<rect x="514.42" y="250.47" width="3.53" height="1.85" fill="#0ffff0"/>
<rect x="514.42" y="248.68" width="3.53" height="1.85" fill="#00fbff"/>
<rect x="514.42" y="246.88" width="3.53" height="1.85" fill="#00a3ff"/>
<rect x="514.42" y="245.09" width="3.53" height="1.85" fill="#006dff"/>
<rect x="514.42" y="243.29" width="3.53" height="1.85" fill="#0040ff"/>
<rect x="514.42" y="241.50" width="3.53" height="1.85" fill="#0000ef"/>
<rect x="514.42" y="239.70" width="3.53" height="1.85" fill="#0000ed"/>
<rect x="514.42" y="237.91" width="3.53" height="1.85" fill="#0032ff"/>
<rect x="514.42" y="236.11" width="3.53" height="1.85" fill="#004fff"/>
<rect x="514.42" y="234.32" width="3.53" height="1.85" fill="#0059ff"/>
<rect x="514.42" y="232.52" width="3.53" height="1.85" fill="#0039ff"/>
<rect x="514.42" y="230.73" width="3.53" height="1.85" fill="#0028ff"/>
<rect x="517.90" y="275.60" width="3.53" height="2.59" fill="#0000f8"/>
<rect x="517.90" y="273.81" width="3.53" height="1.85" fill="#0000f7"/>
<rect x="517.90" y="272.01" width="3.53" height="1.85" fill="#0053ff"/>
<rect x="517.90" y="270.22" width="3.53" height="1.85" fill="#0093ff"/>
<rect x="517.90" y="268.42" width="3.53" height="1.85" fill="#007dff"/>
<rect x="517.90" y="266.63" width="3.53" height="1.85" fill="#003eff"/>
<rect x="517.90" y="264.83" width="3.53" height="1.85" fill="#0046ff"/>
<rect x="517.90" y="263.04" width="3.53" height="1.85" fill="#0052ff"/>
<rect x="517.90" y="261.25" width="3.53" height="1.85" fill="#0054ff"/>
<rect x="517.90" y="259.45" width="3.53" height="1.85" fill="#005eff"/>
<rect x="517.90" y="257.65" width="3.53" height="1.85" fill="#0052ff"/>
<rect x="517.90" y="255.86" width="3.53" height="1.85" fill="#0087ff"/>
<rect x="517.90" y="254.06" width="3.53" height="1.85" fill="#00a0ff"/>
<rect x="517.90" y="252.27" width="3.53" height="1.85" fill="#00baff"/>
<rect x="517.90" y="250.47" width="3.53" height="1.85" fill="#00ecff"/>
<rect x="517.90" y="248.68" width="3.53" height="1.85" fill="#00d3ff"/>
<rect x="517.90" y="246.88" width="3.53" height="1.85" fill="#0086ff"/>
<rect x="517.90" y="245.09" width="3.53" height="1.85" fill="#006eff"/>
<rect x="517.90" y="243.29" width="3.53" height="1.85" fill="#0040ff"/>
<rect x="517.90" y="241.50" width="3.53" height="1.85" fill="#0000e8"/>
<rect x="517.90" y="239.70" width="3.53" height="1.85" fill="#0000c8"/>
<rect x="517.90" y="237.91" width="3.53" height="1.85" fill="#0000f7"/>
<rect x="517.90" y="236.11" width="3.53" height="1.85" fill="#001eff"/>
<rect x="517.90" y="234.32" width="3.53" height="1.85" fill="#0022ff"/>
<rect x="517.90" y="232.52" width="3.53" height="1.85" fill="#000fff"/>
<rect x="517.90" y="230.73" width="3.53" height="1.85" fill="#0000fc"/>
<rect x="517.90" y="228.93" width="3.53" height="1.85" fill="#0000e5"/>
<rect x="517.90" y="227.14" width="3.53" height="1.85" fill="#0000d3"/>
<rect x="521.38" y="275.60" width="3.53" height="2.59" fill="#0000ec"/>
<rect x="521.38" y="273.81" width="3.53" height="1.85" fill="#0000e7"/>
<rect x="521.38" y="272.01" width="3.53" height="1.85" fill="#0039ff"/>
<rect x="521.38" y="270.22" width="3.53" height="1.85" fill="#0083ff"/>
<rect x="521.38" y="268.42" width="3.53" height="1.85" fill="#005fff"/>
<rect x="521.38" y="266.63" width="3.53" height="1.85" fill="#0033ff"/>
<rect x="521.38" y="264.83" width="3.53" height="1.85" fill="#0040ff"/>
<rect x="521.38" y="263.04" width="3.53" height="1.85" fill="#004cff"/>
<rect x="521.38" y="261.25" width="3.53" height="1.85" fill="#0050ff"/>
<rect x="521.38" y="259.45" width="3.53" height="1.85" fill="#005dff"/>
<rect x="521.38" y="257.65" width="3.53" height="1.85" fill="#005fff"/>
<rect x="521.38" y="255.86" width="3.53" height="1.85" fill="#007dff"/>
<rect x="521.38" y="254.06" width="3.53" height="1.85" fill="#008fff"/>
<rect x="521.38" y="252.27" width="3.53" height="1.85" fill="#00b0ff"/>
<rect x="521.38" y="250.47" width="3.53" height="1.85" fill="#00ceff"/>
<rect x="521.38" y="248.68" width="3.53" height="1.85" fill="#00b4ff"/>
<rect x="521.38" y="246.88" width="3.53" height="1.85" fill="#007cff"/>
<rect x="521.38" y="245.09" width="3.53" height="1.85" fill="#0063ff"/>
<rect x="521.38" y="243.29" width="3.53" height="1.85" fill="#0042ff"/>
<rect x="521.38" y="241.50" width="3.53" height="1.85" fill="#0000f9"/>
<rect x="521.38" y="239.70" width="3.53" height="1.85" fill="#0000c1"/>
<rect x="521.38" y="237.91" width="3.53" height="1.85" fill="#0000e2"/>
<rect x="521.38" y="236.11" width="3.53" height="1.85" fill="#0011ff"/>
<rect x="521.38" y="234.32" width="3.53" height="1.85" fill="#0015ff"/>
<rect x="521.38" y="232.52" width="3.53" height="1.85" fill="#0007ff"/>
<rect x="521.38" y="230.73" width="3.53" height="1.85" fill="#0000f0"/>
<rect x="521.38" y="228.93" width="3.53" height="1.85" fill="#0000d8"/>
<rect x="521.38" y="227.14" width="3.53" height="1.85" fill="#0000c8"/>
<rect x="521.38" y="225.34" width="3.53" height="1.85" fill="#0000c9"/>
<rect x="524.86" y="275.60" width="3.53" height="2.59" fill="#0000e3"/>
<rect x="524.86" y="273.81" width="3.53" height="1.85" fill="#0000f4"/>
<rect x="524.86" y="272.01" width="3.53" height="1.85" fill="#0042ff"/>
<rect x="524.86" y="270.22" width="3.53" height="1.85" fill="#007bff"/>
<rect x="524.86" y="268.42" width="3.53" height="1.85" fill="#0059ff"/>
<rect x="524.86" y="266.63" width="3.53" height="1.85" fill="#002dff"/>
<rect x="524.86" y="264.83" width="3.53" height="1.85" fill="#002fff"/>
<rect x="524.86" y="263.04" width="3.53" height="1.85" fill="#004aff"/>
<rect x="524.86" y="261.25" width="3.53" height="1.85" fill="#0057ff"/>
<rect x="524.86" y="259.45" width="3.53" height="1.85" fill="#0054ff"/>
<rect x="524.86" y="257.65" width="3.53" height="1.85" fill="#0069ff"/>
<rect x="524.86" y="255.86" width="3.53" height="1.85" fill="#0075ff"/>
<rect x="524.86" y="254.06" width="3.53" height="1.85" fill="#0085ff"/>
<rect x="524.86" y="252.27" width="3.53" height="1.85" fill="#00a5ff"/>
<rect x="524.86" y="250.47" width="3.53" height="1.85" fill="#00b4ff"/>
<rect x="524.86" y="248.68" width="3.53" height="1.85" fill="#009aff"/>
<rect x="524.86" y="246.88" width="3.53" height="1.85" fill="#0075ff"/>
<rect x="524.86" y="245.09" width="3.53" height="1.85" fill="#005bff"/>
<rect x="524.86" y="243.29" width="3.53" height="1.85" fill="#0035ff"/>
<rect x="524.86" y="241.50" width="3.53" height="1.85" fill="#0001ff"/>
<rect x="524.86" y="239.70" width="3.53" height="1.85" fill="#0000d4"/>
<rect x="524.86" y="237.91" width="3.53" height="1.85" fill="#0000e1"/>
<rect x="524.86" y="236.11" width="3.53" height="1.85" fill="#0010ff"/>
<rect x="524.86" y="234.32" width="3.53" height="1.85" fill="#000bff"/>
<rect x="524.86" y="232.52" width="3.53" height="1.85" fill="#0003ff"/>
<rect x="524.86" y="230.73" width="3.53" height="1.85" fill="#0000f7"/>
<rect x="524.86" y="228.93" width="3.53" height="1.85" fill="#0000e3"/>
<rect x="524.86" y="227.14" width="3.53" height="1.85" fill="#0000ca"/>
<rect x="524.86" y="225.34" width="3.53" height="1.85" fill="#0000c9"/>
<rect x="528.34" y="275.60" width="3.53" height="2.59" fill="#0000dc"/>
<rect x="528.34" y="273.81" width="3.53" height="1.85" fill="#0001ff"/>
<rect x="528.34" y="272.01" width="3.53" height="1.85" fill="#003fff"/>
<rect x="528.34" y="270.22" width="3.53" height="1.85" fill="#0074ff"/>
<rect x="528.34" y="268.42" width="3.53" height="1.85" fill="#005fff"/>
<rect x="528.34" y="266.63" width="3.53" height="1.85" fill="#003eff"/>
<rect x="528.34" y="264.83" width="3.53" height="1.85" fill="#002eff"/>
<rect x="528.34" y="263.04" width="3.53" height="1.85" fill="#004cff"/>
<rect x="528.34" y="261.25" width="3.53" height="1.85" fill="#0057ff"/>
<rect x="528.34" y="259.45" width="3.53" height="1.85" fill="#0043ff"/>
<rect x="528.34" y="257.65" width="3.53" height="1.85" fill="#0053ff"/>
<rect x="528.34" y="255.86" width="3.53" height="1.85" fill="#0054ff"/>
<rect x="528.34" y="254.06" width="3.53" height="1.85" fill="#007eff"/>
<rect x="528.34" y="252.27" width="3.53" height="1.85" fill="#009fff"/>
<rect x="528.34" y="250.47" width="3.53" height="1.85" fill="#0097ff"/>
<rect x="528.34" y="248.68" width="3.53" height="1.85" fill="#007fff"/>
<rect x="528.34" y="246.88" width="3.53" height="1.85" fill="#0065ff"/>
<rect x="528.34" y="245.09" width="3.53" height="1.85" fill="#0051ff"/>
<rect x="528.34" y="243.29" width="3.53" height="1.85" fill="#0023ff"/>
<rect x="528.34" y="241.50" width="3.53" height="1.85" fill="#0000f7"/>
<rect x="528.34" y="239.70" width="3.53" height="1.85" fill="#0000df"/>
<rect x="528.34" y="237.91" width="3.53" height="1.85" fill="#0000eb"/>
<rect x="528.34" y="236.11" width="3.53" height="1.85" fill="#0005ff"/>
<rect x="528.34" y="234.32" width="3.53" height="1.85" fill="#0000fa"/>
<rect x="528.34" y="232.52" width="3.53" height="1.85" fill="#0000fb"/>
<rect x="528.34" y="230.73" width="3.53" height="1.85" fill="#0000f9"/>
<rect x="528.34" y="228.93" width="3.53" height="1.85" fill="#0000ec"/>
<rect x="528.34" y="227.14" width="3.53" height="1.85" fill="#0000d6"/>
<rect x="531.82" y="275.60" width="3.53" height="2.59" fill="#0000ef"/>
<rect x="531.82" y="273.81" width="3.53" height="1.85" fill="#0015ff"/>
<rect x="531.82" y="272.01" width="3.53" height="1.85" fill="#0032ff"/>
<rect x="531.82" y="270.22" width="3.53" height="1.85" fill="#006eff"/>
<rect x="531.82" y="268.42" width="3.53" height="1.85" fill="#004cff"/>
<rect x="531.82" y="266.63" width="3.53" height="1.85" fill="#0040ff"/>
<rect x="531.82" y="264.83" width="3.53" height="1.85" fill="#0032ff"/>
<rect x="531.82" y="263.04" width="3.53" height="1.85" fill="#003eff"/>
<rect x="531.82" y="261.25" width="3.53" height="1.85" fill="#003fff"/>
<rect x="531.82" y="259.45" width="3.53" height="1.85" fill="#0045ff"/>
<rect x="531.82" y="257.65" width="3.53" height="1.85" fill="#0058ff"/>
<rect x="531.82" y="255.86" width="3.53" height="1.85" fill="#004eff"/>
<rect x="531.82" y="254.06" width="3.53" height="1.85" fill="#0074ff"/>
<rect x="531.82" y="252.27" width="3.53" height="1.85" fill="#0098ff"/>
<rect x="531.82" y="250.47" width="3.53" height="1.85" fill="#007eff"/>
<rect x="531.82" y="248.68" width="3.53" height="1.85" fill="#0070ff"/>
<rect x="531.82" y="246.88" width="3.53" height="1.85" fill="#0065ff"/>
<rect x="531.82" y="245.09" width="3.53" height="1.85" fill="#0057ff"/>
<rect x="531.82" y="243.29" width="3.53" height="1.85" fill="#002aff"/>
<rect x="531.82" y="241.50" width="3.53" height="1.85" fill="#0000fd"/>
<rect x="531.82" y="239.70" width="3.53" height="1.85" fill="#0000f1"/>
<rect x="531.82" y="237.91" width="3.53" height="1.85" fill="#0000fc"/>
<rect x="531.82" y="236.11" width="3.53" height="1.85" fill="#0000f9"/>
<rect x="531.82" y="234.32" width="3.53" height="1.85" fill="#0000f3"/>
<rect x="531.82" y="232.52" width="3.53" height="1.85" fill="#0000f1"/>
<rect x="535.30" y="275.60" width="3.53" height="2.59" fill="#0007ff"/>
<rect x="535.30" y="273.81" width="3.53" height="1.85" fill="#002bff"/>
<rect x="535.30" y="272.01" width="3.53" height="1.85" fill="#003dff"/>
<rect x="535.30" y="270.22" width="3.53" height="1.85" fill="#005fff"/>
<rect x="535.30" y="268.42" width="3.53" height="1.85" fill="#0023ff"/>
<rect x="535.30" y="266.63" width="3.53" height="1.85" fill="#001cff"/>
<rect x="535.30" y="264.83" width="3.53" height="1.85" fill="#001dff"/>
<rect x="535.30" y="263.04" width="3.53" height="1.85" fill="#0028ff"/>
<rect x="535.30" y="261.25" width="3.53" height="1.85" fill="#0029ff"/>
<rect x="535.30" y="259.45" width="3.53" height="1.85" fill="#004cff"/>
<rect x="535.30" y="257.65" width="3.53" height="1.85" fill="#0067ff"/>
<rect x="535.30" y="255.86" width="3.53" height="1.85" fill="#0066ff"/>
<rect x="535.30" y="254.06" width="3.53" height="1.85" fill="#006dff"/>
<rect x="535.30" y="252.27" width="3.53" height="1.85" fill="#008dff"/>
<rect x="535.30" y="250.47" width="3.53" height="1.85" fill="#0075ff"/>
<rect x="535.30" y="248.68" width="3.53" height="1.85" fill="#006fff"/>
<rect x="535.30" y="246.88" width="3.53" height="1.85" fill="#0078ff"/>
<rect x="535.30" y="245.09" width="3.53" height="1.85" fill="#0078ff"/>
<rect x="535.30" y="243.29" width="3.53" height="1.85" fill="#004bff"/>
<rect x="535.30" y="241.50" width="3.53" height="1.85" fill="#0018ff"/>
<rect x="535.30" y="239.70" width="3.53" height="1.85" fill="#0013ff"/>
<rect x="535.30" y="237.91" width="3.53" height="1.85" fill="#001fff"/>
<rect x="535.30" y="236.11" width="3.53" height="1.85" fill="#0002ff"/>
<rect x="535.30" y="234.32" width="3.53" height="1.85" fill="#0000f5"/>
<rect x="538.78" y="275.60" width="3.53" height="2.59" fill="#0008ff"/>
<rect x="538.78" y="273.81" width="3.53" height="1.85" fill="#003dff"/>
<rect x="538.78" y="272.01" width="3.53" height="1.85" fill="#0050ff"/>
<rect x="538.78" y="270.22" width="3.53" height="1.85" fill="#0055ff"/>
<rect x="538.78" y="268.42" width="3.53" height="1.85" fill="#0006ff"/>
<rect x="538.78" y="266.63" width="3.53" height="1.85" fill="#0000ee"/>
<rect x="538.78" y="264.83" width="3.53" height="1.85" fill="#0000ff"/>
<rect x="538.78" y="263.04" width="3.53" height="1.85" fill="#0012ff"/>
<rect x="538.78" y="261.25" width="3.53" height="1.85" fill="#0019ff"/>
<rect x="538.78" y="259.45" width="3.53" height="1.85" fill="#0043ff"/>
<rect x="538.78" y="257.65" width="3.53" height="1.85" fill="#0055ff"/>
<rect x="538.78" y="255.86" width="3.53" height="1.85" fill="#0068ff"/>
<rect x="538.78" y="254.06" width="3.53" height="1.85" fill="#006bff"/>
<rect x="538.78" y="252.27" width="3.53" height="1.85" fill="#008eff"/>
<rect x="538.78" y="250.47" width="3.53" height="1.85" fill="#0081ff"/>
<rect x="538.78" y="248.68" width="3.53" height="1.85" fill="#0080ff"/>
<rect x="538.78" y="246.88" width="3.53" height="1.85" fill="#0091ff"/>
<rect x="538.78" y="245.09" width="3.53" height="1.85" fill="#008aff"/>
<rect x="538.78" y="243.29" width="3.53" height="1.85" fill="#005fff"/>
<rect x="538.78" y="241.50" width="3.53" height="1.85" fill="#0034ff"/>
<rect x="538.78" y="239.70" width="3.53" height="1.85" fill="#0039ff"/>
<rect x="538.78" y="237.91" width="3.53" height="1.85" fill="#004fff"/>
<rect x="538.78" y="236.11" width="3.53" height="1.85" fill="#0026ff"/>
<rect x="542.26" y="275.60" width="3.53" height="2.59" fill="#0009ff"/>
<rect x="542.26" y="273.81" width="3.53" height="1.85" fill="#004eff"/>
<rect x="542.26" y="272.01" width="3.53" height="1.85" fill="#0071ff"/>
<rect x="542.26" y="270.22" width="3.53" height="1.85" fill="#0064ff"/>
<rect x="542.26" y="268.42" width="3.53" height="1.85" fill="#000dff"/>
<rect x="542.26" y="266.63" width="3.53" height="1.85" fill="#0000de"/>
<rect x="542.26" y="264.83" width="3.53" height="1.85" fill="#0000eb"/>
<rect x="542.26" y="263.04" width="3.53" height="1.85" fill="#0000fa"/>
<rect x="542.26" y="261.25" width="3.53" height="1.85" fill="#000dff"/>
<rect x="542.26" y="259.45" width="3.53" height="1.85" fill="#002eff"/>
<rect x="542.26" y="257.65" width="3.53" height="1.85" fill="#003bff"/>
<rect x="542.26" y="255.86" width="3.53" height="1.85" fill="#0048ff"/>
<rect x="542.26" y="254.06" width="3.53" height="1.85" fill="#0052ff"/>
<rect x="542.26" y="252.27" width="3.53" height="1.85" fill="#0093ff"/>
<rect x="542.26" y="250.47" width="3.53" height="1.85" fill="#00a4ff"/>
<rect x="542.26" y="248.68" width="3.53" height="1.85" fill="#00adff"/>
<rect x="542.26" y="246.88" width="3.53" height="1.85" fill="#00aaff"/>
<rect x="542.26" y="245.09" width="3.53" height="1.85" fill="#0089ff"/>
<rect x="542.26" y="243.29" width="3.53" height="1.85" fill="#005eff"/>
<rect x="542.26" y="241.50" width="3.53" height="1.85" fill="#004eff"/>
<rect x="542.26" y="239.70" width="3.53" height="1.85" fill="#0059ff"/>
<rect x="542.26" y="237.91" width="3.53" height="1.85" fill="#006fff"/>
<rect x="542.26" y="236.11" width="3.53" height="1.85" fill="#0052ff"/>
<rect x="545.74" y="275.60" width="3.53" height="2.59" fill="#0012ff"/>
<rect x="545.74" y="273.81" width="3.53" height="1.85" fill="#0043ff"/>
<rect x="545.74" y="272.01" width="3.53" height="1.85" fill="#0073ff"/>
<rect x="545.74" y="270.22" width="3.53" height="1.85" fill="#006bff"/>
<rect x="545.74" y="268.42" width="3.53" height="1.85" fill="#0026ff"/>
<rect x="545.74" y="266.63" width="3.53" height="1.85" fill="#0000ff"/>
<rect x="545.74" y="264.83" width="3.53" height="1.85" fill="#0000e2"/>
<rect x="545.74" y="263.04" width="3.53" height="1.85" fill="#0000d4"/>
<rect x="545.74" y="261.25" width="3.53" height="1.85" fill="#0000ee"/>
<rect x="545.74" y="259.45" width="3.53" height="1.85" fill="#0012ff"/>
<rect x="545.74" y="257.65" width="3.53" height="1.85" fill="#0028ff"/>
<rect x="545.74" y="255.86" width="3.53" height="1.85" fill="#0029ff"/>
<rect x="545.74" y="254.06" width="3.53" height="1.85" fill="#0040ff"/>
<rect x="545.74" y="252.27" width="3.53" height="1.85" fill="#008dff"/>
<rect x="545.74" y="250.47" width="3.53" height="1.85" fill="#00bdff"/>
<rect x="545.74" y="248.68" width="3.53" height="1.85" fill="#00d4ff"/>
<rect x="545.74" y="246.88" width="3.53" height="1.85" fill="#00bfff"/>
<rect x="545.74" y="245.09" width="3.53" height="1.85" fill="#008fff"/>
<rect x="545.74" y="243.29" width="3.53" height="1.85" fill="#0061ff"/>
<rect x="545.74" y="241.50" width="3.53" height="1.85" fill="#0066ff"/>
<rect x="545.74" y="239.70" width="3.53" height="1.85" fill="#0069ff"/>
<rect x="545.74" y="237.91" width="3.53" height="1.85" fill="#007cff"/>
<rect x="545.74" y="236.11" width="3.53" height="1.85" fill="#006bff"/>
<rect x="549.22" y="275.60" width="3.53" height="2.59" fill="#0000fd"/>
<rect x="549.22" y="273.81" width="3.53" height="1.85" fill="#0020ff"/>
<rect x="549.22" y="272.01" width="3.53" height="1.85" fill="#0041ff"/>
<rect x="549.22" y="270.22" width="3.53" height="1.85" fill="#0040ff"/>
<rect x="549.22" y="268.42" width="3.53" height="1.85" fill="#0028ff"/>
<rect x="549.22" y="266.63" width="3.53" height="1.85" fill="#000cff"/>
<rect x="549.22" y="264.83" width="3.53" height="1.85" fill="#0000c6"/>
<rect x="549.22" y="263.04" width="3.53" height="1.85" fill="#0000ae"/>
<rect x="549.22" y="261.25" width="3.53" height="1.85" fill="#0000d0"/>
<rect x="549.22" y="259.45" width="3.53" height="1.85" fill="#0000fe"/>
<rect x="549.22" y="257.65" width="3.53" height="1.85" fill="#0020ff"/>
<rect x="549.22" y="255.86" width="3.53" height="1.85" fill="#0019ff"/>
<rect x="549.22" y="254.06" width="3.53" height="1.85" fill="#0034ff"/>
<rect x="549.22" y="252.27" width="3.53" height="1.85" fill="#0078ff"/>
<rect x="549.22" y="250.47" width="3.53" height="1.85" fill="#00d6ff"/>
<rect x="549.22" y="248.68" width="3.53" height="1.85" fill="#00feff"/>
<rect x="549.22" y="246.88" width="3.53" height="1.85" fill="#00d2ff"/>
<rect x="549.22" y="245.09" width="3.53" height="1.85" fill="#0088ff"/>
<rect x="549.22" y="243.29" width="3.53" height="1.85" fill="#0059ff"/>
<rect x="549.22" y="241.50" width="3.53" height="1.85" fill="#0069ff"/>
<rect x="549.22" y="239.70" width="3.53" height="1.85" fill="#006bff"/>
<rect x="549.22" y="237.91" width="3.53" height="1.85" fill="#007bff"/>
<rect x="552.70" y="275.60" width="3.53" height="2.59" fill="#0000d9"/>
<rect x="552.70" y="273.81" width="3.53" height="1.85" fill="#0002ff"/>
<rect x="552.70" y="272.01" width="3.53" height="1.85" fill="#001cff"/>
<rect x="552.70" y="270.22" width="3.53" height="1.85" fill="#0012ff"/>
<rect x="552.70" y="268.42" width="3.53" height="1.85" fill="#0017ff"/>
<rect x="552.70" y="266.63" width="3.53" height="1.85" fill="#0000f5"/>
<rect x="552.70" y="264.83" width="3.53" height="1.85" fill="#0000b6"/>
<rect x="552.70" y="263.04" width="3.53" height="1.85" fill="#0000ab"/>
<rect x="552.70" y="261.25" width="3.53" height="1.85" fill="#0000d6"/>
<rect x="552.70" y="259.45" width="3.53" height="1.85" fill="#0000f7"/>
<rect x="552.70" y="257.65" width="3.53" height="1.85" fill="#0012ff"/>
<rect x="552.70" y="255.86" width="3.53" height="1.85" fill="#0019ff"/>
<rect x="552.70" y="254.06" width="3.53" height="1.85" fill="#002fff"/>
<rect x="552.70" y="252.27" width="3.53" height="1.85" fill="#0057ff"/>
<rect x="552.70" y="250.47" width="3.53" height="1.85" fill="#00e5ff"/>
<rect x="552.70" y="248.68" width="3.53" height="1.85" fill="#22ffdd"/>
<rect x="552.70" y="246.88" width="3.53" height="1.85" fill="#00d1ff"/>
<rect x="552.70" y="245.09" width="3.53" height="1.85" fill="#0073ff"/>
<rect x="552.70" y="243.29" width="3.53" height="1.85" fill="#003eff"/>
<rect x="552.70" y="241.50" width="3.53" height="1.85" fill="#004dff"/>
<rect x="552.70" y="239.70" width="3.53" height="1.85" fill="#0063ff"/>
<rect x="552.70" y="237.91" width="3.53" height="1.85" fill="#0061ff"/>
<rect x="556.18" y="275.60" width="3.53" height="2.59" fill="#0000d3"/>
<rect x="556.18" y="273.81" width="3.53" height="1.85" fill="#0000de"/>
<rect x="556.18" y="272.01" width="3.53" height="1.85" fill="#0000e1"/>
<rect x="556.18" y="270.22" width="3.53" height="1.85" fill="#0000ee"/>
<rect x="556.18" y="268.42" width="3.53" height="1.85" fill="#0000f3"/>
<rect x="556.18" y="266.63" width="3.53" height="1.85" fill="#0000e8"/>
<rect x="556.18" y="264.83" width="3.53" height="1.85" fill="#0000a6"/>
<rect x="556.18" y="263.04" width="3.53" height="1.85" fill="#00008a"/>
<rect x="556.18" y="261.25" width="3.53" height="1.85" fill="#0000bf"/>
<rect x="556.18" y="259.45" width="3.53" height="1.85" fill="#0000e4"/>
<rect x="556.18" y="257.65" width="3.53" height="1.85" fill="#0006ff"/>
<rect x="556.18" y="255.86" width="3.53" height="1.85" fill="#0016ff"/>
<rect x="556.18" y="254.06" width="3.53" height="1.85" fill="#0025ff"/>
<rect x="556.18" y="252.27" width="3.53" height="1.85" fill="#0029ff"/>
<rect x="556.18" y="250.47" width="3.53" height="1.85" fill="#006dff"/>
<rect x="556.18" y="248.68" width="3.53" height="1.85" fill="#00a4ff"/>
<rect x="556.18" y="246.88" width="3.53" height="1.85" fill="#0070ff"/>
<rect x="556.18" y="245.09" width="3.53" height="1.85" fill="#0037ff"/>
<rect x="556.18" y="243.29" width="3.53" height="1.85" fill="#0012ff"/>
<rect x="556.18" y="241.50" width="3.53" height="1.85" fill="#0026ff"/>
<rect x="556.18" y="239.70" width="3.53" height="1.85" fill="#0044ff"/>
<rect x="559.66" y="275.60" width="3.53" height="2.59" fill="#0000de"/>
<rect x="559.66" y="273.81" width="3.53" height="1.85" fill="#0000cc"/>
<rect x="559.66" y="272.01" width="3.53" height="1.85" fill="#0000c2"/>
<rect x="559.66" y="270.22" width="3.53" height="1.85" fill="#0000e7"/>
<rect x="559.66" y="268.42" width="3.53" height="1.85" fill="#0000f6"/>
<rect x="559.66" y="266.63" width="3.53" height="1.85" fill="#0000fc"/>
<rect x="559.66" y="264.83" width="3.53" height="1.85" fill="#0000ae"/>
<rect x="559.66" y="263.04" width="3.53" height="1.85" fill="#000080"/>
<rect x="559.66" y="261.25" width="3.53" height="1.85" fill="#0000b3"/>
<rect x="559.66" y="259.45" width="3.53" height="1.85" fill="#0000e7"/>
<rect x="559.66" y="257.65" width="3.53" height="1.85" fill="#000bff"/>
<rect x="559.66" y="255.86" width="3.53" height="1.85" fill="#001cff"/>
<rect x="559.66" y="254.06" width="3.53" height="1.85" fill="#001eff"/>
<rect x="559.66" y="252.27" width="3.53" height="1.85" fill="#000aff"/>
<rect x="559.66" y="250.47" width="3.53" height="1.85" fill="#0013ff"/>
<rect x="559.66" y="248.68" width="3.53" height="1.85" fill="#0029ff"/>
<rect x="559.66" y="246.88" width="3.53" height="1.85" fill="#000bff"/>
<rect x="559.66" y="245.09" width="3.53" height="1.85" fill="#0000eb"/>
<rect x="559.66" y="243.29" width="3.53" height="1.85" fill="#0000f2"/>
<rect x="559.66" y="241.50" width="3.53" height="1.85" fill="#0005ff"/>
<rect x="559.66" y="239.70" width="3.53" height="1.85" fill="#0014ff"/>
<rect x="563.14" y="275.60" width="3.53" height="2.59" fill="#0000dd"/>
<rect x="563.14" y="273.81" width="3.53" height="1.85" fill="#0000c2"/>
<rect x="563.14" y="272.01" width="3.53" height="1.85" fill="#0000b1"/>
<rect x="563.14" y="270.22" width="3.53" height="1.85" fill="#0000e0"/>
<rect x="563.14" y="268.42" width="3.53" height="1.85" fill="#0000e7"/>
<rect x="563.14" y="266.63" width="3.53" height="1.85" fill="#0000d8"/>
<rect x="563.14" y="264.83" width="3.53" height="1.85" fill="#0000b6"/>
<rect x="563.14" y="263.04" width="3.53" height="1.85" fill="#0000a4"/>
<rect x="563.14" y="261.25" width="3.53" height="1.85" fill="#0000d1"/>
<rect x="563.14" y="259.45" width="3.53" height="1.85" fill="#0010ff"/>
<rect x="563.14" y="257.65" width="3.53" height="1.85" fill="#0026ff"/>
<rect x="563.14" y="255.86" width="3.53" height="1.85" fill="#003aff"/>
<rect x="563.14" y="254.06" width="3.53" height="1.85" fill="#002cff"/>
<rect x="563.14" y="252.27" width="3.53" height="1.85" fill="#0000ff"/>
<rect x="563.14" y="250.47" width="3.53" height="1.85" fill="#0000f8"/>
<rect x="563.14" y="248.68" width="3.53" height="1.85" fill="#000cff"/>
<rect x="563.14" y="246.88" width="3.53" height="1.85" fill="#0000eb"/>
<rect x="563.14" y="245.09" width="3.53" height="1.85" fill="#0000c2"/>
<rect x="563.14" y="243.29" width="3.53" height="1.85" fill="#0000fa"/>
<rect x="563.14" y="241.50" width="3.53" height="1.85" fill="#0006ff"/>
<rect x="566.62" y="275.60" width="3.53" height="2.59" fill="#0000e8"/>
<rect x="566.62" y="273.81" width="3.53" height="1.85" fill="#0000b4"/>
<rect x="566.62" y="272.01" width="3.53" height="1.85" fill="#0000a5"/>
<rect x="566.62" y="270.22" width="3.53" height="1.85" fill="#0000c5"/>
<rect x="566.62" y="268.42" width="3.53" height="1.85" fill="#0000cb"/>
<rect x="566.62" y="266.63" width="3.53" height="1.85" fill="#0000c2"/>
<rect x="566.62" y="264.83" width="3.53" height="1.85" fill="#0000c7"/>
<rect x="566.62" y="263.04" width="3.53" height="1.85" fill="#0000bb"/>
<rect x="566.62" y="261.25" width="3.53" height="1.85" fill="#0000cd"/>
<rect x="566.62" y="259.45" width="3.53" height="1.85" fill="#0020ff"/>
<rect x="566.62" y="257.65" width="3.53" height="1.85" fill="#0041ff"/>
<rect x="566.62" y="255.86" width="3.53" height="1.85" fill="#004aff"/>
<rect x="566.62" y="254.06" width="3.53" height="1.85" fill="#0037ff"/>
<rect x="566.62" y="252.27" width="3.53" height="1.85" fill="#0010ff"/>
<rect x="566.62" y="250.47" width="3.53" height="1.85" fill="#0007ff"/>
<rect x="566.62" y="248.68" width="3.53" height="1.85" fill="#000fff"/>
<rect x="566.62" y="246.88" width="3.53" height="1.85" fill="#0000d3"/>
<rect x="566.62" y="245.09" width="3.53" height="1.85" fill="#0000a5"/>
<rect x="566.62" y="243.29" width="3.53" height="1.85" fill="#0000ef"/>
<rect x="566.62" y="241.50" width="3.53" height="1.85" fill="#0000eb"/>
<rect x="570.10" y="275.60" width="3.53" height="2.59" fill="#0000e8"/>
<rect x="570.10" y="273.81" width="3.53" height="1.85" fill="#0000a6"/>
<rect x="570.10" y="272.01" width="3.53" height="1.85" fill="#000096"/>
<rect x="570.10" y="270.22" width="3.53" height="1.85" fill="#0000b4"/>
<rect x="570.10" y="268.42" width="3.53" height="1.85" fill="#0000eb"/>
<rect x="570.10" y="266.63" width="3.53" height="1.85" fill="#0000f6"/>
<rect x="570.10" y="264.83" width="3.53" height="1.85" fill="#0000e6"/>
<rect x="570.10" y="263.04" width="3.53" height="1.85" fill="#0000c4"/>
<rect x="570.10" y="261.25" width="3.53" height="1.85" fill="#0000cc"/>
<rect x="570.10" y="259.45" width="3.53" height="1.85" fill="#0027ff"/>
<rect x="570.10" y="257.65" width="3.53" height="1.85" fill="#0044ff"/>
<rect x="570.10" y="255.86" width="3.53" height="1.85" fill="#0032ff"/>
<rect x="570.10" y="254.06" width="3.53" height="1.85" fill="#0034ff"/>
<rect x="570.10" y="252.27" width="3.53" height="1.85" fill="#001dff"/>
<rect x="570.10" y="250.47" width="3.53" height="1.85" fill="#0009ff"/>
<rect x="570.10" y="248.68" width="3.53" height="1.85" fill="#000cff"/>
<rect x="570.10" y="246.88" width="3.53" height="1.85" fill="#0000bc"/>
<rect x="570.10" y="245.09" width="3.53" height="1.85" fill="#000090"/>
<rect x="573.58" y="275.60" width="3.53" height="2.59" fill="#0000e4"/>
<rect x="573.58" y="273.81" width="3.53" height="1.85" fill="#0000b8"/>
<rect x="573.58" y="272.01" width="3.53" height="1.85" fill="#00008e"/>
<rect x="573.58" y="270.22" width="3.53" height="1.85" fill="#0000ba"/>
<rect x="573.58" y="268.42" width="3.53" height="1.85" fill="#000dff"/>
<rect x="573.58" y="266.63" width="3.53" height="1.85" fill="#000aff"/>
<rect x="573.58" y="264.83" width="3.53" height="1.85" fill="#0000f6"/>
<rect x="573.58" y="263.04" width="3.53" height="1.85" fill="#0000e0"/>
<rect x="573.58" y="261.25" width="3.53" height="1.85" fill="#0000e9"/>
<rect x="573.58" y="259.45" width="3.53" height="1.85" fill="#0029ff"/>
<rect x="573.58" y="257.65" width="3.53" height="1.85" fill="#004dff"/>
<rect x="573.58" y="255.86" width="3.53" height="1.85" fill="#0036ff"/>
<rect x="573.58" y="254.06" width="3.53" height="1.85" fill="#002fff"/>
<rect x="573.58" y="252.27" width="3.53" height="1.85" fill="#001fff"/>
<rect x="573.58" y="250.47" width="3.53" height="1.85" fill="#000bff"/>
<rect x="573.58" y="248.68" width="3.53" height="1.85" fill="#0013ff"/>
<rect x="573.58" y="246.88" width="3.53" height="1.85" fill="#0000dd"/>
<rect x="577.06" y="275.60" width="3.53" height="2.59" fill="#0000cf"/>
<rect x="577.06" y="273.81" width="3.53" height="1.85" fill="#0000cc"/>
<rect x="577.06" y="272.01" width="3.53" height="1.85" fill="#0000a5"/>
<rect x="577.06" y="270.22" width="3.53" height="1.85" fill="#0000ae"/>
<rect x="577.06" y="268.42" width="3.53" height="1.85" fill="#0000d3"/>
<rect x="577.06" y="266.63" width="3.53" height="1.85" fill="#0000d7"/>
<rect x="577.06" y="264.83" width="3.53" height="1.85" fill="#0000f5"/>
<rect x="577.06" y="263.04" width="3.53" height="1.85" fill="#0000f0"/>
<rect x="577.06" y="261.25" width="3.53" height="1.85" fill="#0000eb"/>
<rect x="577.06" y="259.45" width="3.53" height="1.85" fill="#001dff"/>
<rect x="577.06" y="257.65" width="3.53" height="1.85" fill="#0043ff"/>
<rect x="577.06" y="255.86" width="3.53" height="1.85" fill="#004cff"/>
<rect x="577.06" y="254.06" width="3.53" height="1.85" fill="#002cff"/>
<rect x="577.06" y="252.27" width="3.53" height="1.85" fill="#0018ff"/>
<rect x="577.06" y="250.47" width="3.53" height="1.85" fill="#0011ff"/>
<rect x="577.06" y="248.68" width="3.53" height="1.85" fill="#0015ff"/>
<rect x="577.06" y="246.88" width="3.53" height="1.85" fill="#0000fd"/>
<rect x="580.54" y="275.60" width="3.53" height="2.59" fill="#0000bd"/>
<rect x="580.54" y="273.81" width="3.53" height="1.85" fill="#0000bc"/>
<rect x="580.54" y="272.01" width="3.53" height="1.85" fill="#0000c0"/>
<rect x="580.54" y="270.22" width="3.53" height="1.85" fill="#0000a6"/>
<rect x="580.54" y="268.42" width="3.53" height="1.85" fill="#00009d"/>
<rect x="580.54" y="266.63" width="3.53" height="1.85" fill="#0000c0"/>
<rect x="580.54" y="264.83" width="3.53" height="1.85" fill="#0000fe"/>
<rect x="580.54" y="263.04" width="3.53" height="1.85" fill="#0000e9"/>
<rect x="580.54" y="261.25" width="3.53" height="1.85" fill="#0000dc"/>
<rect x="580.54" y="259.45" width="3.53" height="1.85" fill="#001dff"/>
<rect x="580.54" y="257.65" width="3.53" height="1.85" fill="#0020ff"/>
<rect x="580.54" y="255.86" width="3.53" height="1.85" fill="#0048ff"/>
<rect x="580.54" y="254.06" width="3.53" height="1.85" fill="#0026ff"/>
<rect x="580.54" y="252.27" width="3.53" height="1.85" fill="#000cff"/>
<rect x="580.54" y="250.47" width="3.53" height="1.85" fill="#0011ff"/>
<rect x="580.54" y="248.68" width="3.53" height="1.85" fill="#000dff"/>
<rect x="580.54" y="246.88" width="3.53" height="1.85" fill="#0000f5"/>
<rect x="584.02" y="275.60" width="3.53" height="2.59" fill="#0000bd"/>
<rect x="584.02" y="273.81" width="3.53" height="1.85" fill="#0000b5"/>
<rect x="584.02" y="272.01" width="3.53" height="1.85" fill="#0000d8"/>
<rect x="584.02" y="270.22" width="3.53" height="1.85" fill="#0000bc"/>
<rect x="584.02" y="268.42" width="3.53" height="1.85" fill="#0000a2"/>
<rect x="584.02" y="266.63" width="3.53" height="1.85" fill="#0000c0"/>
<rect x="584.02" y="264.83" width="3.53" height="1.85" fill="#001dff"/>
<rect x="584.02" y="263.04" width="3.53" height="1.85" fill="#0000f5"/>
<rect x="584.02" y="261.25" width="3.53" height="1.85" fill="#0000cb"/>
<rect x="584.02" y="259.45" width="3.53" height="1.85" fill="#001fff"/>
<rect x="584.02" y="257.65" width="3.53" height="1.85" fill="#0014ff"/>
<rect x="584.02" y="255.86" width="3.53" height="1.85" fill="#003eff"/>
<rect x="584.02" y="254.06" width="3.53" height="1.85" fill="#0027ff"/>
<rect x="584.02" y="252.27" width="3.53" height="1.85" fill="#0013ff"/>
<rect x="584.02" y="250.47" width="3.53" height="1.85" fill="#0012ff"/>
<rect x="584.02" y="246.88" width="3.53" height="1.85" fill="#0000e4"/>
<rect x="587.50" y="275.60" width="3.53" height="2.59" fill="#0000be"/>
<rect x="587.50" y="273.81" width="3.53" height="1.85" fill="#0000ad"/>
<rect x="587.50" y="272.01" width="3.53" height="1.85" fill="#0000db"/>
<rect x="587.50" y="270.22" width="3.53" height="1.85" fill="#0000da"/>
<rect x="587.50" y="268.42" width="3.53" height="1.85" fill="#0000ba"/>
<rect x="587.50" y="266.63" width="3.53" height="1.85" fill="#0000bd"/>
<rect x="587.50" y="264.83" width="3.53" height="1.85" fill="#001bff"/>
<rect x="587.50" y="263.04" width="3.53" height="1.85" fill="#0000f9"/>
<rect x="587.50" y="261.25" width="3.53" height="1.85" fill="#0000cb"/>
<rect x="587.50" y="259.45" width="3.53" height="1.85" fill="#001cff"/>
<rect x="587.50" y="257.65" width="3.53" height="1.85" fill="#0024ff"/>
<rect x="587.50" y="255.86" width="3.53" height="1.85" fill="#0022ff"/>
<rect x="587.50" y="254.06" width="3.53" height="1.85" fill="#0021ff"/>
<rect x="587.50" y="252.27" width="3.53" height="1.85" fill="#0018ff"/>
<rect x="587.50" y="250.47" width="3.53" height="1.85" fill="#0014ff"/>
<rect x="587.50" y="248.68" width="3.53" height="1.85" fill="#0002ff"/>
<rect x="587.50" y="246.88" width="3.53" height="1.85" fill="#0000df"/>
<rect x="590.98" y="275.60" width="3.53" height="2.59" fill="#0000c9"/>
<rect x="590.98" y="273.81" width="3.53" height="1.85" fill="#0000b1"/>
<rect x="590.98" y="272.01" width="3.53" height="1.85" fill="#0000e3"/>
<rect x="590.98" y="270.22" width="3.53" height="1.85" fill="#0005ff"/>
<rect x="590.98" y="268.42" width="3.53" height="1.85" fill="#0000cc"/>
<rect x="590.98" y="266.63" width="3.53" height="1.85" fill="#0000b8"/>
<rect x="590.98" y="264.83" width="3.53" height="1.85" fill="#0000de"/>
<rect x="590.98" y="263.04" width="3.53" height="1.85" fill="#0000df"/>
<rect x="590.98" y="261.25" width="3.53" height="1.85" fill="#0000d0"/>
<rect x="590.98" y="259.45" width="3.53" height="1.85" fill="#001cff"/>
<rect x="590.98" y="257.65" width="3.53" height="1.85" fill="#0032ff"/>
<rect x="590.98" y="255.86" width="3.53" height="1.85" fill="#000cff"/>
<rect x="590.98" y="254.06" width="3.53" height="1.85" fill="#0020ff"/>
<rect x="590.98" y="252.27" width="3.53" height="1.85" fill="#001fff"/>
<rect x="590.98" y="250.47" width="3.53" height="1.85" fill="#001eff"/>
<rect x="590.98" y="248.68" width="3.53" height="1.85" fill="#0002ff"/>
<rect x="590.98" y="246.88" width="3.53" height="1.85" fill="#0000e0"/>
<rect x="594.46" y="275.60" width="3.53" height="2.59" fill="#0000d5"/>
<rect x="594.46" y="273.81" width="3.53" height="1.85" fill="#0000d0"/>
<rect x="594.46" y="272.01" width="3.53" height="1.85" fill="#0000fb"/>
<rect x="594.46" y="270.22" width="3.53" height="1.85" fill="#0013ff"/>
<rect x="594.46" y="268.42" width="3.53" height="1.85" fill="#0000d7"/>
<rect x="594.46" y="266.63" width="3.53" height="1.85" fill="#0000be"/>
<rect x="594.46" y="264.83" width="3.53" height="1.85" fill="#0000c1"/>
<rect x="594.46" y="263.04" width="3.53" height="1.85" fill="#0000dd"/>
<rect x="594.46" y="261.25" width="3.53" height="1.85" fill="#0000da"/>
<rect x="594.46" y="259.45" width="3.53" height="1.85" fill="#001bff"/>
<rect x="594.46" y="257.65" width="3.53" height="1.85" fill="#0032ff"/>
<rect x="594.46" y="255.86" width="3.53" height="1.85" fill="#001bff"/>
<rect x="594.46" y="254.06" width="3.53" height="1.85" fill="#0030ff"/>
<rect x="594.46" y="252.27" width="3.53" height="1.85" fill="#0025ff"/>
<rect x="594.46" y="250.47" width="3.53" height="1.85" fill="#0015ff"/>
<rect x="597.94" y="275.60" width="3.53" height="2.59" fill="#0000e3"/>
<rect x="597.94" y="273.81" width="3.53" height="1.85" fill="#0000f4"/>
<rect x="597.94" y="272.01" width="3.53" height="1.85" fill="#0003ff"/>
<rect x="597.94" y="270.22" width="3.53" height="1.85" fill="#001bff"/>
<rect x="597.94" y="268.42" width="3.53" height="1.85" fill="#0000f7"/>
<rect x="597.94" y="266.63" width="3.53" height="1.85" fill="#0000d5"/>
<rect x="597.94" y="264.83" width="3.53" height="1.85" fill="#0000dc"/>
<rect x="597.94" y="263.04" width="3.53" height="1.85" fill="#0000fc"/>
<rect x="597.94" y="261.25" width="3.53" height="1.85" fill="#0000e8"/>
<rect x="597.94" y="259.45" width="3.53" height="1.85" fill="#0010ff"/>
<rect x="597.94" y="257.65" width="3.53" height="1.85" fill="#002eff"/>
<rect x="597.94" y="255.86" width="3.53" height="1.85" fill="#002bff"/>
<rect x="597.94" y="254.06" width="3.53" height="1.85" fill="#004cff"/>
<rect x="597.94" y="252.27" width="3.53" height="1.85" fill="#003bff"/>
<rect x="597.94" y="250.47" width="3.53" height="1.85" fill="#0004ff"/>
<rect x="601.42" y="275.60" width="3.53" height="2.59" fill="#0000f0"/>
<rect x="601.42" y="273.81" width="3.53" height="1.85" fill="#0000f2"/>
<rect x="601.42" y="272.01" width="3.53" height="1.85" fill="#0005ff"/>
<rect x="601.42" y="270.22" width="3.53" height="1.85" fill="#0026ff"/>
<rect x="601.42" y="268.42" width="3.53" height="1.85" fill="#0023ff"/>
<rect x="601.42" y="266.63" width="3.53" height="1.85" fill="#0000fd"/>
<rect x="601.42" y="264.83" width="3.53" height="1.85" fill="#0000f9"/>
<rect x="601.42" y="263.04" width="3.53" height="1.85" fill="#0024ff"/>
<rect x="601.42" y="261.25" width="3.53" height="1.85" fill="#0017ff"/>
<rect x="601.42" y="259.45" width="3.53" height="1.85" fill="#0019ff"/>
<rect x="601.42" y="257.65" width="3.53" height="1.85" fill="#0030ff"/>
<rect x="601.42" y="255.86" width="3.53" height="1.85" fill="#003cff"/>
<rect x="601.42" y="254.06" width="3.53" height="1.85" fill="#0082ff"/>
<rect x="601.42" y="252.27" width="3.53" height="1.85" fill="#0086ff"/>
<rect x="604.90" y="275.60" width="3.53" height="2.59" fill="#000eff"/>
<rect x="604.90" y="273.81" width="3.53" height="1.85" fill="#0000fa"/>
<rect x="604.90" y="272.01" width="3.53" height="1.85" fill="#001cff"/>
<rect x="604.90" y="270.22" width="3.53" height="1.85" fill="#002aff"/>
<rect x="604.90" y="268.42" width="3.53" height="1.85" fill="#002fff"/>
<rect x="604.90" y="266.63" width="3.53" height="1.85" fill="#0025ff"/>
<rect x="604.90" y="264.83" width="3.53" height="1.85" fill="#0019ff"/>
<rect x="604.90" y="263.04" width="3.53" height="1.85" fill="#0035ff"/>
<rect x="604.90" y="261.25" width="3.53" height="1.85" fill="#003eff"/>
<rect x="604.90" y="259.45" width="3.53" height="1.85" fill="#002cff"/>
<rect x="604.90" y="257.65" width="3.53" height="1.85" fill="#0028ff"/>
<rect x="604.90" y="255.86" width="3.53" height="1.85" fill="#0046ff"/>
<rect x="604.90" y="254.06" width="3.53" height="1.85" fill="#00b5ff"/>
<rect x="604.90" y="252.27" width="3.53" height="1.85" fill="#00e4ff"/>
<rect x="608.38" y="275.60" width="3.53" height="2.59" fill="#0026ff"/>
<rect x="608.38" y="273.81" width="3.53" height="1.85" fill="#0012ff"/>
<rect x="608.38" y="272.01" width="3.53" height="1.85" fill="#0029ff"/>
<rect x="608.38" y="270.22" width="3.53" height="1.85" fill="#0032ff"/>
<rect x="608.38" y="268.42" width="3.53" height="1.85" fill="#002dff"/>
<rect x="608.38" y="266.63" width="3.53" height="1.85" fill="#0031ff"/>
<rect x="608.38" y="264.83" width="3.53" height="1.85" fill="#002dff"/>
<rect x="608.38" y="263.04" width="3.53" height="1.85" fill="#003bff"/>
<rect x="608.38" y="261.25" width="3.53" height="1.85" fill="#0041ff"/>
<rect x="608.38" y="259.45" width="3.53" height="1.85" fill="#002eff"/>
<rect x="608.38" y="257.65" width="3.53" height="1.85" fill="#0026ff"/>
<rect x="608.38" y="255.86" width="3.53" height="1.85" fill="#004eff"/>
<rect x="608.38" y="254.06" width="3.53" height="1.85" fill="#00cfff"/>
<rect x="608.38" y="252.27" width="3.53" height="1.85" fill="#1effe1"/>
<rect x="611.86" y="275.60" width="3.53" height="2.59" fill="#0029ff"/>
<rect x="611.86" y="273.81" width="3.53" height="1.85" fill="#001bff"/>
<rect x="611.86" y="272.01" width="3.53" height="1.85" fill="#0020ff"/>
<rect x="611.86" y="270.22" width="3.53" height="1.85" fill="#0031ff"/>
<rect x="611.86" y="268.42" width="3.53" height="1.85" fill="#002fff"/>
<rect x="611.86" y="266.63" width="3.53" height="1.85" fill="#0034ff"/>
<rect x="611.86" y="264.83" width="3.53" height="1.85" fill="#0037ff"/>
<rect x="611.86" y="263.04" width="3.53" height="1.85" fill="#003bff"/>
<rect x="611.86" y="261.25" width="3.53" height="1.85" fill="#0038ff"/>
<rect x="611.86" y="259.45" width="3.53" height="1.85" fill="#0022ff"/>
<rect x="611.86" y="257.65" width="3.53" height="1.85" fill="#0025ff"/>
<rect x="611.86" y="255.86" width="3.53" height="1.85" fill="#005aff"/>
<rect x="611.86" y="254.06" width="3.53" height="1.85" fill="#00d0ff"/>
<rect x="611.86" y="252.27" width="3.53" height="1.85" fill="#18ffe7"/>
<rect x="615.34" y="275.60" width="3.53" height="2.59" fill="#0024ff"/>
<rect x="615.34" y="273.81" width="3.53" height="1.85" fill="#0010ff"/>
<rect x="615.34" y="272.01" width="3.53" height="1.85" fill="#0007ff"/>
<rect x="615.34" y="270.22" width="3.53" height="1.85" fill="#0014ff"/>
<rect x="615.34" y="268.42" width="3.53" height="1.85" fill="#002dff"/>
<rect x="615.34" y="266.63" width="3.53" height="1.85" fill="#003dff"/>
<rect x="615.34" y="264.83" width="3.53" height="1.85" fill="#0036ff"/>
<rect x="615.34" y="263.04" width="3.53" height="1.85" fill="#002fff"/>
<rect x="615.34" y="261.25" width="3.53" height="1.85" fill="#002cff"/>
<rect x="615.34" y="259.45" width="3.53" height="1.85" fill="#000eff"/>
<rect x="615.34" y="257.65" width="3.53" height="1.85" fill="#001cff"/>
<rect x="615.34" y="255.86" width="3.53" height="1.85" fill="#0053ff"/>
<rect x="615.34" y="254.06" width="3.53" height="1.85" fill="#00b6ff"/>
<rect x="615.34" y="252.27" width="3.53" height="1.85" fill="#00deff"/>
<rect x="618.82" y="275.60" width="3.53" height="2.59" fill="#001dff"/>
<rect x="618.82" y="273.81" width="3.53" height="1.85" fill="#0009ff"/>
<rect x="618.82" y="272.01" width="3.53" height="1.85" fill="#0000e5"/>
<rect x="618.82" y="270.22" width="3.53" height="1.85" fill="#0000df"/>
<rect x="618.82" y="268.42" width="3.53" height="1.85" fill="#0010ff"/>
<rect x="618.82" y="266.63" width="3.53" height="1.85" fill="#003cff"/>
<rect x="618.82" y="264.83" width="3.53" height="1.85" fill="#002dff"/>
<rect x="618.82" y="263.04" width="3.53" height="1.85" fill="#0012ff"/>
<rect x="618.82" y="261.25" width="3.53" height="1.85" fill="#001dff"/>
<rect x="618.82" y="259.45" width="3.53" height="1.85" fill="#0009ff"/>
<rect x="618.82" y="257.65" width="3.53" height="1.85" fill="#0018ff"/>
<rect x="618.82" y="255.86" width="3.53" height="1.85" fill="#0040ff"/>
<rect x="618.82" y="254.06" width="3.53" height="1.85" fill="#007bff"/>
</g>
<g stroke="#3a3a3a" stroke-width="1.05" fill="none">
<path d="M413.7 61V282.4"/>
<path d="M408.8 61.5H413.7M408.8 169.1H413.7M408.8 277.6H413.7"/>
<path d="M448.4 278v4.4M483.2 278v4.4M518 278v4.4M552.7 278v4.4M587.5 278v4.4M622.3 278v4.4" stroke="#444" stroke-width="0.85"/>
</g>
<g class="t" font-size="14" text-anchor="middle">
<text x="410" y="297.1">-30</text>
<text x="443.3" y="298.4">-20</text>
<text x="478" y="298.4">-10</text>
<text x="517.40" y="298.40">0</text>
<text x="547.9" y="298.4">+10</text>
<text x="587" y="298.4">+20</text>
<text x="620.2" y="298.9">+30</text>
</g>
<text class="t" x="429.9" y="319.9" font-size="13.5" textLength="169.6" lengthAdjust="spacingAndGlyphs">Insult intensity (mmHg)</text>
<g class="t" font-size="14" text-anchor="middle">
<text transform="translate(403 60) rotate(-90)">120</text>
<text transform="translate(403 169) rotate(-90)">60</text>
<text transform="translate(403 276.7) rotate(-90)">0</text>
</g>
<text class="t" font-size="13.5" transform="translate(366.4 254.8) rotate(-90)" textLength="176.5" lengthAdjust="spacingAndGlyphs">Insult duration (minutes)</text>
<rect x="642.4" y="60.8" width="19.6" height="235" fill="url(#jet)"/>
<g class="a" font-size="9.6" stroke="#111" stroke-width="0.3">
<text x="671.20" y="63.80">1</text>
<text x="667.30" y="122.90">0.5</text>
<text x="671.60" y="182.20">0</text>
<text x="664.60" y="240.70">−0.5</text>
<text x="668.20" y="299.50">−1</text>
</g>
</svg>
</body>
</html>
